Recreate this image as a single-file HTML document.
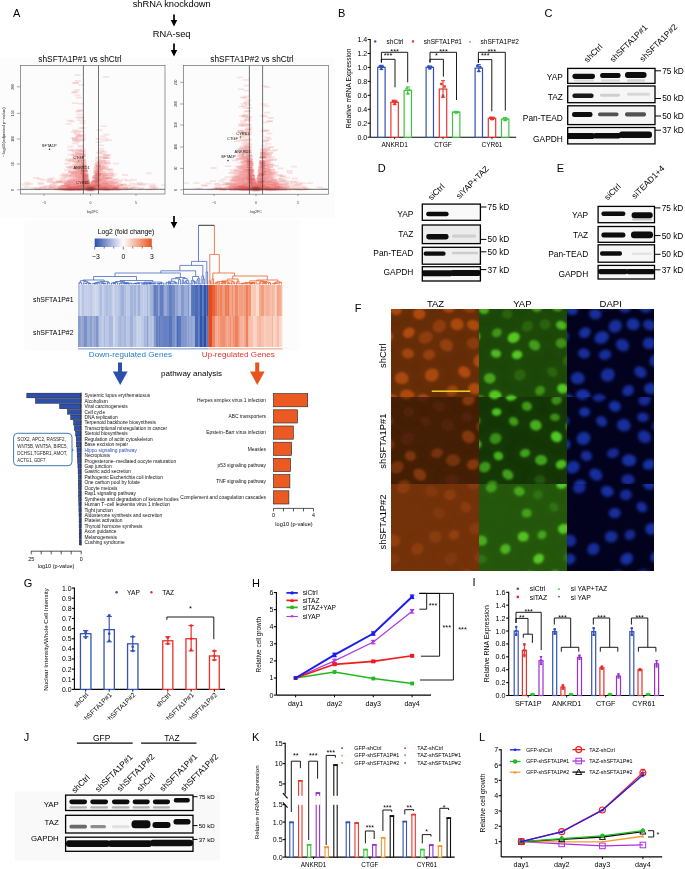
<!DOCTYPE html>
<html><head><meta charset="utf-8"><title>Figure</title>
<style>
html,body{margin:0;padding:0;background:#fff;}
svg{display:block;}
text{font-family:"Liberation Sans", Arial, sans-serif;}
</style></head><body>
<svg width="685" height="869" viewBox="0 0 685 869">
<defs><filter id="vb" x="-20%" y="-50%" width="140%" height="200%"><feGaussianBlur stdDeviation="0.35"/></filter><filter id="vb2" x="-50%" y="-50%" width="200%" height="200%"><feGaussianBlur stdDeviation="1.0"/></filter></defs>
<rect x="0.00" y="58.00" width="335.00" height="160.00" fill="#fcfcfc"/>
<rect x="24.50" y="219.60" width="275.00" height="130.70" fill="#fcfcfc"/>
<text x="13.00" y="17.20" font-size="11">A</text>
<text x="171.70" y="6.90" font-size="9.3" text-anchor="middle">shRNA knockdown</text>
<rect x="173.15" y="14.50" width="1.70" height="6.00" fill="#000"/><polygon points="170.75,20.00 177.25,20.00 174.00,26.50" fill="#000"/>
<text x="171.70" y="36.80" font-size="9.3" text-anchor="middle">RNA-seq</text>
<rect x="173.15" y="43.50" width="1.70" height="7.00" fill="#000"/><polygon points="170.75,50.00 177.25,50.00 174.00,56.50" fill="#000"/>
<text x="80.00" y="62.30" font-size="8.3" text-anchor="middle">shSFTA1P#1 vs shCtrl</text>
<text x="252.00" y="62.30" font-size="8.3" text-anchor="middle">shSFTA1P#2 vs shCtrl</text>
<clipPath id="vclip11"><rect x="20.3" y="65.5" width="144.7" height="128.5"/></clipPath>
<g clip-path="url(#vclip11)">
<path d="M72.8 172.8h6.2v1.8h-6.2zM79.7 178.4h6.2v1.8h-6.2zM69.5 188.4h6.2v1.8h-6.2zM72.7 161.0h6.2v1.8h-6.2zM70.6 137.3h6.2v1.8h-6.2zM77.5 172.4h6.2v1.8h-6.2zM79.9 148.5h6.2v1.8h-6.2zM96.5 168.7h6.2v1.8h-6.2zM77.6 175.1h6.2v1.8h-6.2zM39.5 179.1h6.2v1.8h-6.2zM148.7 186.2h6.2v1.8h-6.2zM69.0 165.5h6.2v1.8h-6.2zM161.2 184.2h6.2v1.8h-6.2zM75.8 184.3h6.2v1.8h-6.2zM119.8 187.0h6.2v1.8h-6.2zM106.8 177.0h6.2v1.8h-6.2zM71.3 164.6h6.2v1.8h-6.2zM58.1 186.0h6.2v1.8h-6.2zM78.6 177.4h6.2v1.8h-6.2zM101.1 177.1h6.2v1.8h-6.2zM95.9 173.0h6.2v1.8h-6.2zM78.8 182.8h6.2v1.8h-6.2zM77.5 187.1h6.2v1.8h-6.2zM102.9 182.3h6.2v1.8h-6.2zM104.2 188.3h6.2v1.8h-6.2zM75.1 177.4h6.2v1.8h-6.2zM72.3 182.7h6.2v1.8h-6.2zM79.6 120.0h6.2v1.8h-6.2zM69.6 170.2h6.2v1.8h-6.2zM109.3 178.9h6.2v1.8h-6.2zM70.2 183.3h6.2v1.8h-6.2zM101.7 188.7h6.2v1.8h-6.2zM60.2 186.5h6.2v1.8h-6.2zM112.8 186.8h6.2v1.8h-6.2zM99.8 153.8h6.2v1.8h-6.2zM102.9 157.2h6.2v1.8h-6.2zM51.8 181.3h6.2v1.8h-6.2zM99.5 183.4h6.2v1.8h-6.2zM98.0 167.7h6.2v1.8h-6.2zM67.2 187.8h6.2v1.8h-6.2zM79.4 122.3h6.2v1.8h-6.2zM95.4 179.5h6.2v1.8h-6.2zM67.7 153.7h6.2v1.8h-6.2zM79.5 155.1h6.2v1.8h-6.2zM68.5 174.0h6.2v1.8h-6.2zM46.2 185.8h6.2v1.8h-6.2zM24.3 181.8h6.2v1.8h-6.2zM103.4 174.3h6.2v1.8h-6.2zM59.0 174.7h6.2v1.8h-6.2zM100.1 173.1h6.2v1.8h-6.2zM76.3 136.6h6.2v1.8h-6.2zM77.6 117.0h6.2v1.8h-6.2zM78.7 173.5h6.2v1.8h-6.2zM109.5 187.9h6.2v1.8h-6.2zM120.9 178.7h6.2v1.8h-6.2zM104.3 185.6h6.2v1.8h-6.2zM101.4 182.8h6.2v1.8h-6.2zM74.9 188.1h6.2v1.8h-6.2zM76.6 153.7h6.2v1.8h-6.2zM79.5 186.3h6.2v1.8h-6.2zM73.2 175.1h6.2v1.8h-6.2zM58.3 181.0h6.2v1.8h-6.2zM76.8 154.0h6.2v1.8h-6.2zM68.2 183.9h6.2v1.8h-6.2zM37.0 177.9h6.2v1.8h-6.2zM53.7 181.4h6.2v1.8h-6.2zM102.3 166.8h6.2v1.8h-6.2zM100.7 175.8h6.2v1.8h-6.2zM121.4 188.6h6.2v1.8h-6.2zM150.8 185.3h6.2v1.8h-6.2zM126.6 187.7h6.2v1.8h-6.2zM100.7 165.4h6.2v1.8h-6.2zM71.8 185.7h6.2v1.8h-6.2zM75.1 166.2h6.2v1.8h-6.2zM73.4 179.3h6.2v1.8h-6.2zM97.5 185.5h6.2v1.8h-6.2zM77.4 168.1h6.2v1.8h-6.2zM101.2 181.2h6.2v1.8h-6.2zM98.9 181.1h6.2v1.8h-6.2zM109.2 186.3h6.2v1.8h-6.2zM69.0 186.0h6.2v1.8h-6.2zM72.5 156.6h6.2v1.8h-6.2zM61.3 182.7h6.2v1.8h-6.2zM73.9 165.4h6.2v1.8h-6.2zM105.1 154.1h6.2v1.8h-6.2zM78.3 150.4h6.2v1.8h-6.2zM74.3 185.2h6.2v1.8h-6.2zM101.6 139.7h6.2v1.8h-6.2zM62.9 180.3h6.2v1.8h-6.2zM96.0 165.4h6.2v1.8h-6.2zM94.9 178.4h6.2v1.8h-6.2zM95.1 181.5h6.2v1.8h-6.2zM96.6 170.3h6.2v1.8h-6.2zM105.2 184.8h6.2v1.8h-6.2zM78.8 172.9h6.2v1.8h-6.2zM66.5 188.7h6.2v1.8h-6.2zM43.1 185.7h6.2v1.8h-6.2zM71.1 172.2h6.2v1.8h-6.2zM73.2 171.6h6.2v1.8h-6.2zM76.7 119.3h6.2v1.8h-6.2zM73.7 162.6h6.2v1.8h-6.2zM102.6 185.6h6.2v1.8h-6.2zM73.3 188.9h6.2v1.8h-6.2zM102.3 183.9h6.2v1.8h-6.2zM129.0 182.7h6.2v1.8h-6.2zM110.1 186.5h6.2v1.8h-6.2zM80.1 177.7h6.2v1.8h-6.2zM104.9 178.8h6.2v1.8h-6.2zM77.5 177.0h6.2v1.8h-6.2zM70.7 174.3h6.2v1.8h-6.2zM107.6 172.3h6.2v1.8h-6.2zM77.5 167.7h6.2v1.8h-6.2zM63.0 184.7h6.2v1.8h-6.2zM46.9 178.6h6.2v1.8h-6.2zM64.6 188.8h6.2v1.8h-6.2zM77.9 178.7h6.2v1.8h-6.2zM77.5 169.9h6.2v1.8h-6.2zM99.3 188.5h6.2v1.8h-6.2zM104.3 183.8h6.2v1.8h-6.2zM108.2 185.3h6.2v1.8h-6.2zM105.9 186.3h6.2v1.8h-6.2zM79.3 136.1h6.2v1.8h-6.2zM65.3 158.6h6.2v1.8h-6.2zM98.0 184.8h6.2v1.8h-6.2zM72.3 171.0h6.2v1.8h-6.2zM96.8 178.4h6.2v1.8h-6.2zM67.5 187.9h6.2v1.8h-6.2zM114.2 188.6h6.2v1.8h-6.2z" fill="#f08888" opacity="0.22" filter="url(#vb)"/>
<path d="M96.6 172.4h6.2v1.8h-6.2zM77.4 175.5h6.2v1.8h-6.2zM61.2 184.9h6.2v1.8h-6.2zM98.8 184.5h6.2v1.8h-6.2zM78.9 158.6h6.2v1.8h-6.2zM101.8 185.4h6.2v1.8h-6.2zM102.2 173.5h6.2v1.8h-6.2zM71.1 184.6h6.2v1.8h-6.2zM98.5 173.2h6.2v1.8h-6.2zM72.2 163.8h6.2v1.8h-6.2zM76.8 185.8h6.2v1.8h-6.2zM76.3 172.5h6.2v1.8h-6.2zM108.4 180.8h6.2v1.8h-6.2zM75.5 178.2h6.2v1.8h-6.2zM97.6 184.2h6.2v1.8h-6.2zM115.7 186.8h6.2v1.8h-6.2zM77.7 176.5h6.2v1.8h-6.2zM72.5 180.7h6.2v1.8h-6.2zM73.7 164.0h6.2v1.8h-6.2zM95.7 183.5h6.2v1.8h-6.2zM78.6 162.4h6.2v1.8h-6.2zM74.8 180.6h6.2v1.8h-6.2zM99.2 187.8h6.2v1.8h-6.2zM66.9 185.5h6.2v1.8h-6.2zM77.2 182.8h6.2v1.8h-6.2zM51.9 182.8h6.2v1.8h-6.2zM64.4 182.1h6.2v1.8h-6.2zM99.3 166.7h6.2v1.8h-6.2zM77.3 161.6h6.2v1.8h-6.2zM76.4 113.6h6.2v1.8h-6.2zM78.0 160.4h6.2v1.8h-6.2zM106.8 183.1h6.2v1.8h-6.2zM116.1 180.6h6.2v1.8h-6.2zM64.5 182.4h6.2v1.8h-6.2zM70.9 178.8h6.2v1.8h-6.2zM68.3 179.4h6.2v1.8h-6.2zM69.7 158.3h6.2v1.8h-6.2zM95.5 183.9h6.2v1.8h-6.2zM65.0 183.4h6.2v1.8h-6.2zM171.4 166.2h6.2v1.8h-6.2zM145.4 188.8h6.2v1.8h-6.2zM98.0 144.5h6.2v1.8h-6.2zM80.0 182.1h6.2v1.8h-6.2zM66.4 187.4h6.2v1.8h-6.2zM75.9 182.9h6.2v1.8h-6.2zM76.3 183.3h6.2v1.8h-6.2zM171.1 175.0h6.2v1.8h-6.2zM94.9 181.9h6.2v1.8h-6.2zM101.9 178.5h6.2v1.8h-6.2zM152.8 187.0h6.2v1.8h-6.2zM75.6 188.6h6.2v1.8h-6.2zM64.3 162.7h6.2v1.8h-6.2zM97.5 186.1h6.2v1.8h-6.2zM56.9 186.4h6.2v1.8h-6.2zM98.4 180.3h6.2v1.8h-6.2zM79.8 159.7h6.2v1.8h-6.2zM101.8 177.3h6.2v1.8h-6.2zM74.6 162.2h6.2v1.8h-6.2zM78.5 183.3h6.2v1.8h-6.2zM67.1 179.3h6.2v1.8h-6.2zM103.3 163.5h6.2v1.8h-6.2zM73.4 187.8h6.2v1.8h-6.2zM102.9 154.0h6.2v1.8h-6.2zM106.6 187.6h6.2v1.8h-6.2zM114.2 181.8h6.2v1.8h-6.2zM95.5 179.3h6.2v1.8h-6.2zM65.2 159.4h6.2v1.8h-6.2zM73.2 186.1h6.2v1.8h-6.2zM96.5 183.6h6.2v1.8h-6.2zM97.8 183.0h6.2v1.8h-6.2zM79.6 179.4h6.2v1.8h-6.2zM114.5 188.8h6.2v1.8h-6.2zM105.9 182.8h6.2v1.8h-6.2zM78.3 186.8h6.2v1.8h-6.2zM110.6 187.3h6.2v1.8h-6.2zM100.1 180.6h6.2v1.8h-6.2zM101.8 174.2h6.2v1.8h-6.2zM69.8 184.0h6.2v1.8h-6.2zM101.6 156.6h6.2v1.8h-6.2zM78.6 186.9h6.2v1.8h-6.2zM77.4 185.9h6.2v1.8h-6.2zM74.9 186.0h6.2v1.8h-6.2zM73.0 171.7h6.2v1.8h-6.2zM76.4 148.8h6.2v1.8h-6.2zM76.6 187.5h6.2v1.8h-6.2zM104.8 161.9h6.2v1.8h-6.2zM76.0 187.2h6.2v1.8h-6.2zM96.5 181.2h6.2v1.8h-6.2zM76.0 187.0h6.2v1.8h-6.2zM56.6 186.0h6.2v1.8h-6.2zM66.5 179.5h6.2v1.8h-6.2zM102.3 183.8h6.2v1.8h-6.2zM99.5 186.8h6.2v1.8h-6.2zM99.4 185.7h6.2v1.8h-6.2zM107.6 173.3h6.2v1.8h-6.2zM108.3 184.5h6.2v1.8h-6.2zM74.2 179.1h6.2v1.8h-6.2zM65.5 122.9h6.2v1.8h-6.2zM97.8 184.8h6.2v1.8h-6.2zM98.2 150.0h6.2v1.8h-6.2zM57.4 186.0h6.2v1.8h-6.2zM73.3 179.0h6.2v1.8h-6.2zM138.4 187.1h6.2v1.8h-6.2zM77.1 134.4h6.2v1.8h-6.2zM108.2 183.3h6.2v1.8h-6.2zM76.7 158.2h6.2v1.8h-6.2zM99.5 181.4h6.2v1.8h-6.2zM104.1 185.8h6.2v1.8h-6.2zM66.0 188.5h6.2v1.8h-6.2zM68.0 172.0h6.2v1.8h-6.2zM76.3 172.7h6.2v1.8h-6.2zM71.8 180.9h6.2v1.8h-6.2zM77.1 167.6h6.2v1.8h-6.2zM74.1 188.0h6.2v1.8h-6.2zM72.2 137.0h6.2v1.8h-6.2zM107.3 184.8h6.2v1.8h-6.2zM64.1 184.5h6.2v1.8h-6.2zM99.1 156.1h6.2v1.8h-6.2zM107.1 187.9h6.2v1.8h-6.2zM53.2 186.3h6.2v1.8h-6.2zM15.3 182.9h6.2v1.8h-6.2zM72.5 140.1h6.2v1.8h-6.2zM72.8 184.5h6.2v1.8h-6.2zM66.3 183.6h6.2v1.8h-6.2zM96.9 150.7h6.2v1.8h-6.2zM78.5 153.3h6.2v1.8h-6.2zM75.8 161.9h6.2v1.8h-6.2zM62.2 186.1h6.2v1.8h-6.2zM75.0 151.8h6.2v1.8h-6.2zM63.9 176.3h6.2v1.8h-6.2zM65.3 187.7h6.2v1.8h-6.2zM68.2 176.6h6.2v1.8h-6.2zM63.4 188.8h6.2v1.8h-6.2zM96.3 180.4h6.2v1.8h-6.2zM69.5 166.5h6.2v1.8h-6.2zM76.2 168.7h6.2v1.8h-6.2z" fill="#f08888" opacity="0.22" filter="url(#vb)"/>
<path d="M72.9 186.1h6.2v1.8h-6.2zM112.6 178.2h6.2v1.8h-6.2zM108.9 187.0h6.2v1.8h-6.2zM62.8 187.4h6.2v1.8h-6.2zM103.2 186.0h6.2v1.8h-6.2zM98.2 185.5h6.2v1.8h-6.2zM76.8 176.8h6.2v1.8h-6.2zM74.7 171.8h6.2v1.8h-6.2zM75.2 162.9h6.2v1.8h-6.2zM72.8 188.6h6.2v1.8h-6.2zM105.2 183.8h6.2v1.8h-6.2zM74.6 169.1h6.2v1.8h-6.2zM77.4 170.1h6.2v1.8h-6.2zM72.6 165.6h6.2v1.8h-6.2zM72.8 82.1h6.2v1.8h-6.2zM77.2 174.1h6.2v1.8h-6.2zM111.9 187.5h6.2v1.8h-6.2zM121.5 185.9h6.2v1.8h-6.2zM23.8 185.9h6.2v1.8h-6.2zM74.0 89.2h6.2v1.8h-6.2zM77.5 185.0h6.2v1.8h-6.2zM55.5 179.7h6.2v1.8h-6.2zM71.2 180.2h6.2v1.8h-6.2zM96.8 186.9h6.2v1.8h-6.2zM73.1 179.9h6.2v1.8h-6.2zM62.4 173.7h6.2v1.8h-6.2zM107.2 168.5h6.2v1.8h-6.2zM78.7 165.1h6.2v1.8h-6.2zM74.5 171.6h6.2v1.8h-6.2zM73.3 176.1h6.2v1.8h-6.2zM73.9 157.1h6.2v1.8h-6.2zM98.4 188.5h6.2v1.8h-6.2zM75.1 187.4h6.2v1.8h-6.2zM77.3 156.1h6.2v1.8h-6.2zM95.9 174.5h6.2v1.8h-6.2zM100.1 152.3h6.2v1.8h-6.2zM80.0 176.8h6.2v1.8h-6.2zM72.4 185.1h6.2v1.8h-6.2zM74.7 173.3h6.2v1.8h-6.2zM76.6 173.1h6.2v1.8h-6.2zM106.5 185.8h6.2v1.8h-6.2zM100.9 150.7h6.2v1.8h-6.2zM106.9 188.6h6.2v1.8h-6.2zM101.8 174.1h6.2v1.8h-6.2zM71.6 102.3h6.2v1.8h-6.2zM98.1 182.5h6.2v1.8h-6.2zM137.4 188.5h6.2v1.8h-6.2zM72.9 166.3h6.2v1.8h-6.2zM106.7 185.1h6.2v1.8h-6.2zM63.6 187.0h6.2v1.8h-6.2zM74.4 161.0h6.2v1.8h-6.2zM64.6 187.6h6.2v1.8h-6.2zM69.4 180.3h6.2v1.8h-6.2zM77.7 182.2h6.2v1.8h-6.2zM44.9 184.9h6.2v1.8h-6.2zM64.7 186.2h6.2v1.8h-6.2zM47.5 186.7h6.2v1.8h-6.2zM72.5 182.2h6.2v1.8h-6.2zM99.0 158.9h6.2v1.8h-6.2zM95.8 184.6h6.2v1.8h-6.2zM74.8 80.1h6.2v1.8h-6.2zM33.3 176.9h6.2v1.8h-6.2zM102.3 182.9h6.2v1.8h-6.2zM80.0 180.8h6.2v1.8h-6.2zM63.3 188.6h6.2v1.8h-6.2zM105.2 188.4h6.2v1.8h-6.2zM102.4 167.3h6.2v1.8h-6.2zM77.6 158.4h6.2v1.8h-6.2zM95.0 177.9h6.2v1.8h-6.2zM74.4 170.7h6.2v1.8h-6.2zM74.2 168.2h6.2v1.8h-6.2zM126.2 187.1h6.2v1.8h-6.2zM136.7 182.0h6.2v1.8h-6.2zM74.9 172.3h6.2v1.8h-6.2zM75.8 160.6h6.2v1.8h-6.2zM103.6 162.1h6.2v1.8h-6.2zM66.4 188.1h6.2v1.8h-6.2zM78.7 187.7h6.2v1.8h-6.2zM304.8 185.3h6.2v1.8h-6.2zM98.4 174.7h6.2v1.8h-6.2zM122.6 185.8h6.2v1.8h-6.2zM115.2 187.7h6.2v1.8h-6.2zM109.2 187.7h6.2v1.8h-6.2zM78.3 181.2h6.2v1.8h-6.2zM72.4 171.3h6.2v1.8h-6.2zM76.6 162.4h6.2v1.8h-6.2zM72.6 157.8h6.2v1.8h-6.2zM71.9 138.4h6.2v1.8h-6.2zM77.2 178.5h6.2v1.8h-6.2zM72.7 188.5h6.2v1.8h-6.2zM78.7 188.4h6.2v1.8h-6.2zM63.5 187.6h6.2v1.8h-6.2zM105.9 187.8h6.2v1.8h-6.2zM68.9 120.5h6.2v1.8h-6.2zM146.1 172.5h6.2v1.8h-6.2zM62.1 186.4h6.2v1.8h-6.2zM75.9 164.5h6.2v1.8h-6.2zM104.5 186.5h6.2v1.8h-6.2zM77.6 156.5h6.2v1.8h-6.2zM46.0 181.0h6.2v1.8h-6.2zM97.2 165.4h6.2v1.8h-6.2zM99.0 164.4h6.2v1.8h-6.2zM71.4 186.1h6.2v1.8h-6.2zM74.9 174.7h6.2v1.8h-6.2zM58.7 185.4h6.2v1.8h-6.2zM64.2 169.5h6.2v1.8h-6.2zM22.1 183.6h6.2v1.8h-6.2zM94.9 174.0h6.2v1.8h-6.2zM135.0 183.6h6.2v1.8h-6.2zM62.0 185.7h6.2v1.8h-6.2zM71.2 172.7h6.2v1.8h-6.2zM59.3 185.7h6.2v1.8h-6.2zM100.7 187.3h6.2v1.8h-6.2zM77.0 110.1h6.2v1.8h-6.2zM70.5 186.0h6.2v1.8h-6.2zM75.0 183.3h6.2v1.8h-6.2zM78.7 139.2h6.2v1.8h-6.2zM105.8 184.9h6.2v1.8h-6.2zM68.9 181.8h6.2v1.8h-6.2zM67.1 180.6h6.2v1.8h-6.2zM38.1 186.8h6.2v1.8h-6.2zM110.6 187.3h6.2v1.8h-6.2zM77.7 102.8h6.2v1.8h-6.2zM78.0 187.2h6.2v1.8h-6.2zM74.8 181.9h6.2v1.8h-6.2zM79.1 185.7h6.2v1.8h-6.2zM69.3 187.7h6.2v1.8h-6.2zM120.3 183.4h6.2v1.8h-6.2zM96.3 173.9h6.2v1.8h-6.2zM105.8 139.3h6.2v1.8h-6.2z" fill="#f08888" opacity="0.22" filter="url(#vb)"/>
<path d="M99.1 188.3h6.2v1.8h-6.2zM77.4 177.8h6.2v1.8h-6.2zM68.0 181.6h6.2v1.8h-6.2zM79.1 181.7h6.2v1.8h-6.2zM172.1 185.3h6.2v1.8h-6.2zM111.4 185.9h6.2v1.8h-6.2zM108.0 185.6h6.2v1.8h-6.2zM98.7 170.9h6.2v1.8h-6.2zM70.8 91.6h6.2v1.8h-6.2zM68.0 170.2h6.2v1.8h-6.2zM78.6 171.8h6.2v1.8h-6.2zM70.3 180.8h6.2v1.8h-6.2zM78.7 180.9h6.2v1.8h-6.2zM39.7 187.0h6.2v1.8h-6.2zM96.1 165.4h6.2v1.8h-6.2zM100.9 188.6h6.2v1.8h-6.2zM97.2 181.3h6.2v1.8h-6.2zM125.1 179.6h6.2v1.8h-6.2zM75.4 153.5h6.2v1.8h-6.2zM65.7 174.3h6.2v1.8h-6.2zM100.5 168.2h6.2v1.8h-6.2zM71.6 187.4h6.2v1.8h-6.2zM111.2 173.2h6.2v1.8h-6.2zM72.0 170.5h6.2v1.8h-6.2zM72.5 170.4h6.2v1.8h-6.2zM76.3 187.7h6.2v1.8h-6.2zM78.9 181.7h6.2v1.8h-6.2zM74.5 175.5h6.2v1.8h-6.2zM76.9 181.5h6.2v1.8h-6.2zM71.7 184.5h6.2v1.8h-6.2zM102.7 181.1h6.2v1.8h-6.2zM78.1 179.4h6.2v1.8h-6.2zM107.1 186.0h6.2v1.8h-6.2zM77.4 185.9h6.2v1.8h-6.2zM100.5 188.5h6.2v1.8h-6.2zM149.4 188.5h6.2v1.8h-6.2zM72.4 174.1h6.2v1.8h-6.2zM97.8 172.0h6.2v1.8h-6.2zM38.3 183.5h6.2v1.8h-6.2zM105.0 185.9h6.2v1.8h-6.2zM69.0 159.8h6.2v1.8h-6.2zM70.7 171.7h6.2v1.8h-6.2zM79.0 179.6h6.2v1.8h-6.2zM100.7 183.0h6.2v1.8h-6.2zM76.1 181.0h6.2v1.8h-6.2zM79.1 166.7h6.2v1.8h-6.2zM103.5 183.4h6.2v1.8h-6.2zM79.1 166.8h6.2v1.8h-6.2zM40.1 187.3h6.2v1.8h-6.2zM78.7 175.9h6.2v1.8h-6.2zM65.6 166.2h6.2v1.8h-6.2zM78.2 171.3h6.2v1.8h-6.2zM76.7 180.0h6.2v1.8h-6.2zM110.3 187.7h6.2v1.8h-6.2zM101.0 162.4h6.2v1.8h-6.2zM103.9 181.2h6.2v1.8h-6.2zM59.7 185.5h6.2v1.8h-6.2zM76.0 182.3h6.2v1.8h-6.2zM74.1 133.1h6.2v1.8h-6.2zM106.6 188.3h6.2v1.8h-6.2zM78.4 181.3h6.2v1.8h-6.2zM66.6 184.5h6.2v1.8h-6.2zM97.1 179.5h6.2v1.8h-6.2zM104.3 187.3h6.2v1.8h-6.2zM98.6 176.3h6.2v1.8h-6.2zM72.2 186.7h6.2v1.8h-6.2zM71.3 182.6h6.2v1.8h-6.2zM75.6 156.9h6.2v1.8h-6.2zM122.0 174.1h6.2v1.8h-6.2zM79.2 170.0h6.2v1.8h-6.2zM110.0 185.4h6.2v1.8h-6.2zM79.8 127.0h6.2v1.8h-6.2zM96.8 165.9h6.2v1.8h-6.2zM72.5 167.5h6.2v1.8h-6.2zM55.5 188.3h6.2v1.8h-6.2zM75.0 176.6h6.2v1.8h-6.2zM46.5 179.0h6.2v1.8h-6.2zM47.6 180.7h6.2v1.8h-6.2zM97.5 168.1h6.2v1.8h-6.2zM66.3 187.8h6.2v1.8h-6.2zM100.6 187.1h6.2v1.8h-6.2zM99.4 178.2h6.2v1.8h-6.2zM61.3 188.1h6.2v1.8h-6.2zM58.2 187.4h6.2v1.8h-6.2zM72.2 172.0h6.2v1.8h-6.2zM94.9 174.4h6.2v1.8h-6.2zM53.8 185.0h6.2v1.8h-6.2zM98.9 183.2h6.2v1.8h-6.2zM96.0 180.2h6.2v1.8h-6.2zM77.9 176.2h6.2v1.8h-6.2zM78.0 153.0h6.2v1.8h-6.2zM80.0 186.1h6.2v1.8h-6.2zM96.3 182.9h6.2v1.8h-6.2zM63.4 182.0h6.2v1.8h-6.2zM75.1 170.5h6.2v1.8h-6.2zM100.4 172.2h6.2v1.8h-6.2zM70.9 170.4h6.2v1.8h-6.2zM104.9 168.8h6.2v1.8h-6.2zM95.2 179.3h6.2v1.8h-6.2zM97.4 177.5h6.2v1.8h-6.2zM111.6 185.3h6.2v1.8h-6.2zM76.5 180.2h6.2v1.8h-6.2zM72.9 170.5h6.2v1.8h-6.2zM102.1 187.3h6.2v1.8h-6.2zM96.1 181.1h6.2v1.8h-6.2zM68.8 187.1h6.2v1.8h-6.2zM69.5 187.0h6.2v1.8h-6.2zM79.9 164.6h6.2v1.8h-6.2zM68.1 183.9h6.2v1.8h-6.2zM101.9 184.1h6.2v1.8h-6.2zM109.0 184.2h6.2v1.8h-6.2zM73.3 174.6h6.2v1.8h-6.2zM97.3 170.8h6.2v1.8h-6.2zM69.6 148.9h6.2v1.8h-6.2zM79.7 184.4h6.2v1.8h-6.2zM105.8 177.2h6.2v1.8h-6.2zM75.1 187.3h6.2v1.8h-6.2zM99.1 160.0h6.2v1.8h-6.2zM59.7 188.3h6.2v1.8h-6.2zM99.7 167.4h6.2v1.8h-6.2zM99.0 174.9h6.2v1.8h-6.2zM108.2 181.9h6.2v1.8h-6.2zM68.1 179.6h6.2v1.8h-6.2zM68.4 181.7h6.2v1.8h-6.2zM71.5 149.9h6.2v1.8h-6.2zM103.3 184.9h6.2v1.8h-6.2zM76.1 160.1h6.2v1.8h-6.2zM73.6 185.9h6.2v1.8h-6.2zM109.8 181.9h6.2v1.8h-6.2zM98.5 172.1h6.2v1.8h-6.2z" fill="#f08888" opacity="0.22" filter="url(#vb)"/>
<path d="M124.4 184.5h6.2v1.8h-6.2zM100.5 156.6h6.2v1.8h-6.2zM109.7 175.0h6.2v1.8h-6.2zM104.6 180.1h6.2v1.8h-6.2zM96.7 161.3h6.2v1.8h-6.2zM75.6 172.2h6.2v1.8h-6.2zM100.7 183.9h6.2v1.8h-6.2zM73.8 174.2h6.2v1.8h-6.2zM74.8 167.5h6.2v1.8h-6.2zM95.5 173.4h6.2v1.8h-6.2zM97.1 187.8h6.2v1.8h-6.2zM34.5 188.5h6.2v1.8h-6.2zM129.1 187.6h6.2v1.8h-6.2zM75.7 171.3h6.2v1.8h-6.2zM74.9 110.7h6.2v1.8h-6.2zM68.4 187.2h6.2v1.8h-6.2zM61.2 187.7h6.2v1.8h-6.2zM114.7 182.9h6.2v1.8h-6.2zM61.5 177.2h6.2v1.8h-6.2zM66.0 187.3h6.2v1.8h-6.2zM69.5 188.6h6.2v1.8h-6.2zM60.2 185.4h6.2v1.8h-6.2zM78.0 169.9h6.2v1.8h-6.2zM72.8 183.0h6.2v1.8h-6.2zM60.8 188.0h6.2v1.8h-6.2zM78.3 188.5h6.2v1.8h-6.2zM76.8 109.0h6.2v1.8h-6.2zM103.0 176.0h6.2v1.8h-6.2zM76.3 161.1h6.2v1.8h-6.2zM95.4 183.6h6.2v1.8h-6.2zM68.6 174.9h6.2v1.8h-6.2zM75.7 152.4h6.2v1.8h-6.2zM64.7 188.5h6.2v1.8h-6.2zM75.1 116.4h6.2v1.8h-6.2zM112.7 188.0h6.2v1.8h-6.2zM76.3 174.6h6.2v1.8h-6.2zM104.2 188.7h6.2v1.8h-6.2zM64.0 183.3h6.2v1.8h-6.2zM103.6 187.7h6.2v1.8h-6.2zM75.7 183.6h6.2v1.8h-6.2zM79.1 177.3h6.2v1.8h-6.2zM100.2 184.4h6.2v1.8h-6.2zM94.9 181.0h6.2v1.8h-6.2zM111.8 181.7h6.2v1.8h-6.2zM61.5 173.0h6.2v1.8h-6.2zM53.9 187.3h6.2v1.8h-6.2zM63.7 181.7h6.2v1.8h-6.2zM96.2 187.8h6.2v1.8h-6.2zM107.5 185.5h6.2v1.8h-6.2zM96.5 186.3h6.2v1.8h-6.2zM114.5 188.2h6.2v1.8h-6.2zM116.5 186.7h6.2v1.8h-6.2zM116.7 184.6h6.2v1.8h-6.2zM79.0 166.3h6.2v1.8h-6.2zM149.4 183.5h6.2v1.8h-6.2zM58.8 188.6h6.2v1.8h-6.2zM108.7 186.2h6.2v1.8h-6.2zM107.2 170.8h6.2v1.8h-6.2zM69.2 180.9h6.2v1.8h-6.2zM78.1 178.6h6.2v1.8h-6.2zM111.5 185.0h6.2v1.8h-6.2zM71.9 173.5h6.2v1.8h-6.2zM74.5 172.4h6.2v1.8h-6.2zM67.6 178.2h6.2v1.8h-6.2zM79.0 154.1h6.2v1.8h-6.2zM77.3 144.8h6.2v1.8h-6.2zM96.7 168.5h6.2v1.8h-6.2zM103.7 160.0h6.2v1.8h-6.2zM78.0 187.7h6.2v1.8h-6.2zM45.2 187.6h6.2v1.8h-6.2zM115.0 184.1h6.2v1.8h-6.2zM78.3 176.4h6.2v1.8h-6.2zM75.1 185.0h6.2v1.8h-6.2zM110.0 188.3h6.2v1.8h-6.2zM102.0 182.7h6.2v1.8h-6.2zM66.7 166.1h6.2v1.8h-6.2zM99.6 188.3h6.2v1.8h-6.2zM70.7 188.5h6.2v1.8h-6.2zM103.4 133.8h6.2v1.8h-6.2zM75.5 135.5h6.2v1.8h-6.2zM101.7 177.3h6.2v1.8h-6.2zM64.6 180.8h6.2v1.8h-6.2zM78.3 171.6h6.2v1.8h-6.2zM66.9 182.9h6.2v1.8h-6.2zM79.2 185.3h6.2v1.8h-6.2zM34.0 187.3h6.2v1.8h-6.2zM70.0 177.8h6.2v1.8h-6.2zM52.9 188.5h6.2v1.8h-6.2zM78.1 168.8h6.2v1.8h-6.2zM96.2 178.6h6.2v1.8h-6.2zM72.1 185.5h6.2v1.8h-6.2zM79.2 187.3h6.2v1.8h-6.2zM76.7 170.8h6.2v1.8h-6.2zM79.5 173.9h6.2v1.8h-6.2zM69.7 188.2h6.2v1.8h-6.2zM100.2 187.7h6.2v1.8h-6.2zM101.3 183.7h6.2v1.8h-6.2zM68.1 185.9h6.2v1.8h-6.2zM66.1 184.7h6.2v1.8h-6.2zM67.2 149.2h6.2v1.8h-6.2zM73.3 168.2h6.2v1.8h-6.2zM95.6 179.4h6.2v1.8h-6.2zM72.8 158.4h6.2v1.8h-6.2zM70.6 183.6h6.2v1.8h-6.2zM95.8 151.9h6.2v1.8h-6.2zM100.6 125.3h6.2v1.8h-6.2zM78.9 159.8h6.2v1.8h-6.2zM77.3 152.6h6.2v1.8h-6.2zM75.1 188.2h6.2v1.8h-6.2zM103.1 188.6h6.2v1.8h-6.2zM95.8 179.1h6.2v1.8h-6.2zM99.1 179.1h6.2v1.8h-6.2zM97.2 162.7h6.2v1.8h-6.2zM99.7 135.5h6.2v1.8h-6.2zM73.3 165.3h6.2v1.8h-6.2zM77.9 116.2h6.2v1.8h-6.2zM66.3 183.6h6.2v1.8h-6.2zM98.9 185.7h6.2v1.8h-6.2zM95.2 187.9h6.2v1.8h-6.2zM96.0 177.9h6.2v1.8h-6.2zM111.0 182.1h6.2v1.8h-6.2zM96.1 187.2h6.2v1.8h-6.2zM112.2 188.7h6.2v1.8h-6.2zM53.0 181.4h6.2v1.8h-6.2zM59.4 187.7h6.2v1.8h-6.2zM96.4 129.3h6.2v1.8h-6.2zM136.8 183.1h6.2v1.8h-6.2zM63.8 186.3h6.2v1.8h-6.2zM79.4 187.3h6.2v1.8h-6.2zM79.8 186.1h6.2v1.8h-6.2zM69.9 178.9h6.2v1.8h-6.2zM123.6 184.7h6.2v1.8h-6.2zM56.7 180.9h6.2v1.8h-6.2zM62.3 185.0h6.2v1.8h-6.2zM79.2 158.0h6.2v1.8h-6.2z" fill="#f08888" opacity="0.22" filter="url(#vb)"/>
<path d="M63.0 188.5h6.2v1.8h-6.2zM73.7 186.5h6.2v1.8h-6.2zM98.3 188.4h6.2v1.8h-6.2zM98.8 186.9h6.2v1.8h-6.2zM104.7 188.0h6.2v1.8h-6.2zM64.4 183.8h6.2v1.8h-6.2zM79.3 169.7h6.2v1.8h-6.2zM106.4 168.7h6.2v1.8h-6.2zM72.3 139.3h6.2v1.8h-6.2zM49.7 183.2h6.2v1.8h-6.2zM103.7 184.2h6.2v1.8h-6.2zM63.8 187.4h6.2v1.8h-6.2zM106.1 183.2h6.2v1.8h-6.2zM50.8 184.4h6.2v1.8h-6.2zM101.1 160.4h6.2v1.8h-6.2zM99.5 178.6h6.2v1.8h-6.2zM79.4 187.4h6.2v1.8h-6.2zM49.8 186.6h6.2v1.8h-6.2zM67.2 167.4h6.2v1.8h-6.2zM110.5 184.4h6.2v1.8h-6.2zM75.6 169.8h6.2v1.8h-6.2zM64.5 188.6h6.2v1.8h-6.2zM55.9 187.4h6.2v1.8h-6.2zM73.3 154.3h6.2v1.8h-6.2zM76.3 175.7h6.2v1.8h-6.2zM76.3 156.4h6.2v1.8h-6.2zM78.7 130.6h6.2v1.8h-6.2zM79.1 164.0h6.2v1.8h-6.2zM74.6 185.8h6.2v1.8h-6.2zM100.5 174.1h6.2v1.8h-6.2zM79.8 151.3h6.2v1.8h-6.2zM76.4 171.0h6.2v1.8h-6.2zM67.2 184.2h6.2v1.8h-6.2zM96.8 183.9h6.2v1.8h-6.2zM76.9 181.3h6.2v1.8h-6.2zM71.8 183.1h6.2v1.8h-6.2zM103.1 187.9h6.2v1.8h-6.2zM75.2 183.8h6.2v1.8h-6.2zM72.8 182.9h6.2v1.8h-6.2zM97.5 184.8h6.2v1.8h-6.2zM72.0 129.2h6.2v1.8h-6.2zM102.6 182.7h6.2v1.8h-6.2zM102.1 137.8h6.2v1.8h-6.2zM73.7 179.7h6.2v1.8h-6.2zM110.2 179.6h6.2v1.8h-6.2zM98.6 177.6h6.2v1.8h-6.2zM77.2 173.7h6.2v1.8h-6.2zM66.7 119.8h6.2v1.8h-6.2zM100.9 176.1h6.2v1.8h-6.2zM72.4 180.7h6.2v1.8h-6.2zM79.6 167.4h6.2v1.8h-6.2zM75.0 138.2h6.2v1.8h-6.2zM75.3 149.1h6.2v1.8h-6.2zM79.9 138.3h6.2v1.8h-6.2zM109.5 186.6h6.2v1.8h-6.2zM73.1 179.1h6.2v1.8h-6.2zM74.3 188.2h6.2v1.8h-6.2zM111.4 181.9h6.2v1.8h-6.2zM79.8 180.9h6.2v1.8h-6.2zM78.0 167.2h6.2v1.8h-6.2zM36.5 188.3h6.2v1.8h-6.2zM101.3 171.3h6.2v1.8h-6.2zM63.1 188.8h6.2v1.8h-6.2zM79.6 155.6h6.2v1.8h-6.2zM150.4 187.5h6.2v1.8h-6.2zM69.0 184.0h6.2v1.8h-6.2zM77.4 151.5h6.2v1.8h-6.2zM101.7 181.3h6.2v1.8h-6.2zM106.6 181.2h6.2v1.8h-6.2zM78.4 175.2h6.2v1.8h-6.2zM96.2 168.6h6.2v1.8h-6.2zM79.6 172.8h6.2v1.8h-6.2zM95.3 172.9h6.2v1.8h-6.2zM55.5 188.7h6.2v1.8h-6.2zM102.2 185.3h6.2v1.8h-6.2zM71.9 81.9h6.2v1.8h-6.2zM101.7 179.5h6.2v1.8h-6.2zM79.8 153.9h6.2v1.8h-6.2zM79.0 171.8h6.2v1.8h-6.2zM77.8 161.9h6.2v1.8h-6.2zM77.8 187.2h6.2v1.8h-6.2zM57.4 188.9h6.2v1.8h-6.2zM99.7 173.2h6.2v1.8h-6.2zM108.8 181.7h6.2v1.8h-6.2zM95.6 186.4h6.2v1.8h-6.2zM96.3 185.9h6.2v1.8h-6.2zM78.4 186.9h6.2v1.8h-6.2zM78.8 171.3h6.2v1.8h-6.2zM65.8 180.6h6.2v1.8h-6.2zM98.2 148.0h6.2v1.8h-6.2zM112.1 185.7h6.2v1.8h-6.2zM73.9 168.2h6.2v1.8h-6.2zM78.0 127.3h6.2v1.8h-6.2zM97.2 188.5h6.2v1.8h-6.2zM112.7 184.8h6.2v1.8h-6.2zM96.4 184.7h6.2v1.8h-6.2zM74.2 171.0h6.2v1.8h-6.2zM102.1 157.1h6.2v1.8h-6.2zM103.8 182.6h6.2v1.8h-6.2zM75.3 174.6h6.2v1.8h-6.2zM97.0 182.3h6.2v1.8h-6.2zM78.2 182.0h6.2v1.8h-6.2zM68.9 187.0h6.2v1.8h-6.2zM75.3 135.7h6.2v1.8h-6.2zM95.6 141.2h6.2v1.8h-6.2zM95.4 178.2h6.2v1.8h-6.2zM79.7 181.5h6.2v1.8h-6.2zM71.7 185.3h6.2v1.8h-6.2zM76.9 187.5h6.2v1.8h-6.2zM61.5 174.9h6.2v1.8h-6.2zM66.6 180.8h6.2v1.8h-6.2zM96.7 184.6h6.2v1.8h-6.2zM76.6 166.3h6.2v1.8h-6.2zM77.9 170.1h6.2v1.8h-6.2zM79.4 185.6h6.2v1.8h-6.2zM72.5 185.7h6.2v1.8h-6.2zM67.5 160.4h6.2v1.8h-6.2zM107.1 188.9h6.2v1.8h-6.2zM62.8 181.7h6.2v1.8h-6.2zM73.4 131.4h6.2v1.8h-6.2zM59.4 177.4h6.2v1.8h-6.2zM104.5 176.6h6.2v1.8h-6.2zM74.8 152.6h6.2v1.8h-6.2zM58.7 181.5h6.2v1.8h-6.2zM37.6 182.1h6.2v1.8h-6.2zM60.1 179.2h6.2v1.8h-6.2zM100.6 178.9h6.2v1.8h-6.2z" fill="#f08888" opacity="0.22" filter="url(#vb)"/>
<path d="M94.9 184.7h6.2v1.8h-6.2zM142.9 182.9h6.2v1.8h-6.2zM74.5 140.8h6.2v1.8h-6.2zM76.2 175.2h6.2v1.8h-6.2zM53.8 188.3h6.2v1.8h-6.2zM99.3 188.5h6.2v1.8h-6.2zM71.3 172.4h6.2v1.8h-6.2zM65.7 188.7h6.2v1.8h-6.2zM76.4 184.3h6.2v1.8h-6.2zM103.1 182.6h6.2v1.8h-6.2zM102.9 76.0h6.2v1.8h-6.2zM98.5 185.7h6.2v1.8h-6.2zM102.2 165.5h6.2v1.8h-6.2zM75.6 134.5h6.2v1.8h-6.2zM76.7 164.6h6.2v1.8h-6.2zM58.5 179.9h6.2v1.8h-6.2zM75.6 175.0h6.2v1.8h-6.2zM74.4 182.0h6.2v1.8h-6.2zM128.9 184.7h6.2v1.8h-6.2zM69.1 187.6h6.2v1.8h-6.2zM74.7 187.7h6.2v1.8h-6.2zM71.8 150.8h6.2v1.8h-6.2zM65.7 180.0h6.2v1.8h-6.2zM101.8 182.2h6.2v1.8h-6.2zM80.1 165.1h6.2v1.8h-6.2zM103.0 174.4h6.2v1.8h-6.2zM72.6 152.5h6.2v1.8h-6.2zM106.9 174.7h6.2v1.8h-6.2zM75.7 183.5h6.2v1.8h-6.2zM114.9 179.5h6.2v1.8h-6.2zM112.0 181.5h6.2v1.8h-6.2zM111.3 185.9h6.2v1.8h-6.2zM100.5 183.3h6.2v1.8h-6.2zM71.5 180.5h6.2v1.8h-6.2zM69.1 168.4h6.2v1.8h-6.2zM63.7 184.6h6.2v1.8h-6.2zM111.6 186.2h6.2v1.8h-6.2zM111.3 185.5h6.2v1.8h-6.2zM72.0 160.4h6.2v1.8h-6.2zM78.4 174.4h6.2v1.8h-6.2zM99.6 180.8h6.2v1.8h-6.2zM74.5 74.2h6.2v1.8h-6.2zM98.5 172.5h6.2v1.8h-6.2zM77.9 170.2h6.2v1.8h-6.2zM95.0 188.4h6.2v1.8h-6.2zM112.4 182.9h6.2v1.8h-6.2zM76.3 184.3h6.2v1.8h-6.2zM109.2 181.8h6.2v1.8h-6.2zM79.3 187.0h6.2v1.8h-6.2zM70.1 178.2h6.2v1.8h-6.2zM99.3 172.9h6.2v1.8h-6.2zM72.2 154.6h6.2v1.8h-6.2zM97.3 187.2h6.2v1.8h-6.2zM107.3 177.4h6.2v1.8h-6.2zM69.2 175.2h6.2v1.8h-6.2zM100.2 185.2h6.2v1.8h-6.2zM99.9 162.0h6.2v1.8h-6.2zM68.5 185.9h6.2v1.8h-6.2zM26.6 183.1h6.2v1.8h-6.2zM13.1 186.2h6.2v1.8h-6.2zM104.0 188.3h6.2v1.8h-6.2zM64.0 182.1h6.2v1.8h-6.2zM79.9 153.3h6.2v1.8h-6.2zM73.6 186.1h6.2v1.8h-6.2zM130.6 179.0h6.2v1.8h-6.2zM129.9 187.4h6.2v1.8h-6.2zM114.9 185.9h6.2v1.8h-6.2zM75.6 181.5h6.2v1.8h-6.2zM57.5 186.6h6.2v1.8h-6.2zM68.0 179.8h6.2v1.8h-6.2zM77.1 181.8h6.2v1.8h-6.2zM78.5 168.9h6.2v1.8h-6.2zM77.0 176.4h6.2v1.8h-6.2zM100.9 178.9h6.2v1.8h-6.2zM55.7 180.9h6.2v1.8h-6.2zM98.7 175.7h6.2v1.8h-6.2zM76.6 184.9h6.2v1.8h-6.2zM104.7 156.9h6.2v1.8h-6.2zM76.3 172.2h6.2v1.8h-6.2zM97.7 182.3h6.2v1.8h-6.2zM75.7 184.8h6.2v1.8h-6.2zM107.0 184.2h6.2v1.8h-6.2zM133.4 186.8h6.2v1.8h-6.2zM76.9 150.2h6.2v1.8h-6.2zM66.6 188.0h6.2v1.8h-6.2zM107.6 180.8h6.2v1.8h-6.2zM107.2 187.8h6.2v1.8h-6.2zM76.8 180.1h6.2v1.8h-6.2zM78.1 186.7h6.2v1.8h-6.2zM68.3 171.4h6.2v1.8h-6.2zM68.0 182.2h6.2v1.8h-6.2zM72.3 142.5h6.2v1.8h-6.2zM109.7 186.5h6.2v1.8h-6.2zM68.4 187.7h6.2v1.8h-6.2zM97.2 161.1h6.2v1.8h-6.2zM99.1 186.1h6.2v1.8h-6.2zM99.1 160.6h6.2v1.8h-6.2zM59.9 184.6h6.2v1.8h-6.2zM78.8 169.6h6.2v1.8h-6.2zM97.1 179.7h6.2v1.8h-6.2zM59.3 188.9h6.2v1.8h-6.2zM76.6 182.1h6.2v1.8h-6.2zM74.0 178.8h6.2v1.8h-6.2zM99.1 186.7h6.2v1.8h-6.2zM72.7 176.2h6.2v1.8h-6.2zM65.6 186.3h6.2v1.8h-6.2zM65.5 184.5h6.2v1.8h-6.2zM79.0 184.4h6.2v1.8h-6.2zM64.5 185.5h6.2v1.8h-6.2zM70.7 131.0h6.2v1.8h-6.2zM71.4 179.6h6.2v1.8h-6.2zM74.0 185.7h6.2v1.8h-6.2zM13.4 184.1h6.2v1.8h-6.2zM123.2 188.5h6.2v1.8h-6.2zM103.0 188.7h6.2v1.8h-6.2zM72.2 183.9h6.2v1.8h-6.2zM72.4 91.1h6.2v1.8h-6.2zM108.1 184.4h6.2v1.8h-6.2zM78.7 159.3h6.2v1.8h-6.2zM96.3 182.9h6.2v1.8h-6.2zM74.8 188.4h6.2v1.8h-6.2zM66.8 188.4h6.2v1.8h-6.2zM76.2 172.5h6.2v1.8h-6.2zM117.6 188.2h6.2v1.8h-6.2zM120.8 183.8h6.2v1.8h-6.2zM78.4 173.8h6.2v1.8h-6.2zM80.0 158.7h6.2v1.8h-6.2z" fill="#f08888" opacity="0.22" filter="url(#vb)"/>
<path d="M96.6 175.2h6.2v1.8h-6.2zM75.1 184.5h6.2v1.8h-6.2zM75.1 169.2h6.2v1.8h-6.2zM64.8 185.3h6.2v1.8h-6.2zM79.7 182.8h6.2v1.8h-6.2zM72.1 138.5h6.2v1.8h-6.2zM78.4 173.0h6.2v1.8h-6.2zM43.0 188.2h6.2v1.8h-6.2zM78.4 83.9h6.2v1.8h-6.2zM66.9 185.3h6.2v1.8h-6.2zM96.6 169.7h6.2v1.8h-6.2zM62.6 185.4h6.2v1.8h-6.2zM48.8 184.6h6.2v1.8h-6.2zM104.7 186.7h6.2v1.8h-6.2zM56.5 181.3h6.2v1.8h-6.2zM99.2 166.9h6.2v1.8h-6.2zM76.9 176.7h6.2v1.8h-6.2zM49.9 187.8h6.2v1.8h-6.2zM73.6 187.2h6.2v1.8h-6.2zM66.0 184.8h6.2v1.8h-6.2zM73.6 187.8h6.2v1.8h-6.2zM99.7 168.6h6.2v1.8h-6.2zM73.1 182.7h6.2v1.8h-6.2zM100.9 168.5h6.2v1.8h-6.2zM76.9 159.8h6.2v1.8h-6.2zM76.6 181.1h6.2v1.8h-6.2zM74.7 182.7h6.2v1.8h-6.2zM67.3 145.8h6.2v1.8h-6.2zM79.0 184.9h6.2v1.8h-6.2zM108.4 183.5h6.2v1.8h-6.2zM79.3 185.3h6.2v1.8h-6.2zM107.8 175.0h6.2v1.8h-6.2zM71.5 178.8h6.2v1.8h-6.2zM139.8 184.3h6.2v1.8h-6.2zM61.0 187.7h6.2v1.8h-6.2zM95.3 180.9h6.2v1.8h-6.2zM106.3 184.3h6.2v1.8h-6.2zM78.1 145.9h6.2v1.8h-6.2zM78.0 139.6h6.2v1.8h-6.2zM69.0 184.7h6.2v1.8h-6.2zM108.0 188.6h6.2v1.8h-6.2zM71.7 171.7h6.2v1.8h-6.2zM71.7 180.8h6.2v1.8h-6.2zM67.7 175.8h6.2v1.8h-6.2zM101.7 177.3h6.2v1.8h-6.2zM71.5 179.4h6.2v1.8h-6.2zM74.5 94.4h6.2v1.8h-6.2zM70.6 184.1h6.2v1.8h-6.2zM68.8 185.6h6.2v1.8h-6.2zM78.5 159.5h6.2v1.8h-6.2zM68.2 180.6h6.2v1.8h-6.2zM68.4 184.8h6.2v1.8h-6.2zM79.5 150.2h6.2v1.8h-6.2zM44.5 187.7h6.2v1.8h-6.2zM96.1 161.7h6.2v1.8h-6.2zM97.9 169.7h6.2v1.8h-6.2zM107.1 181.1h6.2v1.8h-6.2zM94.9 170.6h6.2v1.8h-6.2zM75.8 188.0h6.2v1.8h-6.2zM104.8 188.3h6.2v1.8h-6.2zM95.5 176.5h6.2v1.8h-6.2zM102.3 187.2h6.2v1.8h-6.2zM103.8 185.6h6.2v1.8h-6.2zM75.9 168.0h6.2v1.8h-6.2zM100.4 180.6h6.2v1.8h-6.2zM100.4 168.9h6.2v1.8h-6.2zM77.8 178.8h6.2v1.8h-6.2zM66.9 185.1h6.2v1.8h-6.2zM64.8 175.0h6.2v1.8h-6.2zM97.6 175.2h6.2v1.8h-6.2zM77.7 134.1h6.2v1.8h-6.2zM71.1 154.2h6.2v1.8h-6.2zM67.5 183.0h6.2v1.8h-6.2zM95.7 186.6h6.2v1.8h-6.2zM72.8 171.5h6.2v1.8h-6.2zM98.4 164.4h6.2v1.8h-6.2zM75.1 165.6h6.2v1.8h-6.2zM40.5 186.1h6.2v1.8h-6.2zM99.1 185.3h6.2v1.8h-6.2zM113.0 162.8h6.2v1.8h-6.2zM102.5 185.1h6.2v1.8h-6.2zM71.8 159.1h6.2v1.8h-6.2zM108.4 186.9h6.2v1.8h-6.2zM102.8 188.5h6.2v1.8h-6.2zM77.5 188.1h6.2v1.8h-6.2zM61.0 188.7h6.2v1.8h-6.2zM111.6 187.4h6.2v1.8h-6.2zM79.8 175.3h6.2v1.8h-6.2zM67.0 187.2h6.2v1.8h-6.2zM149.2 185.4h6.2v1.8h-6.2zM69.9 172.9h6.2v1.8h-6.2zM76.9 167.9h6.2v1.8h-6.2zM74.3 184.1h6.2v1.8h-6.2zM74.8 130.5h6.2v1.8h-6.2zM75.7 185.8h6.2v1.8h-6.2zM95.5 138.1h6.2v1.8h-6.2zM30.9 186.9h6.2v1.8h-6.2zM79.6 134.3h6.2v1.8h-6.2zM108.5 187.9h6.2v1.8h-6.2zM97.3 174.5h6.2v1.8h-6.2zM104.2 181.3h6.2v1.8h-6.2zM65.5 183.0h6.2v1.8h-6.2zM76.0 176.5h6.2v1.8h-6.2zM99.4 187.2h6.2v1.8h-6.2zM106.0 182.4h6.2v1.8h-6.2zM103.3 155.1h6.2v1.8h-6.2zM78.9 183.6h6.2v1.8h-6.2zM98.8 183.1h6.2v1.8h-6.2zM78.9 169.6h6.2v1.8h-6.2zM100.1 181.9h6.2v1.8h-6.2zM67.6 188.8h6.2v1.8h-6.2zM72.2 184.6h6.2v1.8h-6.2zM99.6 179.0h6.2v1.8h-6.2zM79.1 163.7h6.2v1.8h-6.2zM78.1 184.5h6.2v1.8h-6.2zM97.1 184.1h6.2v1.8h-6.2zM73.6 177.7h6.2v1.8h-6.2zM95.9 186.0h6.2v1.8h-6.2zM67.7 171.1h6.2v1.8h-6.2zM74.1 171.3h6.2v1.8h-6.2zM75.9 96.7h6.2v1.8h-6.2zM100.0 185.1h6.2v1.8h-6.2zM106.0 173.0h6.2v1.8h-6.2zM109.1 185.2h6.2v1.8h-6.2zM98.0 178.2h6.2v1.8h-6.2zM49.0 177.4h6.2v1.8h-6.2zM124.1 188.1h6.2v1.8h-6.2z" fill="#f08888" opacity="0.22" filter="url(#vb)"/>
<path d="M86.9 188.2h5.6v1.6h-5.6zM89.9 186.1h5.6v1.6h-5.6zM106.0 177.6h5.6v1.6h-5.6zM82.7 177.6h5.6v1.6h-5.6zM95.4 164.8h5.6v1.6h-5.6zM93.6 181.5h5.6v1.6h-5.6zM88.7 188.1h5.6v1.6h-5.6zM92.8 174.8h5.6v1.6h-5.6zM78.3 188.5h5.6v1.6h-5.6zM100.9 187.8h5.6v1.6h-5.6zM94.3 177.1h5.6v1.6h-5.6zM100.8 188.5h5.6v1.6h-5.6zM112.5 187.7h5.6v1.6h-5.6zM87.6 188.9h5.6v1.6h-5.6zM75.5 187.5h5.6v1.6h-5.6zM80.3 188.7h5.6v1.6h-5.6zM90.6 185.1h5.6v1.6h-5.6zM87.0 188.9h5.6v1.6h-5.6zM68.9 188.2h5.6v1.6h-5.6zM77.5 185.6h5.6v1.6h-5.6zM80.5 173.1h5.6v1.6h-5.6zM89.3 184.7h5.6v1.6h-5.6zM69.4 188.8h5.6v1.6h-5.6zM96.5 188.7h5.6v1.6h-5.6zM75.3 187.3h5.6v1.6h-5.6zM104.8 187.6h5.6v1.6h-5.6zM102.4 182.9h5.6v1.6h-5.6zM75.3 187.9h5.6v1.6h-5.6zM94.9 179.4h5.6v1.6h-5.6zM83.6 187.0h5.6v1.6h-5.6zM85.7 185.7h5.6v1.6h-5.6zM82.0 178.7h5.6v1.6h-5.6zM87.0 188.5h5.6v1.6h-5.6zM93.4 172.0h5.6v1.6h-5.6zM75.7 187.0h5.6v1.6h-5.6zM75.6 187.6h5.6v1.6h-5.6zM90.7 188.4h5.6v1.6h-5.6zM87.8 181.7h5.6v1.6h-5.6zM84.0 179.4h5.6v1.6h-5.6zM83.5 185.2h5.6v1.6h-5.6zM81.3 170.6h5.6v1.6h-5.6zM81.5 165.2h5.6v1.6h-5.6zM89.7 187.3h5.6v1.6h-5.6zM66.4 188.4h5.6v1.6h-5.6zM82.9 178.7h5.6v1.6h-5.6zM81.5 183.0h5.6v1.6h-5.6zM79.4 188.0h5.6v1.6h-5.6zM65.4 186.0h5.6v1.6h-5.6zM82.9 176.5h5.6v1.6h-5.6zM82.5 177.8h5.6v1.6h-5.6zM82.2 170.5h5.6v1.6h-5.6zM83.3 187.1h5.6v1.6h-5.6zM85.3 185.5h5.6v1.6h-5.6zM92.3 177.1h5.6v1.6h-5.6zM89.4 187.2h5.6v1.6h-5.6zM90.6 185.6h5.6v1.6h-5.6zM94.9 174.9h5.6v1.6h-5.6zM88.4 188.7h5.6v1.6h-5.6zM63.6 184.8h5.6v1.6h-5.6zM82.9 174.1h5.6v1.6h-5.6zM92.3 179.8h5.6v1.6h-5.6zM84.2 183.2h5.6v1.6h-5.6zM84.2 180.3h5.6v1.6h-5.6zM64.0 184.3h5.6v1.6h-5.6zM85.0 185.7h5.6v1.6h-5.6zM102.1 186.4h5.6v1.6h-5.6zM84.5 187.4h5.6v1.6h-5.6zM78.0 186.7h5.6v1.6h-5.6zM81.0 168.7h5.6v1.6h-5.6zM85.8 186.5h5.6v1.6h-5.6zM93.5 188.6h5.6v1.6h-5.6zM75.3 187.2h5.6v1.6h-5.6zM82.7 179.3h5.6v1.6h-5.6zM76.8 188.8h5.6v1.6h-5.6zM94.4 166.7h5.6v1.6h-5.6zM89.6 187.6h5.6v1.6h-5.6zM85.6 186.7h5.6v1.6h-5.6zM77.9 187.9h5.6v1.6h-5.6zM86.7 188.1h5.6v1.6h-5.6zM100.1 186.7h5.6v1.6h-5.6zM79.6 187.1h5.6v1.6h-5.6zM69.7 188.5h5.6v1.6h-5.6zM89.5 186.6h5.6v1.6h-5.6z" fill="#e04848" opacity="0.17" filter="url(#vb)"/>
<path d="M83.6 179.1h5.6v1.6h-5.6zM112.2 188.7h5.6v1.6h-5.6zM75.8 188.7h5.6v1.6h-5.6zM83.5 184.4h5.6v1.6h-5.6zM85.3 185.8h5.6v1.6h-5.6zM93.9 184.8h5.6v1.6h-5.6zM81.9 168.3h5.6v1.6h-5.6zM81.8 176.3h5.6v1.6h-5.6zM85.0 185.8h5.6v1.6h-5.6zM95.2 163.4h5.6v1.6h-5.6zM92.3 185.2h5.6v1.6h-5.6zM80.7 172.4h5.6v1.6h-5.6zM84.4 187.6h5.6v1.6h-5.6zM83.9 183.0h5.6v1.6h-5.6zM73.1 186.3h5.6v1.6h-5.6zM85.0 188.1h5.6v1.6h-5.6zM92.5 181.9h5.6v1.6h-5.6zM72.6 188.4h5.6v1.6h-5.6zM95.1 161.4h5.6v1.6h-5.6zM94.6 163.3h5.6v1.6h-5.6zM80.1 169.7h5.6v1.6h-5.6zM69.8 188.9h5.6v1.6h-5.6zM80.4 171.7h5.6v1.6h-5.6zM93.2 182.8h5.6v1.6h-5.6zM84.2 182.6h5.6v1.6h-5.6zM81.1 170.4h5.6v1.6h-5.6zM91.5 181.5h5.6v1.6h-5.6zM83.4 187.4h5.6v1.6h-5.6zM87.1 188.5h5.6v1.6h-5.6zM93.5 178.9h5.6v1.6h-5.6zM88.3 188.6h5.6v1.6h-5.6zM94.0 183.3h5.6v1.6h-5.6zM80.3 183.5h5.6v1.6h-5.6zM89.3 188.5h5.6v1.6h-5.6zM83.4 178.9h5.6v1.6h-5.6zM57.7 187.0h5.6v1.6h-5.6zM89.9 185.7h5.6v1.6h-5.6zM96.7 188.6h5.6v1.6h-5.6zM95.4 173.5h5.6v1.6h-5.6zM84.0 180.5h5.6v1.6h-5.6zM94.0 183.2h5.6v1.6h-5.6zM95.4 165.0h5.6v1.6h-5.6zM82.8 176.1h5.6v1.6h-5.6zM76.9 185.3h5.6v1.6h-5.6zM77.2 189.0h5.6v1.6h-5.6zM83.9 186.0h5.6v1.6h-5.6zM84.2 180.2h5.6v1.6h-5.6zM61.7 187.8h5.6v1.6h-5.6zM92.2 179.8h5.6v1.6h-5.6zM87.1 188.6h5.6v1.6h-5.6zM90.7 183.5h5.6v1.6h-5.6zM85.0 182.9h5.6v1.6h-5.6zM83.2 178.7h5.6v1.6h-5.6zM86.3 187.5h5.6v1.6h-5.6zM89.5 186.8h5.6v1.6h-5.6zM89.8 186.3h5.6v1.6h-5.6zM94.7 163.9h5.6v1.6h-5.6zM89.6 187.3h5.6v1.6h-5.6zM85.3 187.4h5.6v1.6h-5.6zM84.6 188.9h5.6v1.6h-5.6zM86.0 188.3h5.6v1.6h-5.6zM77.0 188.9h5.6v1.6h-5.6zM81.0 168.7h5.6v1.6h-5.6zM95.5 178.4h5.6v1.6h-5.6zM94.5 165.8h5.6v1.6h-5.6zM94.3 183.3h5.6v1.6h-5.6zM66.4 187.5h5.6v1.6h-5.6zM83.5 178.7h5.6v1.6h-5.6zM62.6 188.5h5.6v1.6h-5.6zM93.4 180.9h5.6v1.6h-5.6zM93.8 179.8h5.6v1.6h-5.6zM85.6 184.9h5.6v1.6h-5.6zM80.8 172.1h5.6v1.6h-5.6zM89.7 186.6h5.6v1.6h-5.6zM89.9 187.3h5.6v1.6h-5.6zM83.7 186.6h5.6v1.6h-5.6zM82.4 175.6h5.6v1.6h-5.6z" fill="#e04848" opacity="0.17" filter="url(#vb)"/>
<path d="M90.5 187.3h5.6v1.6h-5.6zM86.4 186.8h5.6v1.6h-5.6zM89.4 186.7h5.6v1.6h-5.6zM88.4 188.8h5.6v1.6h-5.6zM84.4 187.5h5.6v1.6h-5.6zM84.8 185.4h5.6v1.6h-5.6zM64.9 188.9h5.6v1.6h-5.6zM92.2 185.4h5.6v1.6h-5.6zM101.3 188.3h5.6v1.6h-5.6zM85.1 185.0h5.6v1.6h-5.6zM82.0 176.6h5.6v1.6h-5.6zM84.4 181.8h5.6v1.6h-5.6zM85.5 185.7h5.6v1.6h-5.6zM80.1 155.4h5.6v1.6h-5.6zM86.0 188.9h5.6v1.6h-5.6zM85.4 188.7h5.6v1.6h-5.6zM62.4 187.7h5.6v1.6h-5.6zM77.4 188.0h5.6v1.6h-5.6zM84.4 184.9h5.6v1.6h-5.6zM103.6 188.6h5.6v1.6h-5.6zM92.8 177.3h5.6v1.6h-5.6zM85.2 184.4h5.6v1.6h-5.6zM82.7 180.2h5.6v1.6h-5.6zM88.5 188.8h5.6v1.6h-5.6zM73.0 188.3h5.6v1.6h-5.6zM72.3 187.9h5.6v1.6h-5.6zM98.4 186.5h5.6v1.6h-5.6zM82.7 177.8h5.6v1.6h-5.6zM94.5 185.5h5.6v1.6h-5.6zM86.2 186.9h5.6v1.6h-5.6zM81.9 174.9h5.6v1.6h-5.6zM93.2 184.1h5.6v1.6h-5.6zM62.7 188.5h5.6v1.6h-5.6zM93.5 168.8h5.6v1.6h-5.6zM85.4 185.3h5.6v1.6h-5.6zM84.1 188.0h5.6v1.6h-5.6zM82.4 187.9h5.6v1.6h-5.6zM62.7 187.7h5.6v1.6h-5.6zM87.0 188.6h5.6v1.6h-5.6zM69.1 187.5h5.6v1.6h-5.6zM87.0 188.3h5.6v1.6h-5.6zM82.6 186.2h5.6v1.6h-5.6zM82.9 175.7h5.6v1.6h-5.6zM86.3 187.1h5.6v1.6h-5.6zM102.7 187.0h5.6v1.6h-5.6zM93.4 173.3h5.6v1.6h-5.6zM87.0 188.6h5.6v1.6h-5.6zM83.4 188.2h5.6v1.6h-5.6zM87.3 188.8h5.6v1.6h-5.6zM82.2 185.0h5.6v1.6h-5.6zM88.9 188.8h5.6v1.6h-5.6zM58.5 188.3h5.6v1.6h-5.6zM91.0 187.5h5.6v1.6h-5.6zM93.7 172.4h5.6v1.6h-5.6zM82.4 173.0h5.6v1.6h-5.6zM96.4 185.8h5.6v1.6h-5.6zM103.4 188.3h5.6v1.6h-5.6zM85.4 184.8h5.6v1.6h-5.6zM87.2 188.5h5.6v1.6h-5.6zM81.9 170.1h5.6v1.6h-5.6zM85.4 188.7h5.6v1.6h-5.6zM80.9 173.5h5.6v1.6h-5.6zM83.0 180.5h5.6v1.6h-5.6zM88.6 188.7h5.6v1.6h-5.6zM89.5 188.0h5.6v1.6h-5.6zM90.3 182.6h5.6v1.6h-5.6zM88.5 188.8h5.6v1.6h-5.6zM90.6 184.4h5.6v1.6h-5.6zM67.4 188.2h5.6v1.6h-5.6zM92.0 182.5h5.6v1.6h-5.6zM73.3 187.8h5.6v1.6h-5.6zM89.9 186.0h5.6v1.6h-5.6zM82.5 183.3h5.6v1.6h-5.6zM91.9 188.6h5.6v1.6h-5.6zM81.1 185.2h5.6v1.6h-5.6zM93.7 175.9h5.6v1.6h-5.6zM95.7 186.7h5.6v1.6h-5.6zM85.0 185.4h5.6v1.6h-5.6zM85.1 186.3h5.6v1.6h-5.6zM96.4 188.7h5.6v1.6h-5.6zM88.5 188.4h5.6v1.6h-5.6zM92.4 175.3h5.6v1.6h-5.6zM95.9 187.6h5.6v1.6h-5.6z" fill="#e04848" opacity="0.17" filter="url(#vb)"/>
<path d="M85.4 184.2h5.6v1.6h-5.6zM107.7 188.7h5.6v1.6h-5.6zM86.0 187.3h5.6v1.6h-5.6zM66.0 187.2h5.6v1.6h-5.6zM73.0 186.2h5.6v1.6h-5.6zM85.8 187.0h5.6v1.6h-5.6zM82.7 175.3h5.6v1.6h-5.6zM90.8 184.3h5.6v1.6h-5.6zM76.2 188.7h5.6v1.6h-5.6zM68.7 186.8h5.6v1.6h-5.6zM85.8 186.8h5.6v1.6h-5.6zM81.7 188.1h5.6v1.6h-5.6zM111.0 187.2h5.6v1.6h-5.6zM89.3 184.9h5.6v1.6h-5.6zM99.2 188.3h5.6v1.6h-5.6zM79.5 185.0h5.6v1.6h-5.6zM82.9 175.7h5.6v1.6h-5.6zM91.3 188.4h5.6v1.6h-5.6zM83.0 186.2h5.6v1.6h-5.6zM85.6 188.3h5.6v1.6h-5.6zM66.7 188.5h5.6v1.6h-5.6zM90.7 187.9h5.6v1.6h-5.6zM84.7 182.6h5.6v1.6h-5.6zM110.2 188.5h5.6v1.6h-5.6zM81.2 182.4h5.6v1.6h-5.6zM85.5 186.7h5.6v1.6h-5.6zM82.3 171.0h5.6v1.6h-5.6zM85.8 185.7h5.6v1.6h-5.6zM91.4 181.0h5.6v1.6h-5.6zM84.6 188.3h5.6v1.6h-5.6zM82.1 188.9h5.6v1.6h-5.6zM92.9 180.0h5.6v1.6h-5.6zM86.2 188.4h5.6v1.6h-5.6zM93.2 180.2h5.6v1.6h-5.6zM91.7 185.8h5.6v1.6h-5.6zM86.8 188.2h5.6v1.6h-5.6zM86.7 188.4h5.6v1.6h-5.6zM74.6 188.6h5.6v1.6h-5.6zM90.3 188.0h5.6v1.6h-5.6zM103.7 188.6h5.6v1.6h-5.6zM79.8 188.6h5.6v1.6h-5.6zM81.6 180.1h5.6v1.6h-5.6zM80.5 167.3h5.6v1.6h-5.6zM82.3 169.8h5.6v1.6h-5.6zM68.1 189.0h5.6v1.6h-5.6zM111.7 187.3h5.6v1.6h-5.6zM85.3 185.5h5.6v1.6h-5.6zM86.5 186.8h5.6v1.6h-5.6zM82.0 188.7h5.6v1.6h-5.6zM81.1 161.9h5.6v1.6h-5.6zM68.9 188.5h5.6v1.6h-5.6zM93.8 181.1h5.6v1.6h-5.6zM94.5 171.0h5.6v1.6h-5.6zM74.1 188.9h5.6v1.6h-5.6zM82.1 178.5h5.6v1.6h-5.6zM92.8 176.1h5.6v1.6h-5.6zM66.2 183.2h5.6v1.6h-5.6zM88.9 188.0h5.6v1.6h-5.6zM91.5 186.1h5.6v1.6h-5.6zM84.2 180.5h5.6v1.6h-5.6zM62.6 188.1h5.6v1.6h-5.6zM89.8 185.6h5.6v1.6h-5.6zM67.1 185.2h5.6v1.6h-5.6zM71.2 188.1h5.6v1.6h-5.6zM90.5 186.2h5.6v1.6h-5.6zM73.7 188.9h5.6v1.6h-5.6zM91.7 188.5h5.6v1.6h-5.6zM95.2 172.6h5.6v1.6h-5.6zM95.5 187.2h5.6v1.6h-5.6zM89.7 186.0h5.6v1.6h-5.6zM75.0 188.8h5.6v1.6h-5.6zM85.4 185.8h5.6v1.6h-5.6zM85.8 185.9h5.6v1.6h-5.6zM81.2 165.8h5.6v1.6h-5.6zM85.8 185.6h5.6v1.6h-5.6zM71.6 187.1h5.6v1.6h-5.6zM75.2 187.9h5.6v1.6h-5.6zM86.7 188.0h5.6v1.6h-5.6zM71.9 187.7h5.6v1.6h-5.6zM82.2 179.7h5.6v1.6h-5.6zM81.2 169.7h5.6v1.6h-5.6zM99.6 188.6h5.6v1.6h-5.6zM81.9 178.6h5.6v1.6h-5.6z" fill="#e04848" opacity="0.17" filter="url(#vb)"/>
<path d="M103.3 185.7h5.6v1.6h-5.6zM84.7 182.0h5.6v1.6h-5.6zM80.7 164.4h5.6v1.6h-5.6zM106.0 185.3h5.6v1.6h-5.6zM86.1 187.2h5.6v1.6h-5.6zM74.5 188.6h5.6v1.6h-5.6zM84.8 183.0h5.6v1.6h-5.6zM89.8 186.1h5.6v1.6h-5.6zM86.6 187.9h5.6v1.6h-5.6zM70.8 187.4h5.6v1.6h-5.6zM94.4 173.1h5.6v1.6h-5.6zM88.2 188.7h5.6v1.6h-5.6zM92.1 188.1h5.6v1.6h-5.6zM82.0 188.5h5.6v1.6h-5.6zM89.7 187.5h5.6v1.6h-5.6zM98.8 186.9h5.6v1.6h-5.6zM92.3 176.5h5.6v1.6h-5.6zM86.7 188.1h5.6v1.6h-5.6zM72.7 183.8h5.6v1.6h-5.6zM73.3 188.2h5.6v1.6h-5.6zM112.8 187.1h5.6v1.6h-5.6zM90.5 183.4h5.6v1.6h-5.6zM95.4 169.5h5.6v1.6h-5.6zM87.2 188.6h5.6v1.6h-5.6zM96.3 184.1h5.6v1.6h-5.6zM91.9 177.4h5.6v1.6h-5.6zM86.5 188.3h5.6v1.6h-5.6zM82.9 174.5h5.6v1.6h-5.6zM102.8 189.0h5.6v1.6h-5.6zM95.6 173.4h5.6v1.6h-5.6zM82.4 178.0h5.6v1.6h-5.6zM83.8 182.4h5.6v1.6h-5.6zM82.0 169.3h5.6v1.6h-5.6zM82.5 188.3h5.6v1.6h-5.6zM90.8 187.4h5.6v1.6h-5.6zM81.4 165.5h5.6v1.6h-5.6zM90.5 188.3h5.6v1.6h-5.6zM98.7 187.0h5.6v1.6h-5.6zM73.9 188.7h5.6v1.6h-5.6zM94.9 159.3h5.6v1.6h-5.6zM90.4 184.9h5.6v1.6h-5.6zM118.5 184.3h5.6v1.6h-5.6zM87.1 188.6h5.6v1.6h-5.6zM85.6 185.4h5.6v1.6h-5.6zM82.8 174.0h5.6v1.6h-5.6zM94.1 169.5h5.6v1.6h-5.6zM99.1 186.9h5.6v1.6h-5.6zM83.2 185.2h5.6v1.6h-5.6zM89.6 186.9h5.6v1.6h-5.6zM76.0 187.1h5.6v1.6h-5.6zM67.0 188.6h5.6v1.6h-5.6zM87.0 188.4h5.6v1.6h-5.6zM82.8 180.9h5.6v1.6h-5.6zM94.8 185.0h5.6v1.6h-5.6zM91.1 182.9h5.6v1.6h-5.6zM86.6 187.8h5.6v1.6h-5.6zM85.6 186.6h5.6v1.6h-5.6zM85.7 185.1h5.6v1.6h-5.6zM89.2 187.0h5.6v1.6h-5.6zM86.2 186.9h5.6v1.6h-5.6zM103.1 187.8h5.6v1.6h-5.6zM87.1 188.8h5.6v1.6h-5.6zM81.9 180.9h5.6v1.6h-5.6zM89.6 187.9h5.6v1.6h-5.6zM93.3 171.3h5.6v1.6h-5.6zM89.5 187.1h5.6v1.6h-5.6zM84.8 182.3h5.6v1.6h-5.6zM79.3 188.7h5.6v1.6h-5.6zM81.4 164.4h5.6v1.6h-5.6zM88.3 188.7h5.6v1.6h-5.6zM71.0 187.3h5.6v1.6h-5.6zM81.0 161.8h5.6v1.6h-5.6zM74.1 186.5h5.6v1.6h-5.6zM101.5 184.9h5.6v1.6h-5.6zM82.2 188.6h5.6v1.6h-5.6zM83.2 180.5h5.6v1.6h-5.6zM81.5 166.0h5.6v1.6h-5.6z" fill="#e04848" opacity="0.17" filter="url(#vb)"/>
<path d="M83.5 185.8h5.6v1.6h-5.6zM101.6 187.8h5.6v1.6h-5.6zM82.8 173.0h5.6v1.6h-5.6zM89.4 185.4h5.6v1.6h-5.6zM86.6 188.7h5.6v1.6h-5.6zM89.1 187.4h5.6v1.6h-5.6zM84.3 188.5h5.6v1.6h-5.6zM86.4 188.0h5.6v1.6h-5.6zM91.0 182.3h5.6v1.6h-5.6zM91.2 181.1h5.6v1.6h-5.6zM94.1 180.4h5.6v1.6h-5.6zM80.9 160.2h5.6v1.6h-5.6zM84.1 187.2h5.6v1.6h-5.6zM84.5 184.4h5.6v1.6h-5.6zM73.0 188.5h5.6v1.6h-5.6zM106.2 188.2h5.6v1.6h-5.6zM96.8 188.2h5.6v1.6h-5.6zM80.5 186.5h5.6v1.6h-5.6zM79.6 187.6h5.6v1.6h-5.6zM90.9 184.4h5.6v1.6h-5.6zM84.4 181.7h5.6v1.6h-5.6zM84.6 184.7h5.6v1.6h-5.6zM95.5 157.5h5.6v1.6h-5.6zM85.0 183.7h5.6v1.6h-5.6zM83.5 181.3h5.6v1.6h-5.6zM89.1 187.5h5.6v1.6h-5.6zM57.5 188.0h5.6v1.6h-5.6zM86.3 184.7h5.6v1.6h-5.6zM83.7 180.7h5.6v1.6h-5.6zM88.6 188.7h5.6v1.6h-5.6zM76.5 188.4h5.6v1.6h-5.6zM95.6 184.9h5.6v1.6h-5.6zM82.7 180.1h5.6v1.6h-5.6zM68.6 188.9h5.6v1.6h-5.6zM82.0 183.1h5.6v1.6h-5.6zM89.5 187.1h5.6v1.6h-5.6zM102.8 188.3h5.6v1.6h-5.6zM92.8 182.3h5.6v1.6h-5.6zM82.4 172.9h5.6v1.6h-5.6zM103.6 188.8h5.6v1.6h-5.6zM83.4 188.7h5.6v1.6h-5.6zM80.8 181.3h5.6v1.6h-5.6zM86.5 185.4h5.6v1.6h-5.6zM83.0 174.8h5.6v1.6h-5.6zM90.5 185.2h5.6v1.6h-5.6zM80.6 188.5h5.6v1.6h-5.6zM88.7 188.2h5.6v1.6h-5.6zM87.1 188.6h5.6v1.6h-5.6zM88.3 188.9h5.6v1.6h-5.6zM86.5 188.5h5.6v1.6h-5.6zM83.1 181.6h5.6v1.6h-5.6zM95.3 156.5h5.6v1.6h-5.6zM93.5 180.5h5.6v1.6h-5.6zM85.6 186.4h5.6v1.6h-5.6zM88.6 188.3h5.6v1.6h-5.6zM76.7 188.7h5.6v1.6h-5.6zM96.9 187.6h5.6v1.6h-5.6zM117.9 188.9h5.6v1.6h-5.6zM93.6 180.5h5.6v1.6h-5.6zM89.0 187.8h5.6v1.6h-5.6zM81.7 173.0h5.6v1.6h-5.6zM95.3 175.0h5.6v1.6h-5.6zM90.9 182.6h5.6v1.6h-5.6zM95.0 171.1h5.6v1.6h-5.6zM80.8 178.6h5.6v1.6h-5.6zM81.1 179.9h5.6v1.6h-5.6zM82.7 173.1h5.6v1.6h-5.6zM84.8 184.2h5.6v1.6h-5.6zM84.6 186.8h5.6v1.6h-5.6zM71.4 188.7h5.6v1.6h-5.6zM80.8 164.9h5.6v1.6h-5.6zM86.9 188.3h5.6v1.6h-5.6zM83.9 184.8h5.6v1.6h-5.6zM76.5 188.0h5.6v1.6h-5.6zM85.2 186.8h5.6v1.6h-5.6zM88.7 188.1h5.6v1.6h-5.6zM82.5 175.2h5.6v1.6h-5.6zM89.6 186.6h5.6v1.6h-5.6zM80.0 180.0h5.6v1.6h-5.6zM111.2 186.8h5.6v1.6h-5.6zM72.6 188.8h5.6v1.6h-5.6zM90.6 186.5h5.6v1.6h-5.6zM90.4 183.8h5.6v1.6h-5.6z" fill="#e04848" opacity="0.17" filter="url(#vb)"/>
<path d="M71.7 188.1h5.6v1.6h-5.6zM90.2 184.9h5.6v1.6h-5.6zM91.1 187.1h5.6v1.6h-5.6zM80.6 163.5h5.6v1.6h-5.6zM61.0 185.0h5.6v1.6h-5.6zM83.7 179.7h5.6v1.6h-5.6zM122.1 187.0h5.6v1.6h-5.6zM80.3 187.6h5.6v1.6h-5.6zM65.4 187.0h5.6v1.6h-5.6zM83.5 179.7h5.6v1.6h-5.6zM85.7 187.5h5.6v1.6h-5.6zM93.9 166.9h5.6v1.6h-5.6zM49.2 186.4h5.6v1.6h-5.6zM95.5 166.1h5.6v1.6h-5.6zM91.6 180.0h5.6v1.6h-5.6zM93.3 184.7h5.6v1.6h-5.6zM85.3 184.6h5.6v1.6h-5.6zM83.1 188.7h5.6v1.6h-5.6zM91.7 180.4h5.6v1.6h-5.6zM86.6 187.8h5.6v1.6h-5.6zM87.2 188.7h5.6v1.6h-5.6zM89.0 188.4h5.6v1.6h-5.6zM89.2 187.4h5.6v1.6h-5.6zM82.6 174.9h5.6v1.6h-5.6zM85.7 186.5h5.6v1.6h-5.6zM80.6 171.3h5.6v1.6h-5.6zM87.7 189.0h5.6v1.6h-5.6zM76.3 186.4h5.6v1.6h-5.6zM81.2 167.4h5.6v1.6h-5.6zM84.8 183.6h5.6v1.6h-5.6zM90.5 183.6h5.6v1.6h-5.6zM83.4 182.3h5.6v1.6h-5.6zM82.2 175.8h5.6v1.6h-5.6zM88.5 188.5h5.6v1.6h-5.6zM89.4 188.5h5.6v1.6h-5.6zM84.8 187.4h5.6v1.6h-5.6zM114.3 185.7h5.6v1.6h-5.6zM94.3 174.9h5.6v1.6h-5.6zM81.7 183.5h5.6v1.6h-5.6zM105.7 186.5h5.6v1.6h-5.6zM81.5 167.9h5.6v1.6h-5.6zM68.1 187.7h5.6v1.6h-5.6zM85.1 188.0h5.6v1.6h-5.6zM76.9 188.5h5.6v1.6h-5.6zM89.7 186.9h5.6v1.6h-5.6zM83.2 178.6h5.6v1.6h-5.6zM94.5 176.8h5.6v1.6h-5.6zM86.6 188.8h5.6v1.6h-5.6zM87.1 188.6h5.6v1.6h-5.6zM82.6 187.3h5.6v1.6h-5.6zM90.8 187.3h5.6v1.6h-5.6zM67.6 181.5h5.6v1.6h-5.6zM92.5 184.8h5.6v1.6h-5.6zM93.4 179.2h5.6v1.6h-5.6zM81.3 168.6h5.6v1.6h-5.6zM86.0 187.0h5.6v1.6h-5.6zM83.6 183.7h5.6v1.6h-5.6zM100.3 188.4h5.6v1.6h-5.6zM83.7 182.6h5.6v1.6h-5.6zM84.3 180.7h5.6v1.6h-5.6zM59.8 188.0h5.6v1.6h-5.6zM88.8 188.7h5.6v1.6h-5.6zM72.3 188.4h5.6v1.6h-5.6zM84.4 188.7h5.6v1.6h-5.6zM66.2 188.6h5.6v1.6h-5.6zM90.9 181.7h5.6v1.6h-5.6zM86.4 187.2h5.6v1.6h-5.6zM104.1 187.1h5.6v1.6h-5.6zM81.2 170.2h5.6v1.6h-5.6zM91.7 182.9h5.6v1.6h-5.6zM94.9 164.3h5.6v1.6h-5.6zM93.8 167.3h5.6v1.6h-5.6zM90.1 185.4h5.6v1.6h-5.6zM69.9 186.7h5.6v1.6h-5.6zM90.6 183.0h5.6v1.6h-5.6zM84.6 184.6h5.6v1.6h-5.6zM113.4 188.7h5.6v1.6h-5.6zM88.4 184.9h5.6v1.6h-5.6zM86.9 188.4h5.6v1.6h-5.6zM82.2 177.1h5.6v1.6h-5.6zM86.9 188.3h5.6v1.6h-5.6zM72.0 186.1h5.6v1.6h-5.6zM93.7 185.5h5.6v1.6h-5.6zM94.7 163.0h5.6v1.6h-5.6zM83.4 178.1h5.6v1.6h-5.6z" fill="#e04848" opacity="0.17" filter="url(#vb)"/>
<path d="M63.6 188.8h5.6v1.6h-5.6zM71.1 188.9h5.6v1.6h-5.6zM92.9 176.9h5.6v1.6h-5.6zM94.1 178.7h5.6v1.6h-5.6zM82.8 188.3h5.6v1.6h-5.6zM82.6 187.4h5.6v1.6h-5.6zM82.1 173.5h5.6v1.6h-5.6zM86.0 187.6h5.6v1.6h-5.6zM83.9 182.3h5.6v1.6h-5.6zM86.3 187.9h5.6v1.6h-5.6zM94.3 175.0h5.6v1.6h-5.6zM85.2 187.3h5.6v1.6h-5.6zM92.5 188.8h5.6v1.6h-5.6zM63.8 188.9h5.6v1.6h-5.6zM81.5 188.2h5.6v1.6h-5.6zM99.8 187.7h5.6v1.6h-5.6zM83.3 177.7h5.6v1.6h-5.6zM78.1 188.8h5.6v1.6h-5.6zM86.5 187.3h5.6v1.6h-5.6zM131.5 186.4h5.6v1.6h-5.6zM86.5 188.0h5.6v1.6h-5.6zM76.3 188.5h5.6v1.6h-5.6zM83.8 180.4h5.6v1.6h-5.6zM66.4 185.8h5.6v1.6h-5.6zM86.4 187.7h5.6v1.6h-5.6zM86.1 186.7h5.6v1.6h-5.6zM79.2 186.5h5.6v1.6h-5.6zM83.1 181.6h5.6v1.6h-5.6zM84.5 183.3h5.6v1.6h-5.6zM82.9 178.1h5.6v1.6h-5.6zM87.7 188.5h5.6v1.6h-5.6zM89.7 188.4h5.6v1.6h-5.6zM114.5 187.6h5.6v1.6h-5.6zM87.1 189.0h5.6v1.6h-5.6zM102.3 186.7h5.6v1.6h-5.6zM89.4 187.5h5.6v1.6h-5.6zM92.2 180.6h5.6v1.6h-5.6zM90.2 187.0h5.6v1.6h-5.6zM85.2 186.1h5.6v1.6h-5.6zM73.7 188.1h5.6v1.6h-5.6zM85.4 188.4h5.6v1.6h-5.6zM87.3 188.7h5.6v1.6h-5.6zM89.2 187.5h5.6v1.6h-5.6zM88.8 187.5h5.6v1.6h-5.6zM92.3 186.8h5.6v1.6h-5.6zM86.8 188.2h5.6v1.6h-5.6zM83.0 175.9h5.6v1.6h-5.6zM89.5 188.7h5.6v1.6h-5.6zM77.0 184.6h5.6v1.6h-5.6zM86.0 186.8h5.6v1.6h-5.6zM92.0 185.3h5.6v1.6h-5.6zM81.5 174.4h5.6v1.6h-5.6zM74.2 188.3h5.6v1.6h-5.6zM86.1 188.5h5.6v1.6h-5.6zM107.7 188.9h5.6v1.6h-5.6zM71.8 188.0h5.6v1.6h-5.6zM82.3 171.4h5.6v1.6h-5.6zM76.4 188.7h5.6v1.6h-5.6zM85.6 186.9h5.6v1.6h-5.6zM90.8 185.0h5.6v1.6h-5.6zM95.5 188.5h5.6v1.6h-5.6zM116.9 184.6h5.6v1.6h-5.6zM68.1 187.2h5.6v1.6h-5.6zM95.2 168.0h5.6v1.6h-5.6zM89.5 187.8h5.6v1.6h-5.6zM82.3 175.2h5.6v1.6h-5.6zM95.0 174.4h5.6v1.6h-5.6zM65.6 188.1h5.6v1.6h-5.6zM92.6 177.0h5.6v1.6h-5.6zM93.4 169.9h5.6v1.6h-5.6zM67.2 186.1h5.6v1.6h-5.6zM91.3 186.3h5.6v1.6h-5.6zM92.3 188.9h5.6v1.6h-5.6zM83.8 178.0h5.6v1.6h-5.6zM94.8 185.6h5.6v1.6h-5.6zM99.7 186.7h5.6v1.6h-5.6zM86.7 187.2h5.6v1.6h-5.6zM82.4 170.8h5.6v1.6h-5.6zM84.7 184.6h5.6v1.6h-5.6zM93.0 179.9h5.6v1.6h-5.6zM83.1 187.8h5.6v1.6h-5.6zM122.5 187.5h5.6v1.6h-5.6zM67.7 188.8h5.6v1.6h-5.6zM82.4 171.5h5.6v1.6h-5.6zM83.7 187.0h5.6v1.6h-5.6z" fill="#e04848" opacity="0.17" filter="url(#vb)"/>
<ellipse cx="90.6" cy="189.0" rx="5" ry="1.4" fill="#600808" opacity="0.7" filter="url(#vb2)"/>
</g>
<line x1="83.40" y1="65.50" x2="83.40" y2="194.00" stroke="#333" stroke-width="0.7"/>
<line x1="98.50" y1="65.50" x2="98.50" y2="194.00" stroke="#333" stroke-width="0.7"/>
<line x1="20.30" y1="189.30" x2="165.00" y2="189.30" stroke="#333" stroke-width="0.7"/>
<rect x="20.30" y="65.50" width="144.70" height="128.50" fill="none" stroke="#555" stroke-width="0.6"/>
<line x1="16.80" y1="189.80" x2="20.30" y2="189.80" stroke="#555" stroke-width="0.5"/>
<text x="14.00" y="189.80" font-size="3.4" text-anchor="middle" fill="#333" transform="rotate(-90 14.00 189.80)">0</text>
<line x1="16.80" y1="164.00" x2="20.30" y2="164.00" stroke="#555" stroke-width="0.5"/>
<text x="14.00" y="164.00" font-size="3.4" text-anchor="middle" fill="#333" transform="rotate(-90 14.00 164.00)">50</text>
<line x1="16.80" y1="139.00" x2="20.30" y2="139.00" stroke="#555" stroke-width="0.5"/>
<text x="14.00" y="139.00" font-size="3.4" text-anchor="middle" fill="#333" transform="rotate(-90 14.00 139.00)">100</text>
<line x1="16.80" y1="113.30" x2="20.30" y2="113.30" stroke="#555" stroke-width="0.5"/>
<text x="14.00" y="113.30" font-size="3.4" text-anchor="middle" fill="#333" transform="rotate(-90 14.00 113.30)">150</text>
<line x1="16.80" y1="86.80" x2="20.30" y2="86.80" stroke="#555" stroke-width="0.5"/>
<text x="14.00" y="86.80" font-size="3.4" text-anchor="middle" fill="#333" transform="rotate(-90 14.00 86.80)">200</text>
<line x1="44.00" y1="194.00" x2="44.00" y2="196.00" stroke="#555" stroke-width="0.5"/>
<text x="44.00" y="203.50" font-size="3.5" text-anchor="middle" fill="#333">−5</text>
<line x1="90.60" y1="194.00" x2="90.60" y2="196.00" stroke="#555" stroke-width="0.5"/>
<text x="90.60" y="203.50" font-size="3.5" text-anchor="middle" fill="#333">0</text>
<line x1="136.00" y1="194.00" x2="136.00" y2="196.00" stroke="#555" stroke-width="0.5"/>
<text x="136.00" y="203.50" font-size="3.5" text-anchor="middle" fill="#333">5</text>
<text x="41.80" y="146.80" font-size="4" fill="#111">SFTA1P</text>
<circle cx="49.50" cy="149.20" r="0.70" fill="#111"/>
<text x="73.20" y="158.50" font-size="4" fill="#111">CTGF</text>
<circle cx="78.60" cy="161.00" r="0.70" fill="#33bb33"/>
<text x="73.40" y="169.00" font-size="4" fill="#111">ANKRD1</text>
<circle cx="82.00" cy="171.00" r="0.70" fill="#33bb33"/>
<text x="76.20" y="184.00" font-size="4" fill="#111">CYR61</text>
<circle cx="82.50" cy="186.50" r="0.70" fill="#33bb33"/>
<clipPath id="vclip23"><rect x="183.6" y="65.5" width="144.70000000000002" height="128.7"/></clipPath>
<g clip-path="url(#vclip23)">
<path d="M301.5 188.5h6.2v1.8h-6.2zM240.8 162.4h6.2v1.8h-6.2zM235.5 186.4h6.2v1.8h-6.2zM264.1 148.2h6.2v1.8h-6.2zM238.8 181.9h6.2v1.8h-6.2zM275.0 178.6h6.2v1.8h-6.2zM244.7 124.1h6.2v1.8h-6.2zM268.9 186.0h6.2v1.8h-6.2zM245.0 62.8h6.2v1.8h-6.2zM221.4 188.4h6.2v1.8h-6.2zM261.2 165.1h6.2v1.8h-6.2zM263.6 170.4h6.2v1.8h-6.2zM234.7 186.0h6.2v1.8h-6.2zM259.9 182.1h6.2v1.8h-6.2zM245.3 187.3h6.2v1.8h-6.2zM262.3 177.8h6.2v1.8h-6.2zM242.1 184.8h6.2v1.8h-6.2zM245.1 187.9h6.2v1.8h-6.2zM239.9 159.1h6.2v1.8h-6.2zM245.9 179.3h6.2v1.8h-6.2zM239.9 184.2h6.2v1.8h-6.2zM242.4 184.8h6.2v1.8h-6.2zM261.6 187.5h6.2v1.8h-6.2zM275.5 183.2h6.2v1.8h-6.2zM293.0 188.5h6.2v1.8h-6.2zM225.0 165.3h6.2v1.8h-6.2zM263.9 139.4h6.2v1.8h-6.2zM266.1 175.4h6.2v1.8h-6.2zM246.0 178.3h6.2v1.8h-6.2zM262.5 174.1h6.2v1.8h-6.2zM238.9 177.7h6.2v1.8h-6.2zM265.3 181.6h6.2v1.8h-6.2zM281.5 183.8h6.2v1.8h-6.2zM270.0 185.5h6.2v1.8h-6.2zM242.8 151.3h6.2v1.8h-6.2zM259.7 182.2h6.2v1.8h-6.2zM242.7 161.5h6.2v1.8h-6.2zM239.3 182.0h6.2v1.8h-6.2zM233.4 188.6h6.2v1.8h-6.2zM241.5 186.3h6.2v1.8h-6.2zM214.4 183.6h6.2v1.8h-6.2zM245.4 182.6h6.2v1.8h-6.2zM262.1 180.4h6.2v1.8h-6.2zM262.1 150.4h6.2v1.8h-6.2zM244.2 175.2h6.2v1.8h-6.2zM237.2 129.7h6.2v1.8h-6.2zM229.2 185.3h6.2v1.8h-6.2zM240.8 168.9h6.2v1.8h-6.2zM245.6 183.6h6.2v1.8h-6.2zM262.3 184.1h6.2v1.8h-6.2zM235.6 184.0h6.2v1.8h-6.2zM261.1 172.7h6.2v1.8h-6.2zM235.7 158.6h6.2v1.8h-6.2zM241.0 156.8h6.2v1.8h-6.2zM262.2 183.6h6.2v1.8h-6.2zM246.0 107.0h6.2v1.8h-6.2zM279.7 187.3h6.2v1.8h-6.2zM263.9 183.8h6.2v1.8h-6.2zM284.4 186.6h6.2v1.8h-6.2zM275.5 187.7h6.2v1.8h-6.2zM241.1 160.4h6.2v1.8h-6.2zM242.7 185.2h6.2v1.8h-6.2zM243.2 176.2h6.2v1.8h-6.2zM260.6 186.0h6.2v1.8h-6.2zM272.6 188.2h6.2v1.8h-6.2zM261.1 103.3h6.2v1.8h-6.2zM286.0 180.7h6.2v1.8h-6.2zM262.0 175.8h6.2v1.8h-6.2zM230.3 186.6h6.2v1.8h-6.2zM242.4 176.7h6.2v1.8h-6.2zM263.6 180.8h6.2v1.8h-6.2zM275.6 183.5h6.2v1.8h-6.2zM265.6 179.9h6.2v1.8h-6.2zM240.1 174.1h6.2v1.8h-6.2zM262.7 179.8h6.2v1.8h-6.2zM274.1 184.8h6.2v1.8h-6.2zM264.8 157.0h6.2v1.8h-6.2zM238.3 171.3h6.2v1.8h-6.2zM237.6 183.6h6.2v1.8h-6.2zM275.3 185.5h6.2v1.8h-6.2zM227.2 183.1h6.2v1.8h-6.2zM245.5 182.9h6.2v1.8h-6.2zM240.9 184.5h6.2v1.8h-6.2zM271.4 181.9h6.2v1.8h-6.2zM264.0 185.8h6.2v1.8h-6.2zM237.1 154.3h6.2v1.8h-6.2zM283.9 176.7h6.2v1.8h-6.2zM273.2 182.3h6.2v1.8h-6.2zM260.2 180.2h6.2v1.8h-6.2zM243.9 174.4h6.2v1.8h-6.2zM241.4 97.0h6.2v1.8h-6.2zM235.4 187.3h6.2v1.8h-6.2zM242.5 129.7h6.2v1.8h-6.2zM243.6 172.0h6.2v1.8h-6.2zM216.9 184.1h6.2v1.8h-6.2zM234.0 183.2h6.2v1.8h-6.2zM232.1 183.8h6.2v1.8h-6.2zM274.9 186.1h6.2v1.8h-6.2zM265.8 153.4h6.2v1.8h-6.2zM225.3 184.0h6.2v1.8h-6.2zM233.4 173.1h6.2v1.8h-6.2zM210.6 167.1h6.2v1.8h-6.2zM245.2 187.1h6.2v1.8h-6.2zM261.9 150.2h6.2v1.8h-6.2zM243.0 170.6h6.2v1.8h-6.2zM272.0 184.1h6.2v1.8h-6.2zM241.9 164.5h6.2v1.8h-6.2zM266.5 186.1h6.2v1.8h-6.2zM272.3 188.1h6.2v1.8h-6.2zM236.8 174.4h6.2v1.8h-6.2zM205.6 182.6h6.2v1.8h-6.2zM245.8 148.7h6.2v1.8h-6.2zM215.2 187.3h6.2v1.8h-6.2zM241.4 164.3h6.2v1.8h-6.2zM263.7 167.2h6.2v1.8h-6.2zM261.7 163.6h6.2v1.8h-6.2zM262.0 186.6h6.2v1.8h-6.2zM262.8 167.9h6.2v1.8h-6.2zM244.4 183.8h6.2v1.8h-6.2zM234.1 187.6h6.2v1.8h-6.2zM241.5 133.5h6.2v1.8h-6.2zM274.4 183.3h6.2v1.8h-6.2zM243.1 163.7h6.2v1.8h-6.2zM238.3 174.9h6.2v1.8h-6.2zM244.7 176.9h6.2v1.8h-6.2zM263.9 173.7h6.2v1.8h-6.2zM239.4 184.1h6.2v1.8h-6.2zM241.0 171.7h6.2v1.8h-6.2zM243.4 160.8h6.2v1.8h-6.2zM245.6 186.0h6.2v1.8h-6.2zM271.6 185.2h6.2v1.8h-6.2zM261.9 182.7h6.2v1.8h-6.2zM262.9 148.3h6.2v1.8h-6.2zM242.4 172.4h6.2v1.8h-6.2zM235.6 176.2h6.2v1.8h-6.2zM240.5 186.5h6.2v1.8h-6.2zM297.3 188.7h6.2v1.8h-6.2zM246.0 183.8h6.2v1.8h-6.2zM316.7 186.5h6.2v1.8h-6.2zM279.9 175.6h6.2v1.8h-6.2zM243.8 158.2h6.2v1.8h-6.2zM260.6 182.3h6.2v1.8h-6.2zM229.5 188.1h6.2v1.8h-6.2zM242.2 180.8h6.2v1.8h-6.2zM242.0 178.9h6.2v1.8h-6.2z" fill="#f08888" opacity="0.22" filter="url(#vb)"/>
<path d="M263.3 185.0h6.2v1.8h-6.2zM240.1 146.7h6.2v1.8h-6.2zM264.3 170.5h6.2v1.8h-6.2zM211.6 187.9h6.2v1.8h-6.2zM271.7 186.6h6.2v1.8h-6.2zM261.9 155.8h6.2v1.8h-6.2zM232.9 187.3h6.2v1.8h-6.2zM263.4 165.1h6.2v1.8h-6.2zM239.1 149.8h6.2v1.8h-6.2zM207.0 188.8h6.2v1.8h-6.2zM244.1 179.1h6.2v1.8h-6.2zM239.6 155.4h6.2v1.8h-6.2zM243.1 169.5h6.2v1.8h-6.2zM264.4 184.3h6.2v1.8h-6.2zM274.0 188.0h6.2v1.8h-6.2zM302.0 186.9h6.2v1.8h-6.2zM267.4 162.4h6.2v1.8h-6.2zM245.0 182.0h6.2v1.8h-6.2zM230.0 179.2h6.2v1.8h-6.2zM236.3 177.9h6.2v1.8h-6.2zM270.0 172.6h6.2v1.8h-6.2zM263.6 185.7h6.2v1.8h-6.2zM262.9 180.1h6.2v1.8h-6.2zM245.0 188.8h6.2v1.8h-6.2zM229.1 182.0h6.2v1.8h-6.2zM231.9 183.9h6.2v1.8h-6.2zM290.4 180.8h6.2v1.8h-6.2zM228.0 184.8h6.2v1.8h-6.2zM244.5 187.0h6.2v1.8h-6.2zM244.3 138.8h6.2v1.8h-6.2zM234.6 187.9h6.2v1.8h-6.2zM245.1 144.8h6.2v1.8h-6.2zM244.2 178.7h6.2v1.8h-6.2zM222.7 187.7h6.2v1.8h-6.2zM240.6 180.8h6.2v1.8h-6.2zM280.0 188.8h6.2v1.8h-6.2zM245.6 175.9h6.2v1.8h-6.2zM265.7 162.4h6.2v1.8h-6.2zM238.8 179.8h6.2v1.8h-6.2zM230.9 185.8h6.2v1.8h-6.2zM302.6 188.0h6.2v1.8h-6.2zM270.0 181.2h6.2v1.8h-6.2zM235.6 185.8h6.2v1.8h-6.2zM279.0 186.3h6.2v1.8h-6.2zM229.2 183.1h6.2v1.8h-6.2zM261.9 185.6h6.2v1.8h-6.2zM237.9 152.0h6.2v1.8h-6.2zM268.0 181.0h6.2v1.8h-6.2zM237.0 186.4h6.2v1.8h-6.2zM273.6 183.9h6.2v1.8h-6.2zM263.3 160.9h6.2v1.8h-6.2zM244.9 164.5h6.2v1.8h-6.2zM240.7 157.9h6.2v1.8h-6.2zM278.1 186.6h6.2v1.8h-6.2zM245.0 182.9h6.2v1.8h-6.2zM233.9 140.3h6.2v1.8h-6.2zM226.8 186.3h6.2v1.8h-6.2zM238.1 188.3h6.2v1.8h-6.2zM264.9 143.0h6.2v1.8h-6.2zM263.0 184.8h6.2v1.8h-6.2zM236.7 176.5h6.2v1.8h-6.2zM240.0 138.6h6.2v1.8h-6.2zM265.1 176.7h6.2v1.8h-6.2zM243.0 113.7h6.2v1.8h-6.2zM233.4 176.0h6.2v1.8h-6.2zM269.3 188.7h6.2v1.8h-6.2zM261.0 145.0h6.2v1.8h-6.2zM263.6 147.5h6.2v1.8h-6.2zM260.2 186.9h6.2v1.8h-6.2zM245.1 168.4h6.2v1.8h-6.2zM225.1 186.6h6.2v1.8h-6.2zM264.4 180.6h6.2v1.8h-6.2zM281.4 179.5h6.2v1.8h-6.2zM261.1 187.4h6.2v1.8h-6.2zM261.1 177.8h6.2v1.8h-6.2zM245.5 172.0h6.2v1.8h-6.2zM242.2 183.6h6.2v1.8h-6.2zM268.5 182.8h6.2v1.8h-6.2zM281.1 184.5h6.2v1.8h-6.2zM245.4 168.8h6.2v1.8h-6.2zM269.2 173.6h6.2v1.8h-6.2zM234.7 182.7h6.2v1.8h-6.2zM261.1 188.1h6.2v1.8h-6.2zM246.0 126.6h6.2v1.8h-6.2zM236.8 76.5h6.2v1.8h-6.2zM241.0 181.9h6.2v1.8h-6.2zM241.3 184.4h6.2v1.8h-6.2zM261.0 186.8h6.2v1.8h-6.2zM242.3 170.2h6.2v1.8h-6.2zM244.8 128.7h6.2v1.8h-6.2zM239.5 152.6h6.2v1.8h-6.2zM242.7 172.5h6.2v1.8h-6.2zM244.5 185.2h6.2v1.8h-6.2zM279.3 180.7h6.2v1.8h-6.2zM261.5 85.2h6.2v1.8h-6.2zM264.0 175.9h6.2v1.8h-6.2zM264.4 186.6h6.2v1.8h-6.2zM243.9 145.8h6.2v1.8h-6.2zM240.5 160.8h6.2v1.8h-6.2zM242.8 78.9h6.2v1.8h-6.2zM266.5 176.7h6.2v1.8h-6.2zM260.9 178.2h6.2v1.8h-6.2zM264.3 181.2h6.2v1.8h-6.2zM242.6 166.2h6.2v1.8h-6.2zM241.1 185.0h6.2v1.8h-6.2zM263.1 185.5h6.2v1.8h-6.2zM285.6 182.5h6.2v1.8h-6.2zM243.0 155.5h6.2v1.8h-6.2zM268.4 183.8h6.2v1.8h-6.2zM262.9 152.7h6.2v1.8h-6.2zM243.5 119.3h6.2v1.8h-6.2zM267.7 174.4h6.2v1.8h-6.2zM284.0 185.3h6.2v1.8h-6.2zM228.8 187.1h6.2v1.8h-6.2zM243.9 185.2h6.2v1.8h-6.2zM261.5 188.8h6.2v1.8h-6.2zM261.0 188.1h6.2v1.8h-6.2zM240.4 171.8h6.2v1.8h-6.2zM224.3 186.5h6.2v1.8h-6.2zM244.5 187.3h6.2v1.8h-6.2zM244.0 164.2h6.2v1.8h-6.2zM240.0 170.5h6.2v1.8h-6.2zM261.7 181.0h6.2v1.8h-6.2zM245.4 179.6h6.2v1.8h-6.2zM220.9 178.3h6.2v1.8h-6.2zM260.7 173.3h6.2v1.8h-6.2zM260.2 178.2h6.2v1.8h-6.2zM240.3 165.9h6.2v1.8h-6.2zM272.3 186.7h6.2v1.8h-6.2zM218.3 180.0h6.2v1.8h-6.2zM286.0 183.2h6.2v1.8h-6.2zM264.1 169.4h6.2v1.8h-6.2zM287.7 185.6h6.2v1.8h-6.2zM236.5 155.2h6.2v1.8h-6.2zM242.1 179.2h6.2v1.8h-6.2zM238.4 105.7h6.2v1.8h-6.2zM238.5 175.2h6.2v1.8h-6.2zM261.2 151.3h6.2v1.8h-6.2zM262.9 139.8h6.2v1.8h-6.2zM245.8 182.0h6.2v1.8h-6.2zM268.7 188.7h6.2v1.8h-6.2zM240.1 184.6h6.2v1.8h-6.2zM240.7 177.3h6.2v1.8h-6.2zM264.9 182.0h6.2v1.8h-6.2zM283.5 186.6h6.2v1.8h-6.2zM246.1 139.2h6.2v1.8h-6.2zM240.1 173.6h6.2v1.8h-6.2zM227.4 183.1h6.2v1.8h-6.2zM271.1 158.4h6.2v1.8h-6.2zM260.7 188.1h6.2v1.8h-6.2zM232.9 184.2h6.2v1.8h-6.2zM232.5 187.8h6.2v1.8h-6.2zM224.7 187.0h6.2v1.8h-6.2zM244.4 187.0h6.2v1.8h-6.2zM266.9 185.6h6.2v1.8h-6.2z" fill="#f08888" opacity="0.22" filter="url(#vb)"/>
<path d="M277.4 167.4h6.2v1.8h-6.2zM245.7 172.0h6.2v1.8h-6.2zM260.9 186.8h6.2v1.8h-6.2zM240.1 172.6h6.2v1.8h-6.2zM266.6 166.2h6.2v1.8h-6.2zM245.3 187.4h6.2v1.8h-6.2zM244.9 104.0h6.2v1.8h-6.2zM237.1 185.1h6.2v1.8h-6.2zM260.8 165.1h6.2v1.8h-6.2zM266.7 183.3h6.2v1.8h-6.2zM264.4 149.8h6.2v1.8h-6.2zM245.5 187.7h6.2v1.8h-6.2zM235.5 179.3h6.2v1.8h-6.2zM245.5 129.0h6.2v1.8h-6.2zM260.4 130.2h6.2v1.8h-6.2zM244.6 156.2h6.2v1.8h-6.2zM242.0 157.8h6.2v1.8h-6.2zM259.7 172.8h6.2v1.8h-6.2zM236.8 180.9h6.2v1.8h-6.2zM246.1 178.0h6.2v1.8h-6.2zM235.9 176.5h6.2v1.8h-6.2zM243.3 171.9h6.2v1.8h-6.2zM235.7 186.3h6.2v1.8h-6.2zM269.4 182.4h6.2v1.8h-6.2zM229.0 187.1h6.2v1.8h-6.2zM271.6 187.9h6.2v1.8h-6.2zM264.3 163.5h6.2v1.8h-6.2zM280.3 187.0h6.2v1.8h-6.2zM231.3 170.4h6.2v1.8h-6.2zM242.6 185.9h6.2v1.8h-6.2zM238.7 177.8h6.2v1.8h-6.2zM239.6 164.7h6.2v1.8h-6.2zM264.6 185.8h6.2v1.8h-6.2zM243.9 145.8h6.2v1.8h-6.2zM273.9 186.0h6.2v1.8h-6.2zM242.1 184.4h6.2v1.8h-6.2zM270.2 185.0h6.2v1.8h-6.2zM265.6 169.9h6.2v1.8h-6.2zM265.2 187.2h6.2v1.8h-6.2zM242.2 185.0h6.2v1.8h-6.2zM263.1 186.6h6.2v1.8h-6.2zM241.2 125.2h6.2v1.8h-6.2zM264.3 86.2h6.2v1.8h-6.2zM243.8 149.9h6.2v1.8h-6.2zM243.5 141.3h6.2v1.8h-6.2zM263.4 185.8h6.2v1.8h-6.2zM242.8 169.1h6.2v1.8h-6.2zM239.2 186.1h6.2v1.8h-6.2zM234.6 188.4h6.2v1.8h-6.2zM237.4 183.3h6.2v1.8h-6.2zM243.7 101.7h6.2v1.8h-6.2zM267.7 169.5h6.2v1.8h-6.2zM245.7 154.2h6.2v1.8h-6.2zM295.4 188.6h6.2v1.8h-6.2zM259.9 153.1h6.2v1.8h-6.2zM233.3 187.7h6.2v1.8h-6.2zM244.8 178.6h6.2v1.8h-6.2zM264.6 154.8h6.2v1.8h-6.2zM269.2 172.7h6.2v1.8h-6.2zM245.7 181.4h6.2v1.8h-6.2zM223.7 183.0h6.2v1.8h-6.2zM261.9 180.6h6.2v1.8h-6.2zM272.0 185.4h6.2v1.8h-6.2zM230.8 174.9h6.2v1.8h-6.2zM272.7 186.2h6.2v1.8h-6.2zM261.4 188.5h6.2v1.8h-6.2zM236.3 165.5h6.2v1.8h-6.2zM239.1 178.1h6.2v1.8h-6.2zM243.7 177.2h6.2v1.8h-6.2zM282.8 184.5h6.2v1.8h-6.2zM233.2 175.9h6.2v1.8h-6.2zM267.9 180.2h6.2v1.8h-6.2zM286.8 171.9h6.2v1.8h-6.2zM237.6 130.0h6.2v1.8h-6.2zM241.7 164.3h6.2v1.8h-6.2zM280.0 180.3h6.2v1.8h-6.2zM265.7 188.6h6.2v1.8h-6.2zM244.2 147.4h6.2v1.8h-6.2zM243.1 175.7h6.2v1.8h-6.2zM261.1 187.7h6.2v1.8h-6.2zM270.6 184.1h6.2v1.8h-6.2zM246.1 175.5h6.2v1.8h-6.2zM280.2 183.4h6.2v1.8h-6.2zM271.0 178.9h6.2v1.8h-6.2zM233.8 186.2h6.2v1.8h-6.2zM263.1 180.8h6.2v1.8h-6.2zM271.7 180.3h6.2v1.8h-6.2zM244.6 188.0h6.2v1.8h-6.2zM234.6 188.3h6.2v1.8h-6.2zM282.2 186.4h6.2v1.8h-6.2zM245.8 180.8h6.2v1.8h-6.2zM265.3 168.6h6.2v1.8h-6.2zM215.2 187.1h6.2v1.8h-6.2zM238.6 123.5h6.2v1.8h-6.2zM264.1 170.6h6.2v1.8h-6.2zM231.6 178.8h6.2v1.8h-6.2zM243.7 188.3h6.2v1.8h-6.2zM243.2 179.3h6.2v1.8h-6.2zM240.1 179.9h6.2v1.8h-6.2zM268.2 184.9h6.2v1.8h-6.2zM231.9 180.2h6.2v1.8h-6.2zM243.1 159.4h6.2v1.8h-6.2zM260.5 172.7h6.2v1.8h-6.2zM246.0 187.4h6.2v1.8h-6.2zM231.7 176.2h6.2v1.8h-6.2zM239.2 132.2h6.2v1.8h-6.2zM243.2 183.6h6.2v1.8h-6.2zM279.4 175.3h6.2v1.8h-6.2zM235.6 158.0h6.2v1.8h-6.2zM237.5 162.3h6.2v1.8h-6.2zM279.0 178.5h6.2v1.8h-6.2zM231.3 170.1h6.2v1.8h-6.2zM238.0 179.3h6.2v1.8h-6.2zM229.8 180.1h6.2v1.8h-6.2zM264.7 182.4h6.2v1.8h-6.2zM231.8 186.6h6.2v1.8h-6.2zM245.4 179.3h6.2v1.8h-6.2zM238.8 168.2h6.2v1.8h-6.2zM235.3 183.1h6.2v1.8h-6.2zM278.3 180.2h6.2v1.8h-6.2zM245.0 187.3h6.2v1.8h-6.2zM232.9 175.6h6.2v1.8h-6.2zM268.6 180.7h6.2v1.8h-6.2zM260.2 173.1h6.2v1.8h-6.2zM265.6 188.1h6.2v1.8h-6.2zM238.5 171.4h6.2v1.8h-6.2zM272.4 171.3h6.2v1.8h-6.2zM275.1 187.5h6.2v1.8h-6.2zM243.8 166.3h6.2v1.8h-6.2zM242.3 156.0h6.2v1.8h-6.2zM244.6 183.9h6.2v1.8h-6.2zM266.6 146.5h6.2v1.8h-6.2zM238.4 188.5h6.2v1.8h-6.2zM271.0 188.8h6.2v1.8h-6.2zM229.2 169.3h6.2v1.8h-6.2zM259.8 114.7h6.2v1.8h-6.2zM239.4 167.8h6.2v1.8h-6.2zM269.1 180.1h6.2v1.8h-6.2zM263.0 186.1h6.2v1.8h-6.2zM245.6 166.5h6.2v1.8h-6.2zM244.2 140.5h6.2v1.8h-6.2zM245.2 185.1h6.2v1.8h-6.2zM245.8 188.2h6.2v1.8h-6.2zM244.6 168.4h6.2v1.8h-6.2zM267.2 180.9h6.2v1.8h-6.2zM238.9 186.2h6.2v1.8h-6.2z" fill="#f08888" opacity="0.22" filter="url(#vb)"/>
<path d="M242.7 144.6h6.2v1.8h-6.2zM272.3 187.9h6.2v1.8h-6.2zM267.8 183.5h6.2v1.8h-6.2zM268.5 168.4h6.2v1.8h-6.2zM261.4 184.6h6.2v1.8h-6.2zM236.6 166.1h6.2v1.8h-6.2zM241.4 167.1h6.2v1.8h-6.2zM272.6 182.6h6.2v1.8h-6.2zM291.1 182.6h6.2v1.8h-6.2zM262.8 129.0h6.2v1.8h-6.2zM236.4 184.3h6.2v1.8h-6.2zM242.5 186.1h6.2v1.8h-6.2zM235.7 185.2h6.2v1.8h-6.2zM236.6 167.3h6.2v1.8h-6.2zM321.1 188.1h6.2v1.8h-6.2zM242.8 170.9h6.2v1.8h-6.2zM264.0 182.0h6.2v1.8h-6.2zM240.3 177.3h6.2v1.8h-6.2zM237.6 174.3h6.2v1.8h-6.2zM245.7 130.9h6.2v1.8h-6.2zM245.2 168.8h6.2v1.8h-6.2zM264.5 185.5h6.2v1.8h-6.2zM298.3 186.7h6.2v1.8h-6.2zM263.9 111.7h6.2v1.8h-6.2zM268.3 183.4h6.2v1.8h-6.2zM234.1 188.0h6.2v1.8h-6.2zM262.9 183.6h6.2v1.8h-6.2zM239.4 165.8h6.2v1.8h-6.2zM270.3 188.9h6.2v1.8h-6.2zM241.7 156.1h6.2v1.8h-6.2zM261.7 177.7h6.2v1.8h-6.2zM223.0 188.5h6.2v1.8h-6.2zM238.8 166.5h6.2v1.8h-6.2zM243.0 143.6h6.2v1.8h-6.2zM240.5 181.8h6.2v1.8h-6.2zM245.3 174.6h6.2v1.8h-6.2zM235.2 171.6h6.2v1.8h-6.2zM260.8 174.4h6.2v1.8h-6.2zM263.1 172.1h6.2v1.8h-6.2zM277.5 183.7h6.2v1.8h-6.2zM266.3 178.5h6.2v1.8h-6.2zM243.4 101.6h6.2v1.8h-6.2zM236.7 172.2h6.2v1.8h-6.2zM263.0 180.0h6.2v1.8h-6.2zM220.6 187.9h6.2v1.8h-6.2zM238.8 185.7h6.2v1.8h-6.2zM261.5 187.2h6.2v1.8h-6.2zM193.4 182.2h6.2v1.8h-6.2zM266.8 171.7h6.2v1.8h-6.2zM239.1 183.8h6.2v1.8h-6.2zM262.7 173.2h6.2v1.8h-6.2zM223.8 186.7h6.2v1.8h-6.2zM238.5 178.2h6.2v1.8h-6.2zM243.6 152.4h6.2v1.8h-6.2zM266.8 159.4h6.2v1.8h-6.2zM245.2 171.2h6.2v1.8h-6.2zM263.0 183.5h6.2v1.8h-6.2zM238.3 177.0h6.2v1.8h-6.2zM237.3 179.9h6.2v1.8h-6.2zM246.0 171.7h6.2v1.8h-6.2zM260.8 187.5h6.2v1.8h-6.2zM222.5 183.0h6.2v1.8h-6.2zM268.8 187.3h6.2v1.8h-6.2zM264.0 177.0h6.2v1.8h-6.2zM236.0 188.1h6.2v1.8h-6.2zM235.6 171.5h6.2v1.8h-6.2zM259.8 168.5h6.2v1.8h-6.2zM242.8 159.8h6.2v1.8h-6.2zM239.0 115.0h6.2v1.8h-6.2zM242.4 161.8h6.2v1.8h-6.2zM260.6 186.8h6.2v1.8h-6.2zM265.2 180.0h6.2v1.8h-6.2zM263.7 184.5h6.2v1.8h-6.2zM243.0 170.6h6.2v1.8h-6.2zM261.3 161.0h6.2v1.8h-6.2zM244.1 181.9h6.2v1.8h-6.2zM272.0 184.2h6.2v1.8h-6.2zM273.7 187.5h6.2v1.8h-6.2zM243.9 183.8h6.2v1.8h-6.2zM269.3 179.4h6.2v1.8h-6.2zM243.5 170.0h6.2v1.8h-6.2zM238.8 183.6h6.2v1.8h-6.2zM239.3 175.3h6.2v1.8h-6.2zM242.5 174.4h6.2v1.8h-6.2zM241.2 165.1h6.2v1.8h-6.2zM242.5 188.9h6.2v1.8h-6.2zM214.3 187.4h6.2v1.8h-6.2zM262.6 186.8h6.2v1.8h-6.2zM243.9 188.0h6.2v1.8h-6.2zM229.9 176.5h6.2v1.8h-6.2zM271.0 180.9h6.2v1.8h-6.2zM240.5 186.8h6.2v1.8h-6.2zM237.9 88.3h6.2v1.8h-6.2zM237.1 188.3h6.2v1.8h-6.2zM272.8 188.0h6.2v1.8h-6.2zM221.6 182.0h6.2v1.8h-6.2zM235.8 184.2h6.2v1.8h-6.2zM219.5 187.1h6.2v1.8h-6.2zM265.3 179.5h6.2v1.8h-6.2zM243.6 183.8h6.2v1.8h-6.2zM288.9 187.9h6.2v1.8h-6.2zM242.3 181.5h6.2v1.8h-6.2zM234.8 170.5h6.2v1.8h-6.2zM234.4 177.6h6.2v1.8h-6.2zM259.8 178.8h6.2v1.8h-6.2zM279.2 179.7h6.2v1.8h-6.2zM265.2 158.8h6.2v1.8h-6.2zM262.1 129.6h6.2v1.8h-6.2zM238.5 179.0h6.2v1.8h-6.2zM266.3 176.8h6.2v1.8h-6.2zM268.5 156.6h6.2v1.8h-6.2zM245.2 133.4h6.2v1.8h-6.2zM269.8 179.6h6.2v1.8h-6.2zM260.5 168.1h6.2v1.8h-6.2zM261.5 152.0h6.2v1.8h-6.2zM230.3 186.5h6.2v1.8h-6.2zM262.7 162.1h6.2v1.8h-6.2zM236.0 187.5h6.2v1.8h-6.2zM268.6 176.7h6.2v1.8h-6.2zM264.0 183.6h6.2v1.8h-6.2zM260.2 161.1h6.2v1.8h-6.2zM233.0 183.5h6.2v1.8h-6.2zM245.2 171.4h6.2v1.8h-6.2zM274.3 185.8h6.2v1.8h-6.2zM213.8 182.7h6.2v1.8h-6.2zM260.2 180.8h6.2v1.8h-6.2zM227.1 183.3h6.2v1.8h-6.2zM273.8 180.6h6.2v1.8h-6.2zM228.8 185.8h6.2v1.8h-6.2zM245.4 176.6h6.2v1.8h-6.2zM262.1 170.5h6.2v1.8h-6.2zM271.4 188.7h6.2v1.8h-6.2zM235.5 181.3h6.2v1.8h-6.2zM236.4 148.4h6.2v1.8h-6.2zM300.3 186.9h6.2v1.8h-6.2zM238.3 185.0h6.2v1.8h-6.2zM231.5 188.5h6.2v1.8h-6.2zM240.7 175.4h6.2v1.8h-6.2zM270.9 186.9h6.2v1.8h-6.2zM265.4 173.0h6.2v1.8h-6.2zM243.6 169.9h6.2v1.8h-6.2zM263.5 185.8h6.2v1.8h-6.2zM244.1 185.0h6.2v1.8h-6.2zM229.8 177.5h6.2v1.8h-6.2z" fill="#f08888" opacity="0.22" filter="url(#vb)"/>
<path d="M244.9 149.5h6.2v1.8h-6.2zM245.3 183.3h6.2v1.8h-6.2zM265.0 186.3h6.2v1.8h-6.2zM245.7 119.5h6.2v1.8h-6.2zM239.7 173.6h6.2v1.8h-6.2zM263.2 182.5h6.2v1.8h-6.2zM263.7 187.1h6.2v1.8h-6.2zM243.8 188.8h6.2v1.8h-6.2zM226.3 187.8h6.2v1.8h-6.2zM242.7 170.2h6.2v1.8h-6.2zM265.6 154.1h6.2v1.8h-6.2zM245.5 175.9h6.2v1.8h-6.2zM263.4 177.2h6.2v1.8h-6.2zM244.5 119.7h6.2v1.8h-6.2zM270.0 179.8h6.2v1.8h-6.2zM239.8 170.5h6.2v1.8h-6.2zM240.3 132.6h6.2v1.8h-6.2zM276.9 186.4h6.2v1.8h-6.2zM246.1 181.8h6.2v1.8h-6.2zM244.9 169.3h6.2v1.8h-6.2zM226.6 187.6h6.2v1.8h-6.2zM231.6 178.2h6.2v1.8h-6.2zM242.0 180.9h6.2v1.8h-6.2zM264.9 161.7h6.2v1.8h-6.2zM237.5 177.5h6.2v1.8h-6.2zM237.2 187.6h6.2v1.8h-6.2zM234.9 179.1h6.2v1.8h-6.2zM274.0 186.2h6.2v1.8h-6.2zM241.6 175.0h6.2v1.8h-6.2zM262.8 185.2h6.2v1.8h-6.2zM245.8 188.5h6.2v1.8h-6.2zM266.8 120.4h6.2v1.8h-6.2zM242.7 186.5h6.2v1.8h-6.2zM201.7 184.9h6.2v1.8h-6.2zM239.3 146.8h6.2v1.8h-6.2zM267.2 152.0h6.2v1.8h-6.2zM294.3 184.4h6.2v1.8h-6.2zM245.8 167.0h6.2v1.8h-6.2zM275.6 186.8h6.2v1.8h-6.2zM243.9 186.3h6.2v1.8h-6.2zM262.1 178.7h6.2v1.8h-6.2zM265.2 187.2h6.2v1.8h-6.2zM270.1 150.0h6.2v1.8h-6.2zM271.0 171.8h6.2v1.8h-6.2zM239.8 146.4h6.2v1.8h-6.2zM261.1 163.7h6.2v1.8h-6.2zM245.2 132.7h6.2v1.8h-6.2zM283.2 187.4h6.2v1.8h-6.2zM242.8 174.8h6.2v1.8h-6.2zM306.7 182.2h6.2v1.8h-6.2zM272.7 182.4h6.2v1.8h-6.2zM262.2 186.6h6.2v1.8h-6.2zM235.3 165.7h6.2v1.8h-6.2zM260.0 166.9h6.2v1.8h-6.2zM263.0 186.0h6.2v1.8h-6.2zM231.7 188.6h6.2v1.8h-6.2zM232.0 183.2h6.2v1.8h-6.2zM264.0 184.1h6.2v1.8h-6.2zM239.3 145.9h6.2v1.8h-6.2zM274.4 185.2h6.2v1.8h-6.2zM234.3 187.0h6.2v1.8h-6.2zM231.7 159.6h6.2v1.8h-6.2zM209.8 180.3h6.2v1.8h-6.2zM241.7 179.6h6.2v1.8h-6.2zM276.2 174.8h6.2v1.8h-6.2zM261.5 178.3h6.2v1.8h-6.2zM232.7 182.6h6.2v1.8h-6.2zM264.2 173.7h6.2v1.8h-6.2zM241.7 169.6h6.2v1.8h-6.2zM259.9 163.2h6.2v1.8h-6.2zM244.1 162.1h6.2v1.8h-6.2zM238.6 185.7h6.2v1.8h-6.2zM266.6 179.8h6.2v1.8h-6.2zM243.0 146.4h6.2v1.8h-6.2zM261.9 155.4h6.2v1.8h-6.2zM244.8 180.4h6.2v1.8h-6.2zM265.8 177.8h6.2v1.8h-6.2zM275.7 188.0h6.2v1.8h-6.2zM245.8 175.5h6.2v1.8h-6.2zM275.8 188.3h6.2v1.8h-6.2zM240.3 150.4h6.2v1.8h-6.2zM245.2 170.9h6.2v1.8h-6.2zM229.3 188.9h6.2v1.8h-6.2zM264.4 170.9h6.2v1.8h-6.2zM241.5 178.1h6.2v1.8h-6.2zM240.5 145.4h6.2v1.8h-6.2zM262.2 162.4h6.2v1.8h-6.2zM266.4 184.5h6.2v1.8h-6.2zM266.8 172.4h6.2v1.8h-6.2zM241.2 161.6h6.2v1.8h-6.2zM270.5 183.4h6.2v1.8h-6.2zM272.0 182.4h6.2v1.8h-6.2zM237.5 188.2h6.2v1.8h-6.2zM292.9 180.8h6.2v1.8h-6.2zM262.4 121.4h6.2v1.8h-6.2zM264.3 168.4h6.2v1.8h-6.2zM243.7 110.6h6.2v1.8h-6.2zM263.3 188.3h6.2v1.8h-6.2zM273.3 188.5h6.2v1.8h-6.2zM266.0 174.0h6.2v1.8h-6.2zM266.0 187.0h6.2v1.8h-6.2zM244.6 116.6h6.2v1.8h-6.2zM233.9 185.8h6.2v1.8h-6.2zM261.3 187.4h6.2v1.8h-6.2zM266.0 170.9h6.2v1.8h-6.2zM242.1 178.7h6.2v1.8h-6.2zM238.1 148.2h6.2v1.8h-6.2zM265.1 187.2h6.2v1.8h-6.2zM267.6 177.5h6.2v1.8h-6.2zM238.1 182.4h6.2v1.8h-6.2zM265.0 170.1h6.2v1.8h-6.2zM238.6 166.8h6.2v1.8h-6.2zM246.0 175.7h6.2v1.8h-6.2zM263.5 174.0h6.2v1.8h-6.2zM242.4 187.1h6.2v1.8h-6.2zM243.0 134.1h6.2v1.8h-6.2zM271.6 173.6h6.2v1.8h-6.2zM233.8 180.5h6.2v1.8h-6.2zM242.1 151.8h6.2v1.8h-6.2zM246.1 143.3h6.2v1.8h-6.2zM236.4 169.4h6.2v1.8h-6.2zM238.4 136.2h6.2v1.8h-6.2zM296.2 182.6h6.2v1.8h-6.2zM241.5 186.6h6.2v1.8h-6.2zM245.1 160.2h6.2v1.8h-6.2zM241.6 115.4h6.2v1.8h-6.2zM274.2 183.1h6.2v1.8h-6.2zM260.6 185.6h6.2v1.8h-6.2zM277.7 187.7h6.2v1.8h-6.2zM243.7 160.3h6.2v1.8h-6.2zM235.8 186.3h6.2v1.8h-6.2zM234.4 187.0h6.2v1.8h-6.2zM273.1 188.6h6.2v1.8h-6.2zM235.5 165.7h6.2v1.8h-6.2zM263.0 165.1h6.2v1.8h-6.2zM263.7 173.2h6.2v1.8h-6.2zM194.2 187.7h6.2v1.8h-6.2zM228.2 172.3h6.2v1.8h-6.2zM242.2 169.1h6.2v1.8h-6.2zM241.5 177.2h6.2v1.8h-6.2zM228.6 187.8h6.2v1.8h-6.2zM263.1 185.9h6.2v1.8h-6.2zM241.7 139.4h6.2v1.8h-6.2z" fill="#f08888" opacity="0.22" filter="url(#vb)"/>
<path d="M261.5 171.4h6.2v1.8h-6.2zM273.2 188.4h6.2v1.8h-6.2zM243.7 160.0h6.2v1.8h-6.2zM243.3 182.9h6.2v1.8h-6.2zM264.2 182.1h6.2v1.8h-6.2zM262.6 186.2h6.2v1.8h-6.2zM260.6 157.6h6.2v1.8h-6.2zM233.0 182.6h6.2v1.8h-6.2zM244.7 110.1h6.2v1.8h-6.2zM263.1 183.6h6.2v1.8h-6.2zM260.7 154.4h6.2v1.8h-6.2zM261.5 183.6h6.2v1.8h-6.2zM240.2 178.7h6.2v1.8h-6.2zM244.2 167.3h6.2v1.8h-6.2zM277.2 187.9h6.2v1.8h-6.2zM240.4 160.9h6.2v1.8h-6.2zM242.0 166.2h6.2v1.8h-6.2zM225.5 182.1h6.2v1.8h-6.2zM243.3 187.1h6.2v1.8h-6.2zM271.9 182.4h6.2v1.8h-6.2zM299.6 188.6h6.2v1.8h-6.2zM245.3 188.3h6.2v1.8h-6.2zM236.5 186.0h6.2v1.8h-6.2zM234.8 188.5h6.2v1.8h-6.2zM245.0 172.6h6.2v1.8h-6.2zM270.6 181.5h6.2v1.8h-6.2zM266.8 177.8h6.2v1.8h-6.2zM244.4 180.9h6.2v1.8h-6.2zM237.3 183.1h6.2v1.8h-6.2zM244.1 185.6h6.2v1.8h-6.2zM260.6 150.6h6.2v1.8h-6.2zM263.4 176.0h6.2v1.8h-6.2zM273.4 185.1h6.2v1.8h-6.2zM245.7 167.6h6.2v1.8h-6.2zM266.6 166.0h6.2v1.8h-6.2zM219.7 186.9h6.2v1.8h-6.2zM273.4 188.6h6.2v1.8h-6.2zM241.9 157.2h6.2v1.8h-6.2zM242.9 170.7h6.2v1.8h-6.2zM228.8 188.8h6.2v1.8h-6.2zM265.9 137.8h6.2v1.8h-6.2zM245.1 185.0h6.2v1.8h-6.2zM265.8 176.4h6.2v1.8h-6.2zM268.2 184.1h6.2v1.8h-6.2zM261.4 185.4h6.2v1.8h-6.2zM243.2 178.8h6.2v1.8h-6.2zM243.0 172.4h6.2v1.8h-6.2zM264.0 174.5h6.2v1.8h-6.2zM245.0 179.6h6.2v1.8h-6.2zM237.3 182.0h6.2v1.8h-6.2zM232.6 177.4h6.2v1.8h-6.2zM244.0 172.0h6.2v1.8h-6.2zM246.0 116.1h6.2v1.8h-6.2zM230.6 184.2h6.2v1.8h-6.2zM245.8 170.2h6.2v1.8h-6.2zM240.3 180.8h6.2v1.8h-6.2zM244.4 161.8h6.2v1.8h-6.2zM265.5 171.1h6.2v1.8h-6.2zM244.1 163.8h6.2v1.8h-6.2zM241.7 188.4h6.2v1.8h-6.2zM242.3 176.7h6.2v1.8h-6.2zM265.3 186.1h6.2v1.8h-6.2zM264.3 188.0h6.2v1.8h-6.2zM226.0 186.4h6.2v1.8h-6.2zM237.6 167.0h6.2v1.8h-6.2zM237.8 130.4h6.2v1.8h-6.2zM245.0 180.7h6.2v1.8h-6.2zM263.7 179.2h6.2v1.8h-6.2zM244.3 118.1h6.2v1.8h-6.2zM243.1 165.3h6.2v1.8h-6.2zM292.2 187.4h6.2v1.8h-6.2zM238.8 173.1h6.2v1.8h-6.2zM267.1 175.7h6.2v1.8h-6.2zM243.3 168.1h6.2v1.8h-6.2zM261.4 178.9h6.2v1.8h-6.2zM230.0 187.4h6.2v1.8h-6.2zM219.9 188.2h6.2v1.8h-6.2zM245.3 124.0h6.2v1.8h-6.2zM269.0 181.6h6.2v1.8h-6.2zM262.5 170.1h6.2v1.8h-6.2zM267.9 177.9h6.2v1.8h-6.2zM264.0 180.9h6.2v1.8h-6.2zM271.2 184.7h6.2v1.8h-6.2zM240.7 168.3h6.2v1.8h-6.2zM230.3 187.1h6.2v1.8h-6.2zM269.1 176.0h6.2v1.8h-6.2zM245.1 157.0h6.2v1.8h-6.2zM240.0 96.5h6.2v1.8h-6.2zM242.2 183.5h6.2v1.8h-6.2zM264.6 185.8h6.2v1.8h-6.2zM225.9 182.6h6.2v1.8h-6.2zM243.5 164.1h6.2v1.8h-6.2zM270.4 175.7h6.2v1.8h-6.2zM275.5 183.2h6.2v1.8h-6.2zM271.7 187.5h6.2v1.8h-6.2zM266.5 173.2h6.2v1.8h-6.2zM265.0 176.5h6.2v1.8h-6.2zM262.8 171.0h6.2v1.8h-6.2zM265.0 187.8h6.2v1.8h-6.2zM226.0 183.0h6.2v1.8h-6.2zM269.8 186.3h6.2v1.8h-6.2zM241.2 188.8h6.2v1.8h-6.2zM263.1 167.5h6.2v1.8h-6.2zM267.8 117.1h6.2v1.8h-6.2zM264.9 174.3h6.2v1.8h-6.2zM299.7 182.3h6.2v1.8h-6.2zM241.2 177.5h6.2v1.8h-6.2zM227.6 187.5h6.2v1.8h-6.2zM231.2 187.9h6.2v1.8h-6.2zM273.0 182.2h6.2v1.8h-6.2zM239.1 124.4h6.2v1.8h-6.2zM242.0 135.8h6.2v1.8h-6.2zM240.1 188.9h6.2v1.8h-6.2zM234.9 170.7h6.2v1.8h-6.2zM263.2 164.2h6.2v1.8h-6.2zM261.9 115.5h6.2v1.8h-6.2zM259.6 188.1h6.2v1.8h-6.2zM293.5 183.9h6.2v1.8h-6.2zM240.2 181.7h6.2v1.8h-6.2zM235.2 188.0h6.2v1.8h-6.2zM232.0 186.2h6.2v1.8h-6.2zM262.7 164.5h6.2v1.8h-6.2zM259.9 160.3h6.2v1.8h-6.2zM239.7 181.6h6.2v1.8h-6.2zM243.3 173.9h6.2v1.8h-6.2zM237.7 172.7h6.2v1.8h-6.2zM262.3 174.3h6.2v1.8h-6.2zM233.0 179.3h6.2v1.8h-6.2zM261.7 140.6h6.2v1.8h-6.2zM275.1 188.1h6.2v1.8h-6.2zM243.7 160.9h6.2v1.8h-6.2zM244.8 165.9h6.2v1.8h-6.2zM237.5 157.8h6.2v1.8h-6.2zM241.3 105.2h6.2v1.8h-6.2zM265.1 159.4h6.2v1.8h-6.2zM242.7 178.8h6.2v1.8h-6.2zM296.2 183.6h6.2v1.8h-6.2zM278.7 187.2h6.2v1.8h-6.2zM291.2 184.9h6.2v1.8h-6.2zM241.5 160.9h6.2v1.8h-6.2zM241.1 132.1h6.2v1.8h-6.2zM242.4 187.2h6.2v1.8h-6.2zM240.4 135.0h6.2v1.8h-6.2zM242.8 155.7h6.2v1.8h-6.2zM260.7 172.9h6.2v1.8h-6.2zM246.0 188.1h6.2v1.8h-6.2zM265.3 155.9h6.2v1.8h-6.2zM275.2 188.4h6.2v1.8h-6.2zM246.0 146.0h6.2v1.8h-6.2zM243.5 148.2h6.2v1.8h-6.2zM268.5 163.9h6.2v1.8h-6.2zM228.7 179.4h6.2v1.8h-6.2zM260.2 179.2h6.2v1.8h-6.2zM239.6 153.4h6.2v1.8h-6.2zM264.2 169.4h6.2v1.8h-6.2zM245.0 128.0h6.2v1.8h-6.2zM235.0 188.3h6.2v1.8h-6.2z" fill="#f08888" opacity="0.22" filter="url(#vb)"/>
<path d="M262.1 174.7h6.2v1.8h-6.2zM262.4 185.5h6.2v1.8h-6.2zM244.1 148.0h6.2v1.8h-6.2zM304.9 188.3h6.2v1.8h-6.2zM238.7 179.2h6.2v1.8h-6.2zM272.1 184.2h6.2v1.8h-6.2zM286.3 170.1h6.2v1.8h-6.2zM289.3 187.3h6.2v1.8h-6.2zM245.2 186.8h6.2v1.8h-6.2zM244.5 142.4h6.2v1.8h-6.2zM263.7 174.2h6.2v1.8h-6.2zM182.7 182.3h6.2v1.8h-6.2zM260.7 169.6h6.2v1.8h-6.2zM239.8 174.5h6.2v1.8h-6.2zM235.4 175.8h6.2v1.8h-6.2zM245.7 173.3h6.2v1.8h-6.2zM231.7 186.7h6.2v1.8h-6.2zM233.5 187.6h6.2v1.8h-6.2zM244.1 170.5h6.2v1.8h-6.2zM229.2 186.5h6.2v1.8h-6.2zM266.8 151.9h6.2v1.8h-6.2zM268.4 172.0h6.2v1.8h-6.2zM245.3 99.2h6.2v1.8h-6.2zM276.7 173.9h6.2v1.8h-6.2zM240.1 184.0h6.2v1.8h-6.2zM244.8 148.9h6.2v1.8h-6.2zM239.7 183.7h6.2v1.8h-6.2zM282.5 182.8h6.2v1.8h-6.2zM243.7 84.7h6.2v1.8h-6.2zM244.7 166.3h6.2v1.8h-6.2zM261.7 182.4h6.2v1.8h-6.2zM218.9 188.8h6.2v1.8h-6.2zM260.6 173.5h6.2v1.8h-6.2zM267.4 187.3h6.2v1.8h-6.2zM242.7 163.3h6.2v1.8h-6.2zM262.8 171.8h6.2v1.8h-6.2zM232.2 184.2h6.2v1.8h-6.2zM243.8 153.3h6.2v1.8h-6.2zM261.5 186.7h6.2v1.8h-6.2zM272.2 148.9h6.2v1.8h-6.2zM263.4 176.3h6.2v1.8h-6.2zM243.5 169.0h6.2v1.8h-6.2zM238.1 180.5h6.2v1.8h-6.2zM278.6 188.8h6.2v1.8h-6.2zM272.0 185.7h6.2v1.8h-6.2zM266.3 164.0h6.2v1.8h-6.2zM269.0 170.5h6.2v1.8h-6.2zM270.8 182.4h6.2v1.8h-6.2zM234.2 169.5h6.2v1.8h-6.2zM272.8 186.8h6.2v1.8h-6.2zM264.7 188.7h6.2v1.8h-6.2zM241.5 164.2h6.2v1.8h-6.2zM239.1 147.9h6.2v1.8h-6.2zM264.4 184.0h6.2v1.8h-6.2zM201.0 184.3h6.2v1.8h-6.2zM272.6 165.0h6.2v1.8h-6.2zM265.1 181.0h6.2v1.8h-6.2zM285.4 188.6h6.2v1.8h-6.2zM232.7 185.5h6.2v1.8h-6.2zM259.7 182.4h6.2v1.8h-6.2zM243.2 187.7h6.2v1.8h-6.2zM282.0 188.8h6.2v1.8h-6.2zM241.3 170.9h6.2v1.8h-6.2zM243.4 149.8h6.2v1.8h-6.2zM244.0 176.4h6.2v1.8h-6.2zM243.6 175.7h6.2v1.8h-6.2zM242.7 186.2h6.2v1.8h-6.2zM243.8 186.0h6.2v1.8h-6.2zM230.5 187.7h6.2v1.8h-6.2zM239.6 174.3h6.2v1.8h-6.2zM240.1 120.2h6.2v1.8h-6.2zM243.9 182.8h6.2v1.8h-6.2zM238.6 185.6h6.2v1.8h-6.2zM244.5 160.0h6.2v1.8h-6.2zM229.9 184.3h6.2v1.8h-6.2zM235.1 175.7h6.2v1.8h-6.2zM266.6 173.4h6.2v1.8h-6.2zM277.6 188.7h6.2v1.8h-6.2zM240.7 130.9h6.2v1.8h-6.2zM240.3 121.9h6.2v1.8h-6.2zM262.2 160.4h6.2v1.8h-6.2zM241.2 142.6h6.2v1.8h-6.2zM276.2 185.8h6.2v1.8h-6.2zM237.9 185.1h6.2v1.8h-6.2zM242.2 166.9h6.2v1.8h-6.2zM240.0 185.8h6.2v1.8h-6.2zM269.5 168.9h6.2v1.8h-6.2zM243.7 163.7h6.2v1.8h-6.2zM266.4 132.7h6.2v1.8h-6.2zM274.5 184.6h6.2v1.8h-6.2zM236.6 175.9h6.2v1.8h-6.2zM245.5 160.1h6.2v1.8h-6.2zM233.8 184.7h6.2v1.8h-6.2zM267.4 182.1h6.2v1.8h-6.2zM238.5 177.8h6.2v1.8h-6.2zM235.3 188.4h6.2v1.8h-6.2zM243.1 95.4h6.2v1.8h-6.2zM240.4 165.0h6.2v1.8h-6.2zM264.4 187.0h6.2v1.8h-6.2zM242.3 123.0h6.2v1.8h-6.2zM266.7 166.1h6.2v1.8h-6.2zM262.7 186.6h6.2v1.8h-6.2zM265.6 186.7h6.2v1.8h-6.2zM266.5 165.8h6.2v1.8h-6.2zM235.5 188.7h6.2v1.8h-6.2zM221.2 188.3h6.2v1.8h-6.2zM271.9 188.3h6.2v1.8h-6.2zM263.2 153.3h6.2v1.8h-6.2zM243.5 147.9h6.2v1.8h-6.2zM268.3 146.3h6.2v1.8h-6.2zM263.1 183.0h6.2v1.8h-6.2zM268.0 182.1h6.2v1.8h-6.2zM245.7 167.6h6.2v1.8h-6.2zM243.5 89.7h6.2v1.8h-6.2zM269.2 179.6h6.2v1.8h-6.2zM269.3 179.1h6.2v1.8h-6.2zM269.2 179.1h6.2v1.8h-6.2zM239.2 155.2h6.2v1.8h-6.2zM246.0 181.6h6.2v1.8h-6.2zM232.0 176.6h6.2v1.8h-6.2zM237.6 187.4h6.2v1.8h-6.2zM268.8 186.8h6.2v1.8h-6.2zM241.9 166.1h6.2v1.8h-6.2zM244.1 187.0h6.2v1.8h-6.2zM243.2 183.6h6.2v1.8h-6.2zM273.8 186.0h6.2v1.8h-6.2zM266.4 120.2h6.2v1.8h-6.2zM268.0 183.7h6.2v1.8h-6.2zM272.7 180.4h6.2v1.8h-6.2zM263.2 168.0h6.2v1.8h-6.2zM236.8 182.2h6.2v1.8h-6.2zM232.6 179.8h6.2v1.8h-6.2zM260.5 187.2h6.2v1.8h-6.2zM260.3 185.6h6.2v1.8h-6.2zM262.1 159.4h6.2v1.8h-6.2zM260.5 184.2h6.2v1.8h-6.2zM239.9 156.6h6.2v1.8h-6.2zM245.4 165.7h6.2v1.8h-6.2zM272.3 186.0h6.2v1.8h-6.2zM262.1 176.9h6.2v1.8h-6.2zM234.5 184.8h6.2v1.8h-6.2zM243.9 184.1h6.2v1.8h-6.2zM294.0 186.2h6.2v1.8h-6.2zM241.6 115.6h6.2v1.8h-6.2zM238.7 139.8h6.2v1.8h-6.2z" fill="#f08888" opacity="0.22" filter="url(#vb)"/>
<path d="M264.3 136.4h6.2v1.8h-6.2zM241.0 178.1h6.2v1.8h-6.2zM246.1 176.7h6.2v1.8h-6.2zM264.0 168.4h6.2v1.8h-6.2zM268.3 174.9h6.2v1.8h-6.2zM243.2 153.1h6.2v1.8h-6.2zM284.0 185.5h6.2v1.8h-6.2zM230.7 179.8h6.2v1.8h-6.2zM235.8 180.2h6.2v1.8h-6.2zM271.5 183.9h6.2v1.8h-6.2zM238.1 155.4h6.2v1.8h-6.2zM262.7 160.3h6.2v1.8h-6.2zM245.0 146.5h6.2v1.8h-6.2zM243.3 158.6h6.2v1.8h-6.2zM265.7 188.5h6.2v1.8h-6.2zM270.3 159.2h6.2v1.8h-6.2zM264.2 187.9h6.2v1.8h-6.2zM261.5 156.9h6.2v1.8h-6.2zM264.6 177.0h6.2v1.8h-6.2zM244.6 173.9h6.2v1.8h-6.2zM243.9 174.8h6.2v1.8h-6.2zM242.7 147.6h6.2v1.8h-6.2zM269.5 183.5h6.2v1.8h-6.2zM264.1 179.0h6.2v1.8h-6.2zM224.3 176.3h6.2v1.8h-6.2zM244.5 187.2h6.2v1.8h-6.2zM245.4 154.4h6.2v1.8h-6.2zM245.8 181.0h6.2v1.8h-6.2zM243.3 176.8h6.2v1.8h-6.2zM241.8 188.9h6.2v1.8h-6.2zM268.2 181.2h6.2v1.8h-6.2zM237.8 124.4h6.2v1.8h-6.2zM259.8 185.4h6.2v1.8h-6.2zM260.1 187.9h6.2v1.8h-6.2zM260.6 182.1h6.2v1.8h-6.2zM241.6 178.2h6.2v1.8h-6.2zM241.8 147.9h6.2v1.8h-6.2zM238.8 187.4h6.2v1.8h-6.2zM264.9 187.6h6.2v1.8h-6.2zM262.9 173.6h6.2v1.8h-6.2zM267.5 164.0h6.2v1.8h-6.2zM282.5 181.7h6.2v1.8h-6.2zM233.6 168.4h6.2v1.8h-6.2zM276.4 187.7h6.2v1.8h-6.2zM240.3 184.5h6.2v1.8h-6.2zM243.8 186.6h6.2v1.8h-6.2zM234.3 175.1h6.2v1.8h-6.2zM277.3 184.6h6.2v1.8h-6.2zM269.1 188.8h6.2v1.8h-6.2zM243.0 179.7h6.2v1.8h-6.2zM266.0 179.9h6.2v1.8h-6.2zM230.7 183.2h6.2v1.8h-6.2zM245.5 169.6h6.2v1.8h-6.2zM271.2 187.8h6.2v1.8h-6.2zM278.7 185.8h6.2v1.8h-6.2zM245.5 149.8h6.2v1.8h-6.2zM277.6 188.3h6.2v1.8h-6.2zM238.4 180.8h6.2v1.8h-6.2zM233.5 178.8h6.2v1.8h-6.2zM244.0 181.5h6.2v1.8h-6.2zM262.9 185.3h6.2v1.8h-6.2zM281.0 185.4h6.2v1.8h-6.2zM245.5 181.7h6.2v1.8h-6.2zM262.1 176.0h6.2v1.8h-6.2zM280.0 182.0h6.2v1.8h-6.2zM263.7 130.0h6.2v1.8h-6.2zM267.7 159.0h6.2v1.8h-6.2zM262.3 153.2h6.2v1.8h-6.2zM245.2 175.1h6.2v1.8h-6.2zM229.4 171.7h6.2v1.8h-6.2zM264.9 179.4h6.2v1.8h-6.2zM237.6 152.7h6.2v1.8h-6.2zM237.3 133.8h6.2v1.8h-6.2zM245.3 176.8h6.2v1.8h-6.2zM242.5 170.2h6.2v1.8h-6.2zM300.5 185.4h6.2v1.8h-6.2zM245.8 169.9h6.2v1.8h-6.2zM229.2 186.2h6.2v1.8h-6.2zM269.9 179.2h6.2v1.8h-6.2zM267.0 180.5h6.2v1.8h-6.2zM261.1 173.5h6.2v1.8h-6.2zM240.3 167.8h6.2v1.8h-6.2zM271.7 181.8h6.2v1.8h-6.2zM270.7 178.5h6.2v1.8h-6.2zM241.4 180.3h6.2v1.8h-6.2zM262.9 176.4h6.2v1.8h-6.2zM244.2 185.1h6.2v1.8h-6.2zM261.6 184.8h6.2v1.8h-6.2zM243.7 151.1h6.2v1.8h-6.2zM285.2 188.6h6.2v1.8h-6.2zM245.7 180.3h6.2v1.8h-6.2zM272.1 187.5h6.2v1.8h-6.2zM243.1 171.6h6.2v1.8h-6.2zM245.5 150.3h6.2v1.8h-6.2zM263.2 105.2h6.2v1.8h-6.2zM266.5 175.7h6.2v1.8h-6.2zM291.7 177.7h6.2v1.8h-6.2zM245.3 180.9h6.2v1.8h-6.2zM242.2 158.2h6.2v1.8h-6.2zM266.5 177.1h6.2v1.8h-6.2zM243.1 188.5h6.2v1.8h-6.2zM237.5 157.4h6.2v1.8h-6.2zM259.9 147.8h6.2v1.8h-6.2zM274.4 186.5h6.2v1.8h-6.2zM245.0 138.3h6.2v1.8h-6.2zM242.8 107.3h6.2v1.8h-6.2zM230.9 181.1h6.2v1.8h-6.2zM229.5 183.0h6.2v1.8h-6.2zM264.5 160.8h6.2v1.8h-6.2zM234.9 186.3h6.2v1.8h-6.2zM222.2 184.0h6.2v1.8h-6.2zM217.2 188.3h6.2v1.8h-6.2zM243.3 156.8h6.2v1.8h-6.2zM214.7 185.3h6.2v1.8h-6.2zM241.7 114.6h6.2v1.8h-6.2zM240.0 168.8h6.2v1.8h-6.2zM263.6 174.2h6.2v1.8h-6.2zM268.1 178.9h6.2v1.8h-6.2zM240.0 185.9h6.2v1.8h-6.2zM235.9 180.5h6.2v1.8h-6.2zM265.7 172.1h6.2v1.8h-6.2zM261.2 188.8h6.2v1.8h-6.2zM238.4 180.0h6.2v1.8h-6.2zM263.6 171.3h6.2v1.8h-6.2zM264.3 175.7h6.2v1.8h-6.2zM245.9 154.5h6.2v1.8h-6.2zM267.6 183.6h6.2v1.8h-6.2zM244.8 188.8h6.2v1.8h-6.2zM264.1 149.3h6.2v1.8h-6.2zM234.2 173.2h6.2v1.8h-6.2zM291.0 165.8h6.2v1.8h-6.2zM240.6 102.9h6.2v1.8h-6.2zM263.4 167.5h6.2v1.8h-6.2zM260.8 174.8h6.2v1.8h-6.2zM261.5 149.0h6.2v1.8h-6.2zM197.2 187.7h6.2v1.8h-6.2zM261.0 188.2h6.2v1.8h-6.2zM262.9 169.5h6.2v1.8h-6.2zM245.8 178.3h6.2v1.8h-6.2zM278.2 184.6h6.2v1.8h-6.2zM233.9 184.4h6.2v1.8h-6.2zM263.4 180.8h6.2v1.8h-6.2z" fill="#f08888" opacity="0.22" filter="url(#vb)"/>
<path d="M259.4 173.6h5.6v1.6h-5.6zM246.6 158.9h5.6v1.6h-5.6zM244.3 186.7h5.6v1.6h-5.6zM252.7 188.7h5.6v1.6h-5.6zM270.4 186.6h5.6v1.6h-5.6zM251.1 187.0h5.6v1.6h-5.6zM243.4 187.9h5.6v1.6h-5.6zM234.2 187.8h5.6v1.6h-5.6zM257.5 181.0h5.6v1.6h-5.6zM249.2 188.4h5.6v1.6h-5.6zM265.2 186.5h5.6v1.6h-5.6zM267.1 188.6h5.6v1.6h-5.6zM247.3 188.8h5.6v1.6h-5.6zM260.0 183.7h5.6v1.6h-5.6zM256.3 188.7h5.6v1.6h-5.6zM254.9 186.6h5.6v1.6h-5.6zM244.4 188.7h5.6v1.6h-5.6zM257.6 178.7h5.6v1.6h-5.6zM250.0 178.2h5.6v1.6h-5.6zM259.0 185.6h5.6v1.6h-5.6zM247.1 162.8h5.6v1.6h-5.6zM253.9 188.9h5.6v1.6h-5.6zM256.7 179.2h5.6v1.6h-5.6zM255.7 183.5h5.6v1.6h-5.6zM270.0 188.8h5.6v1.6h-5.6zM246.4 163.6h5.6v1.6h-5.6zM250.2 188.7h5.6v1.6h-5.6zM252.1 188.4h5.6v1.6h-5.6zM266.9 187.7h5.6v1.6h-5.6zM255.3 185.4h5.6v1.6h-5.6zM250.3 182.4h5.6v1.6h-5.6zM244.7 185.2h5.6v1.6h-5.6zM246.8 155.7h5.6v1.6h-5.6zM250.4 182.0h5.6v1.6h-5.6zM254.3 187.4h5.6v1.6h-5.6zM251.5 185.9h5.6v1.6h-5.6zM243.1 187.7h5.6v1.6h-5.6zM259.7 167.3h5.6v1.6h-5.6zM257.2 175.0h5.6v1.6h-5.6zM251.0 183.6h5.6v1.6h-5.6zM250.8 185.4h5.6v1.6h-5.6zM256.3 188.3h5.6v1.6h-5.6zM246.3 174.2h5.6v1.6h-5.6zM254.9 186.1h5.6v1.6h-5.6zM249.4 174.9h5.6v1.6h-5.6zM245.2 188.5h5.6v1.6h-5.6zM247.9 174.2h5.6v1.6h-5.6zM250.0 187.6h5.6v1.6h-5.6zM247.7 173.6h5.6v1.6h-5.6zM246.9 158.5h5.6v1.6h-5.6zM246.7 166.5h5.6v1.6h-5.6zM248.3 174.3h5.6v1.6h-5.6zM233.3 185.4h5.6v1.6h-5.6zM250.9 188.8h5.6v1.6h-5.6zM264.3 187.6h5.6v1.6h-5.6zM246.9 188.0h5.6v1.6h-5.6zM252.0 188.1h5.6v1.6h-5.6zM249.7 182.1h5.6v1.6h-5.6zM240.3 186.5h5.6v1.6h-5.6zM244.3 188.2h5.6v1.6h-5.6zM254.4 187.1h5.6v1.6h-5.6zM246.4 161.0h5.6v1.6h-5.6zM242.0 188.7h5.6v1.6h-5.6zM251.9 188.9h5.6v1.6h-5.6zM268.7 187.9h5.6v1.6h-5.6zM255.8 188.4h5.6v1.6h-5.6zM256.0 183.8h5.6v1.6h-5.6zM262.3 185.9h5.6v1.6h-5.6zM255.4 187.0h5.6v1.6h-5.6zM270.1 186.7h5.6v1.6h-5.6zM257.3 182.1h5.6v1.6h-5.6zM243.7 185.8h5.6v1.6h-5.6zM257.3 182.7h5.6v1.6h-5.6zM255.6 185.9h5.6v1.6h-5.6zM247.6 171.8h5.6v1.6h-5.6zM239.3 188.8h5.6v1.6h-5.6zM259.9 156.1h5.6v1.6h-5.6zM254.3 188.0h5.6v1.6h-5.6zM256.3 185.0h5.6v1.6h-5.6zM259.3 162.7h5.6v1.6h-5.6zM255.6 187.5h5.6v1.6h-5.6zM277.9 177.5h5.6v1.6h-5.6zM259.7 164.8h5.6v1.6h-5.6zM247.7 162.7h5.6v1.6h-5.6zM251.9 186.8h5.6v1.6h-5.6zM247.6 189.0h5.6v1.6h-5.6zM252.9 188.0h5.6v1.6h-5.6zM256.5 188.1h5.6v1.6h-5.6zM249.8 179.8h5.6v1.6h-5.6zM257.2 187.1h5.6v1.6h-5.6zM265.4 186.8h5.6v1.6h-5.6zM242.6 187.4h5.6v1.6h-5.6z" fill="#e04848" opacity="0.17" filter="url(#vb)"/>
<path d="M250.6 182.1h5.6v1.6h-5.6zM256.6 180.9h5.6v1.6h-5.6zM251.3 186.7h5.6v1.6h-5.6zM242.0 188.8h5.6v1.6h-5.6zM249.5 180.8h5.6v1.6h-5.6zM259.5 188.6h5.6v1.6h-5.6zM255.7 185.3h5.6v1.6h-5.6zM265.5 187.0h5.6v1.6h-5.6zM251.2 185.7h5.6v1.6h-5.6zM252.7 188.7h5.6v1.6h-5.6zM244.2 188.2h5.6v1.6h-5.6zM255.3 184.4h5.6v1.6h-5.6zM257.0 178.8h5.6v1.6h-5.6zM244.7 189.0h5.6v1.6h-5.6zM229.1 188.6h5.6v1.6h-5.6zM255.9 186.0h5.6v1.6h-5.6zM257.8 186.2h5.6v1.6h-5.6zM255.2 186.0h5.6v1.6h-5.6zM252.9 187.9h5.6v1.6h-5.6zM263.2 188.2h5.6v1.6h-5.6zM253.8 188.4h5.6v1.6h-5.6zM257.7 181.5h5.6v1.6h-5.6zM247.8 164.5h5.6v1.6h-5.6zM253.2 188.7h5.6v1.6h-5.6zM258.3 181.9h5.6v1.6h-5.6zM259.7 156.5h5.6v1.6h-5.6zM249.7 178.7h5.6v1.6h-5.6zM257.0 174.7h5.6v1.6h-5.6zM256.6 177.5h5.6v1.6h-5.6zM257.8 183.2h5.6v1.6h-5.6zM255.3 184.8h5.6v1.6h-5.6zM252.4 187.9h5.6v1.6h-5.6zM254.1 188.0h5.6v1.6h-5.6zM256.6 179.6h5.6v1.6h-5.6zM246.6 188.7h5.6v1.6h-5.6zM257.6 181.6h5.6v1.6h-5.6zM247.7 184.2h5.6v1.6h-5.6zM246.3 188.6h5.6v1.6h-5.6zM249.4 188.5h5.6v1.6h-5.6zM281.3 188.9h5.6v1.6h-5.6zM246.8 187.4h5.6v1.6h-5.6zM258.0 170.7h5.6v1.6h-5.6zM247.9 164.9h5.6v1.6h-5.6zM250.8 182.1h5.6v1.6h-5.6zM262.1 188.6h5.6v1.6h-5.6zM255.6 188.9h5.6v1.6h-5.6zM252.6 188.5h5.6v1.6h-5.6zM247.3 172.9h5.6v1.6h-5.6zM259.7 170.7h5.6v1.6h-5.6zM253.4 188.2h5.6v1.6h-5.6zM246.7 176.7h5.6v1.6h-5.6zM259.2 184.6h5.6v1.6h-5.6zM246.8 157.1h5.6v1.6h-5.6zM247.4 168.5h5.6v1.6h-5.6zM249.5 182.5h5.6v1.6h-5.6zM252.1 188.5h5.6v1.6h-5.6zM251.7 186.7h5.6v1.6h-5.6zM264.9 186.2h5.6v1.6h-5.6zM255.0 185.0h5.6v1.6h-5.6zM260.1 163.2h5.6v1.6h-5.6zM255.9 181.7h5.6v1.6h-5.6zM252.0 187.3h5.6v1.6h-5.6zM260.5 188.3h5.6v1.6h-5.6zM249.1 178.3h5.6v1.6h-5.6zM294.1 188.5h5.6v1.6h-5.6zM267.5 188.6h5.6v1.6h-5.6zM257.1 177.8h5.6v1.6h-5.6zM250.3 180.7h5.6v1.6h-5.6zM254.5 187.4h5.6v1.6h-5.6zM237.9 186.3h5.6v1.6h-5.6zM235.7 188.2h5.6v1.6h-5.6zM262.0 188.9h5.6v1.6h-5.6zM247.6 187.4h5.6v1.6h-5.6zM252.2 188.5h5.6v1.6h-5.6zM252.0 188.9h5.6v1.6h-5.6zM255.5 183.0h5.6v1.6h-5.6zM268.0 188.1h5.6v1.6h-5.6zM247.8 178.5h5.6v1.6h-5.6zM248.2 188.7h5.6v1.6h-5.6zM251.8 187.7h5.6v1.6h-5.6zM243.4 187.5h5.6v1.6h-5.6zM245.9 188.2h5.6v1.6h-5.6z" fill="#e04848" opacity="0.17" filter="url(#vb)"/>
<path d="M251.9 188.2h5.6v1.6h-5.6zM252.1 188.7h5.6v1.6h-5.6zM229.5 188.3h5.6v1.6h-5.6zM248.9 170.8h5.6v1.6h-5.6zM263.0 188.9h5.6v1.6h-5.6zM254.0 188.6h5.6v1.6h-5.6zM254.9 188.7h5.6v1.6h-5.6zM251.2 184.4h5.6v1.6h-5.6zM230.4 188.9h5.6v1.6h-5.6zM259.1 176.9h5.6v1.6h-5.6zM262.7 187.3h5.6v1.6h-5.6zM254.1 187.6h5.6v1.6h-5.6zM258.8 167.3h5.6v1.6h-5.6zM259.8 189.0h5.6v1.6h-5.6zM215.0 188.1h5.6v1.6h-5.6zM249.6 187.5h5.6v1.6h-5.6zM253.5 188.6h5.6v1.6h-5.6zM256.6 181.2h5.6v1.6h-5.6zM251.0 183.7h5.6v1.6h-5.6zM251.9 184.6h5.6v1.6h-5.6zM260.2 171.2h5.6v1.6h-5.6zM256.2 181.0h5.6v1.6h-5.6zM252.6 188.5h5.6v1.6h-5.6zM246.2 178.3h5.6v1.6h-5.6zM259.4 180.6h5.6v1.6h-5.6zM241.5 188.2h5.6v1.6h-5.6zM246.2 161.5h5.6v1.6h-5.6zM247.1 169.9h5.6v1.6h-5.6zM254.3 187.7h5.6v1.6h-5.6zM257.2 178.7h5.6v1.6h-5.6zM250.8 187.4h5.6v1.6h-5.6zM253.0 188.9h5.6v1.6h-5.6zM242.5 187.2h5.6v1.6h-5.6zM273.0 188.8h5.6v1.6h-5.6zM251.0 185.6h5.6v1.6h-5.6zM243.8 186.7h5.6v1.6h-5.6zM253.4 187.0h5.6v1.6h-5.6zM247.7 162.5h5.6v1.6h-5.6zM258.9 160.0h5.6v1.6h-5.6zM228.9 188.8h5.6v1.6h-5.6zM260.3 154.6h5.6v1.6h-5.6zM250.4 188.4h5.6v1.6h-5.6zM266.0 188.2h5.6v1.6h-5.6zM258.1 168.4h5.6v1.6h-5.6zM258.5 173.4h5.6v1.6h-5.6zM256.0 181.7h5.6v1.6h-5.6zM259.7 161.9h5.6v1.6h-5.6zM256.2 179.7h5.6v1.6h-5.6zM249.4 176.1h5.6v1.6h-5.6zM259.7 166.8h5.6v1.6h-5.6zM249.8 178.2h5.6v1.6h-5.6zM252.6 186.3h5.6v1.6h-5.6zM251.8 187.4h5.6v1.6h-5.6zM259.4 156.4h5.6v1.6h-5.6zM250.4 182.5h5.6v1.6h-5.6zM249.6 177.2h5.6v1.6h-5.6zM250.7 182.8h5.6v1.6h-5.6zM267.2 188.4h5.6v1.6h-5.6zM236.5 188.4h5.6v1.6h-5.6zM254.3 187.4h5.6v1.6h-5.6zM254.0 188.4h5.6v1.6h-5.6zM258.7 170.2h5.6v1.6h-5.6zM254.6 186.7h5.6v1.6h-5.6zM247.4 170.7h5.6v1.6h-5.6zM273.6 182.6h5.6v1.6h-5.6zM251.6 188.5h5.6v1.6h-5.6zM248.6 169.8h5.6v1.6h-5.6zM224.7 188.2h5.6v1.6h-5.6zM259.2 173.6h5.6v1.6h-5.6zM260.3 167.2h5.6v1.6h-5.6zM251.6 187.4h5.6v1.6h-5.6zM247.6 169.7h5.6v1.6h-5.6zM244.8 186.4h5.6v1.6h-5.6zM238.8 186.2h5.6v1.6h-5.6zM266.6 181.0h5.6v1.6h-5.6zM255.3 183.9h5.6v1.6h-5.6zM233.4 187.3h5.6v1.6h-5.6zM256.9 187.2h5.6v1.6h-5.6zM246.4 188.7h5.6v1.6h-5.6zM273.4 188.4h5.6v1.6h-5.6zM252.0 187.3h5.6v1.6h-5.6zM260.1 152.1h5.6v1.6h-5.6zM259.2 165.0h5.6v1.6h-5.6zM259.4 188.8h5.6v1.6h-5.6zM244.7 186.0h5.6v1.6h-5.6zM253.9 188.5h5.6v1.6h-5.6zM232.6 187.9h5.6v1.6h-5.6zM236.9 188.6h5.6v1.6h-5.6zM250.8 186.0h5.6v1.6h-5.6zM248.9 174.7h5.6v1.6h-5.6zM263.4 188.5h5.6v1.6h-5.6z" fill="#e04848" opacity="0.17" filter="url(#vb)"/>
<path d="M248.0 172.8h5.6v1.6h-5.6zM266.1 188.7h5.6v1.6h-5.6zM249.0 177.3h5.6v1.6h-5.6zM248.3 180.5h5.6v1.6h-5.6zM253.9 188.3h5.6v1.6h-5.6zM257.0 177.3h5.6v1.6h-5.6zM254.9 187.9h5.6v1.6h-5.6zM227.3 186.0h5.6v1.6h-5.6zM241.0 187.4h5.6v1.6h-5.6zM266.6 188.6h5.6v1.6h-5.6zM249.0 184.2h5.6v1.6h-5.6zM251.8 187.1h5.6v1.6h-5.6zM259.8 171.1h5.6v1.6h-5.6zM218.7 188.1h5.6v1.6h-5.6zM257.7 170.1h5.6v1.6h-5.6zM252.7 188.6h5.6v1.6h-5.6zM249.4 181.9h5.6v1.6h-5.6zM257.1 183.8h5.6v1.6h-5.6zM250.6 182.2h5.6v1.6h-5.6zM251.7 186.9h5.6v1.6h-5.6zM243.2 187.9h5.6v1.6h-5.6zM256.0 184.9h5.6v1.6h-5.6zM256.3 188.0h5.6v1.6h-5.6zM263.3 188.5h5.6v1.6h-5.6zM258.6 171.3h5.6v1.6h-5.6zM250.5 187.3h5.6v1.6h-5.6zM234.8 188.1h5.6v1.6h-5.6zM247.9 172.0h5.6v1.6h-5.6zM251.1 184.3h5.6v1.6h-5.6zM260.9 188.2h5.6v1.6h-5.6zM248.3 169.8h5.6v1.6h-5.6zM253.4 187.2h5.6v1.6h-5.6zM250.0 178.9h5.6v1.6h-5.6zM248.1 167.7h5.6v1.6h-5.6zM255.0 186.5h5.6v1.6h-5.6zM259.5 161.2h5.6v1.6h-5.6zM256.4 181.4h5.6v1.6h-5.6zM248.7 174.8h5.6v1.6h-5.6zM249.2 188.2h5.6v1.6h-5.6zM247.7 178.1h5.6v1.6h-5.6zM257.5 174.4h5.6v1.6h-5.6zM255.1 185.0h5.6v1.6h-5.6zM252.0 187.7h5.6v1.6h-5.6zM274.9 188.8h5.6v1.6h-5.6zM247.8 162.2h5.6v1.6h-5.6zM259.2 171.7h5.6v1.6h-5.6zM220.3 188.6h5.6v1.6h-5.6zM249.7 187.8h5.6v1.6h-5.6zM246.8 188.8h5.6v1.6h-5.6zM254.8 186.1h5.6v1.6h-5.6zM241.2 188.1h5.6v1.6h-5.6zM243.3 188.5h5.6v1.6h-5.6zM246.5 162.9h5.6v1.6h-5.6zM256.6 177.3h5.6v1.6h-5.6zM245.0 188.1h5.6v1.6h-5.6zM252.4 188.4h5.6v1.6h-5.6zM250.4 180.5h5.6v1.6h-5.6zM247.7 181.4h5.6v1.6h-5.6zM258.7 172.7h5.6v1.6h-5.6zM251.2 185.2h5.6v1.6h-5.6zM210.6 188.4h5.6v1.6h-5.6zM251.3 188.3h5.6v1.6h-5.6zM251.6 187.1h5.6v1.6h-5.6zM246.4 169.2h5.6v1.6h-5.6zM257.5 187.0h5.6v1.6h-5.6zM264.3 188.1h5.6v1.6h-5.6zM238.8 186.9h5.6v1.6h-5.6zM255.6 186.0h5.6v1.6h-5.6zM259.0 188.4h5.6v1.6h-5.6zM256.1 181.0h5.6v1.6h-5.6zM260.1 181.1h5.6v1.6h-5.6zM229.7 185.2h5.6v1.6h-5.6zM259.8 153.6h5.6v1.6h-5.6zM248.5 173.9h5.6v1.6h-5.6zM256.8 188.7h5.6v1.6h-5.6zM247.8 162.5h5.6v1.6h-5.6zM251.7 187.7h5.6v1.6h-5.6zM257.5 177.4h5.6v1.6h-5.6zM257.2 176.0h5.6v1.6h-5.6zM251.8 187.8h5.6v1.6h-5.6zM277.7 186.6h5.6v1.6h-5.6zM257.1 175.0h5.6v1.6h-5.6zM247.2 160.4h5.6v1.6h-5.6zM241.9 185.7h5.6v1.6h-5.6zM276.0 189.0h5.6v1.6h-5.6zM254.0 188.6h5.6v1.6h-5.6zM251.8 188.3h5.6v1.6h-5.6zM255.7 182.2h5.6v1.6h-5.6zM252.3 188.1h5.6v1.6h-5.6zM258.4 166.4h5.6v1.6h-5.6zM248.5 182.6h5.6v1.6h-5.6zM250.6 184.7h5.6v1.6h-5.6zM256.9 188.5h5.6v1.6h-5.6zM242.2 186.8h5.6v1.6h-5.6z" fill="#e04848" opacity="0.17" filter="url(#vb)"/>
<path d="M250.5 187.1h5.6v1.6h-5.6zM261.0 187.9h5.6v1.6h-5.6zM259.5 156.7h5.6v1.6h-5.6zM259.2 183.8h5.6v1.6h-5.6zM250.7 184.2h5.6v1.6h-5.6zM256.7 188.8h5.6v1.6h-5.6zM258.3 165.8h5.6v1.6h-5.6zM259.1 162.3h5.6v1.6h-5.6zM262.6 187.9h5.6v1.6h-5.6zM260.3 156.7h5.6v1.6h-5.6zM256.3 183.1h5.6v1.6h-5.6zM254.2 187.8h5.6v1.6h-5.6zM254.9 186.2h5.6v1.6h-5.6zM257.8 176.3h5.6v1.6h-5.6zM247.8 178.8h5.6v1.6h-5.6zM256.4 178.7h5.6v1.6h-5.6zM273.2 186.7h5.6v1.6h-5.6zM246.5 151.3h5.6v1.6h-5.6zM252.3 188.3h5.6v1.6h-5.6zM255.6 184.7h5.6v1.6h-5.6zM237.7 188.7h5.6v1.6h-5.6zM247.1 177.3h5.6v1.6h-5.6zM247.8 169.5h5.6v1.6h-5.6zM252.5 188.3h5.6v1.6h-5.6zM258.3 187.4h5.6v1.6h-5.6zM254.8 186.1h5.6v1.6h-5.6zM248.9 187.8h5.6v1.6h-5.6zM249.4 185.6h5.6v1.6h-5.6zM245.5 188.2h5.6v1.6h-5.6zM257.6 172.0h5.6v1.6h-5.6zM254.0 188.8h5.6v1.6h-5.6zM247.2 158.9h5.6v1.6h-5.6zM258.2 180.7h5.6v1.6h-5.6zM248.1 178.7h5.6v1.6h-5.6zM255.3 187.8h5.6v1.6h-5.6zM251.0 185.2h5.6v1.6h-5.6zM233.8 187.3h5.6v1.6h-5.6zM257.0 175.7h5.6v1.6h-5.6zM259.2 160.1h5.6v1.6h-5.6zM250.1 188.4h5.6v1.6h-5.6zM249.6 183.7h5.6v1.6h-5.6zM260.0 188.5h5.6v1.6h-5.6zM253.8 188.6h5.6v1.6h-5.6zM250.4 187.6h5.6v1.6h-5.6zM263.1 187.4h5.6v1.6h-5.6zM248.1 172.4h5.6v1.6h-5.6zM245.6 187.6h5.6v1.6h-5.6zM256.3 184.4h5.6v1.6h-5.6zM247.7 163.0h5.6v1.6h-5.6zM238.7 188.6h5.6v1.6h-5.6zM260.2 188.4h5.6v1.6h-5.6zM270.6 183.9h5.6v1.6h-5.6zM273.5 187.6h5.6v1.6h-5.6zM253.2 187.7h5.6v1.6h-5.6zM248.5 180.1h5.6v1.6h-5.6zM260.0 188.5h5.6v1.6h-5.6zM251.6 186.2h5.6v1.6h-5.6zM257.8 178.8h5.6v1.6h-5.6zM243.1 188.2h5.6v1.6h-5.6zM238.6 187.4h5.6v1.6h-5.6zM242.2 187.3h5.6v1.6h-5.6zM256.6 182.3h5.6v1.6h-5.6zM258.3 174.4h5.6v1.6h-5.6zM256.5 177.5h5.6v1.6h-5.6zM252.0 187.2h5.6v1.6h-5.6zM260.9 178.3h5.6v1.6h-5.6zM251.8 186.6h5.6v1.6h-5.6zM251.2 185.9h5.6v1.6h-5.6zM227.0 188.0h5.6v1.6h-5.6zM256.9 177.0h5.6v1.6h-5.6zM247.7 164.7h5.6v1.6h-5.6zM249.3 188.6h5.6v1.6h-5.6zM250.7 186.3h5.6v1.6h-5.6zM255.5 186.3h5.6v1.6h-5.6zM247.0 164.4h5.6v1.6h-5.6zM259.9 187.8h5.6v1.6h-5.6zM246.3 160.9h5.6v1.6h-5.6zM254.7 188.9h5.6v1.6h-5.6zM255.2 188.8h5.6v1.6h-5.6zM254.3 188.0h5.6v1.6h-5.6zM250.9 188.4h5.6v1.6h-5.6zM248.5 174.1h5.6v1.6h-5.6zM255.0 186.3h5.6v1.6h-5.6zM250.4 180.5h5.6v1.6h-5.6zM258.5 179.5h5.6v1.6h-5.6zM238.5 185.1h5.6v1.6h-5.6zM260.1 160.4h5.6v1.6h-5.6zM252.1 187.5h5.6v1.6h-5.6zM257.3 175.6h5.6v1.6h-5.6zM248.3 169.1h5.6v1.6h-5.6zM266.0 189.0h5.6v1.6h-5.6zM249.3 174.7h5.6v1.6h-5.6zM256.4 188.6h5.6v1.6h-5.6z" fill="#e04848" opacity="0.17" filter="url(#vb)"/>
<path d="M242.1 188.9h5.6v1.6h-5.6zM258.4 187.9h5.6v1.6h-5.6zM259.0 173.0h5.6v1.6h-5.6zM257.6 175.6h5.6v1.6h-5.6zM259.8 152.0h5.6v1.6h-5.6zM258.7 162.2h5.6v1.6h-5.6zM250.4 183.0h5.6v1.6h-5.6zM247.7 164.8h5.6v1.6h-5.6zM248.0 169.5h5.6v1.6h-5.6zM267.9 186.7h5.6v1.6h-5.6zM254.9 185.6h5.6v1.6h-5.6zM248.5 178.1h5.6v1.6h-5.6zM250.1 179.2h5.6v1.6h-5.6zM248.6 188.8h5.6v1.6h-5.6zM246.9 159.0h5.6v1.6h-5.6zM273.0 187.9h5.6v1.6h-5.6zM256.4 180.7h5.6v1.6h-5.6zM275.0 185.8h5.6v1.6h-5.6zM250.4 183.8h5.6v1.6h-5.6zM255.7 186.3h5.6v1.6h-5.6zM258.5 168.1h5.6v1.6h-5.6zM242.5 183.2h5.6v1.6h-5.6zM252.5 188.1h5.6v1.6h-5.6zM248.3 171.5h5.6v1.6h-5.6zM248.2 187.8h5.6v1.6h-5.6zM249.1 186.2h5.6v1.6h-5.6zM251.1 188.6h5.6v1.6h-5.6zM254.9 188.7h5.6v1.6h-5.6zM251.5 185.6h5.6v1.6h-5.6zM252.7 188.7h5.6v1.6h-5.6zM244.6 187.8h5.6v1.6h-5.6zM239.3 185.1h5.6v1.6h-5.6zM252.4 188.6h5.6v1.6h-5.6zM249.5 179.7h5.6v1.6h-5.6zM247.3 181.6h5.6v1.6h-5.6zM264.2 188.5h5.6v1.6h-5.6zM263.6 187.3h5.6v1.6h-5.6zM256.3 187.2h5.6v1.6h-5.6zM252.1 186.7h5.6v1.6h-5.6zM251.9 188.3h5.6v1.6h-5.6zM263.3 187.2h5.6v1.6h-5.6zM257.2 188.1h5.6v1.6h-5.6zM248.9 186.8h5.6v1.6h-5.6zM255.2 185.3h5.6v1.6h-5.6zM271.4 188.1h5.6v1.6h-5.6zM266.7 187.6h5.6v1.6h-5.6zM251.8 186.5h5.6v1.6h-5.6zM252.7 188.7h5.6v1.6h-5.6zM262.5 185.9h5.6v1.6h-5.6zM255.1 185.4h5.6v1.6h-5.6zM243.9 187.9h5.6v1.6h-5.6zM245.8 188.1h5.6v1.6h-5.6zM250.7 183.3h5.6v1.6h-5.6zM259.3 167.2h5.6v1.6h-5.6zM244.9 188.8h5.6v1.6h-5.6zM248.7 186.1h5.6v1.6h-5.6zM259.3 187.1h5.6v1.6h-5.6zM252.5 187.7h5.6v1.6h-5.6zM253.8 187.5h5.6v1.6h-5.6zM220.1 189.0h5.6v1.6h-5.6zM260.3 186.9h5.6v1.6h-5.6zM242.4 188.3h5.6v1.6h-5.6zM240.3 188.2h5.6v1.6h-5.6zM257.8 169.0h5.6v1.6h-5.6zM253.0 184.8h5.6v1.6h-5.6zM250.2 179.2h5.6v1.6h-5.6zM242.9 187.5h5.6v1.6h-5.6zM250.3 183.9h5.6v1.6h-5.6zM250.6 182.1h5.6v1.6h-5.6zM265.1 188.9h5.6v1.6h-5.6zM240.8 188.9h5.6v1.6h-5.6zM265.7 183.5h5.6v1.6h-5.6zM257.0 184.9h5.6v1.6h-5.6zM254.1 188.1h5.6v1.6h-5.6zM258.8 164.3h5.6v1.6h-5.6zM259.9 180.8h5.6v1.6h-5.6zM266.7 188.7h5.6v1.6h-5.6zM219.9 188.3h5.6v1.6h-5.6zM246.4 166.5h5.6v1.6h-5.6z" fill="#e04848" opacity="0.17" filter="url(#vb)"/>
<path d="M254.0 187.9h5.6v1.6h-5.6zM249.1 174.1h5.6v1.6h-5.6zM251.6 187.9h5.6v1.6h-5.6zM258.5 188.5h5.6v1.6h-5.6zM247.2 179.3h5.6v1.6h-5.6zM241.1 186.5h5.6v1.6h-5.6zM252.3 188.2h5.6v1.6h-5.6zM271.5 187.9h5.6v1.6h-5.6zM248.7 175.9h5.6v1.6h-5.6zM249.5 188.4h5.6v1.6h-5.6zM251.5 187.9h5.6v1.6h-5.6zM248.1 181.8h5.6v1.6h-5.6zM242.8 188.3h5.6v1.6h-5.6zM248.6 170.7h5.6v1.6h-5.6zM254.4 187.3h5.6v1.6h-5.6zM247.9 188.2h5.6v1.6h-5.6zM249.6 188.7h5.6v1.6h-5.6zM250.3 182.5h5.6v1.6h-5.6zM253.4 188.1h5.6v1.6h-5.6zM237.4 186.4h5.6v1.6h-5.6zM256.1 184.4h5.6v1.6h-5.6zM250.2 180.1h5.6v1.6h-5.6zM256.8 180.9h5.6v1.6h-5.6zM248.0 188.1h5.6v1.6h-5.6zM256.7 177.5h5.6v1.6h-5.6zM253.2 187.6h5.6v1.6h-5.6zM256.0 188.9h5.6v1.6h-5.6zM257.9 188.7h5.6v1.6h-5.6zM247.9 176.2h5.6v1.6h-5.6zM266.9 187.5h5.6v1.6h-5.6zM248.9 177.6h5.6v1.6h-5.6zM276.7 189.0h5.6v1.6h-5.6zM269.8 189.0h5.6v1.6h-5.6zM258.9 161.0h5.6v1.6h-5.6zM238.9 187.2h5.6v1.6h-5.6zM256.3 187.3h5.6v1.6h-5.6zM270.0 188.3h5.6v1.6h-5.6zM249.6 188.5h5.6v1.6h-5.6zM247.6 164.1h5.6v1.6h-5.6zM257.6 181.6h5.6v1.6h-5.6zM250.9 186.0h5.6v1.6h-5.6zM240.2 188.7h5.6v1.6h-5.6zM257.1 181.2h5.6v1.6h-5.6zM250.1 181.8h5.6v1.6h-5.6zM281.3 188.8h5.6v1.6h-5.6zM243.0 187.6h5.6v1.6h-5.6zM251.9 187.6h5.6v1.6h-5.6zM248.0 188.0h5.6v1.6h-5.6zM215.2 188.5h5.6v1.6h-5.6zM248.2 178.6h5.6v1.6h-5.6zM259.7 163.6h5.6v1.6h-5.6zM258.4 173.9h5.6v1.6h-5.6zM255.7 184.0h5.6v1.6h-5.6zM260.2 188.4h5.6v1.6h-5.6zM279.9 187.4h5.6v1.6h-5.6zM260.8 185.1h5.6v1.6h-5.6zM281.9 188.3h5.6v1.6h-5.6zM232.2 187.4h5.6v1.6h-5.6zM281.2 186.9h5.6v1.6h-5.6zM274.4 188.7h5.6v1.6h-5.6zM255.5 183.0h5.6v1.6h-5.6zM275.3 186.8h5.6v1.6h-5.6zM249.2 175.8h5.6v1.6h-5.6zM255.7 185.3h5.6v1.6h-5.6zM253.4 187.9h5.6v1.6h-5.6zM253.9 188.2h5.6v1.6h-5.6zM247.3 160.4h5.6v1.6h-5.6zM250.4 182.9h5.6v1.6h-5.6zM274.2 188.0h5.6v1.6h-5.6zM260.3 165.2h5.6v1.6h-5.6zM243.1 187.7h5.6v1.6h-5.6zM242.6 188.7h5.6v1.6h-5.6zM246.2 160.2h5.6v1.6h-5.6zM252.4 185.8h5.6v1.6h-5.6zM252.0 187.1h5.6v1.6h-5.6zM246.9 166.6h5.6v1.6h-5.6zM251.6 185.9h5.6v1.6h-5.6zM257.6 172.5h5.6v1.6h-5.6zM254.4 188.1h5.6v1.6h-5.6zM267.3 188.6h5.6v1.6h-5.6zM247.4 173.7h5.6v1.6h-5.6zM253.0 186.9h5.6v1.6h-5.6zM265.8 187.7h5.6v1.6h-5.6zM252.5 188.6h5.6v1.6h-5.6zM244.9 186.6h5.6v1.6h-5.6zM248.5 174.1h5.6v1.6h-5.6zM254.3 187.6h5.6v1.6h-5.6zM250.9 185.3h5.6v1.6h-5.6zM270.8 185.2h5.6v1.6h-5.6zM247.5 162.0h5.6v1.6h-5.6zM246.1 154.3h5.6v1.6h-5.6zM238.8 188.9h5.6v1.6h-5.6z" fill="#e04848" opacity="0.17" filter="url(#vb)"/>
<path d="M266.1 188.9h5.6v1.6h-5.6zM264.5 188.4h5.6v1.6h-5.6zM241.9 187.6h5.6v1.6h-5.6zM235.1 188.7h5.6v1.6h-5.6zM258.5 166.5h5.6v1.6h-5.6zM255.0 186.4h5.6v1.6h-5.6zM254.2 188.9h5.6v1.6h-5.6zM259.0 162.5h5.6v1.6h-5.6zM255.6 183.6h5.6v1.6h-5.6zM242.5 183.7h5.6v1.6h-5.6zM250.9 183.1h5.6v1.6h-5.6zM236.1 185.9h5.6v1.6h-5.6zM237.5 188.8h5.6v1.6h-5.6zM253.8 188.7h5.6v1.6h-5.6zM246.1 157.8h5.6v1.6h-5.6zM250.8 183.2h5.6v1.6h-5.6zM257.8 179.7h5.6v1.6h-5.6zM245.7 186.6h5.6v1.6h-5.6zM249.5 188.8h5.6v1.6h-5.6zM258.2 182.0h5.6v1.6h-5.6zM262.6 188.0h5.6v1.6h-5.6zM255.1 186.4h5.6v1.6h-5.6zM267.6 188.9h5.6v1.6h-5.6zM250.4 182.3h5.6v1.6h-5.6zM254.0 188.2h5.6v1.6h-5.6zM249.2 175.1h5.6v1.6h-5.6zM254.7 188.0h5.6v1.6h-5.6zM244.1 187.6h5.6v1.6h-5.6zM250.9 188.7h5.6v1.6h-5.6zM251.9 188.5h5.6v1.6h-5.6zM212.8 187.4h5.6v1.6h-5.6zM241.5 187.9h5.6v1.6h-5.6zM249.7 177.5h5.6v1.6h-5.6zM254.2 188.6h5.6v1.6h-5.6zM245.1 188.6h5.6v1.6h-5.6zM248.3 188.1h5.6v1.6h-5.6zM252.5 188.8h5.6v1.6h-5.6zM258.5 169.8h5.6v1.6h-5.6zM247.4 170.2h5.6v1.6h-5.6zM259.1 180.2h5.6v1.6h-5.6zM258.5 170.8h5.6v1.6h-5.6zM255.3 184.6h5.6v1.6h-5.6zM258.4 170.8h5.6v1.6h-5.6zM256.2 188.8h5.6v1.6h-5.6zM259.3 163.7h5.6v1.6h-5.6zM248.4 185.2h5.6v1.6h-5.6zM239.8 187.4h5.6v1.6h-5.6zM252.5 188.5h5.6v1.6h-5.6zM250.2 188.9h5.6v1.6h-5.6zM250.6 183.2h5.6v1.6h-5.6zM247.0 160.9h5.6v1.6h-5.6zM259.5 157.3h5.6v1.6h-5.6zM259.0 175.4h5.6v1.6h-5.6zM255.0 186.9h5.6v1.6h-5.6zM246.8 157.7h5.6v1.6h-5.6zM248.1 188.9h5.6v1.6h-5.6zM253.9 188.6h5.6v1.6h-5.6zM240.7 188.1h5.6v1.6h-5.6zM249.2 179.3h5.6v1.6h-5.6zM249.4 177.3h5.6v1.6h-5.6zM258.1 168.6h5.6v1.6h-5.6zM255.8 184.9h5.6v1.6h-5.6zM254.4 187.8h5.6v1.6h-5.6zM252.8 188.1h5.6v1.6h-5.6zM242.9 188.6h5.6v1.6h-5.6zM253.0 187.9h5.6v1.6h-5.6zM254.5 187.0h5.6v1.6h-5.6zM246.4 152.3h5.6v1.6h-5.6zM260.1 155.7h5.6v1.6h-5.6zM258.1 174.3h5.6v1.6h-5.6zM247.4 175.3h5.6v1.6h-5.6zM257.9 173.0h5.6v1.6h-5.6zM248.1 169.0h5.6v1.6h-5.6zM237.8 188.0h5.6v1.6h-5.6zM242.6 188.3h5.6v1.6h-5.6zM247.5 166.9h5.6v1.6h-5.6zM259.1 169.5h5.6v1.6h-5.6zM246.9 155.1h5.6v1.6h-5.6zM250.3 184.4h5.6v1.6h-5.6zM267.6 188.6h5.6v1.6h-5.6zM246.2 188.3h5.6v1.6h-5.6zM253.9 188.5h5.6v1.6h-5.6zM257.4 185.1h5.6v1.6h-5.6zM260.1 149.5h5.6v1.6h-5.6zM257.5 179.2h5.6v1.6h-5.6zM246.7 169.1h5.6v1.6h-5.6zM239.4 187.0h5.6v1.6h-5.6zM251.9 186.6h5.6v1.6h-5.6zM251.4 185.2h5.6v1.6h-5.6zM255.4 183.9h5.6v1.6h-5.6zM258.6 173.2h5.6v1.6h-5.6zM255.2 184.4h5.6v1.6h-5.6zM249.0 179.9h5.6v1.6h-5.6zM257.1 188.9h5.6v1.6h-5.6zM250.7 188.0h5.6v1.6h-5.6z" fill="#e04848" opacity="0.17" filter="url(#vb)"/>
<ellipse cx="256.0" cy="189.0" rx="5" ry="1.4" fill="#600808" opacity="0.7" filter="url(#vb2)"/>
</g>
<line x1="249.40" y1="65.50" x2="249.40" y2="194.20" stroke="#333" stroke-width="0.7"/>
<line x1="262.60" y1="65.50" x2="262.60" y2="194.20" stroke="#333" stroke-width="0.7"/>
<line x1="183.60" y1="189.30" x2="328.30" y2="189.30" stroke="#333" stroke-width="0.7"/>
<rect x="183.60" y="65.50" width="144.70" height="128.70" fill="none" stroke="#555" stroke-width="0.6"/>
<line x1="180.10" y1="189.80" x2="183.60" y2="189.80" stroke="#555" stroke-width="0.5"/>
<text x="177.30" y="189.80" font-size="3.4" text-anchor="middle" fill="#333" transform="rotate(-90 177.30 189.80)">0</text>
<line x1="180.10" y1="168.40" x2="183.60" y2="168.40" stroke="#555" stroke-width="0.5"/>
<text x="177.30" y="168.40" font-size="3.4" text-anchor="middle" fill="#333" transform="rotate(-90 177.30 168.40)">50</text>
<line x1="180.10" y1="147.00" x2="183.60" y2="147.00" stroke="#555" stroke-width="0.5"/>
<text x="177.30" y="147.00" font-size="3.4" text-anchor="middle" fill="#333" transform="rotate(-90 177.30 147.00)">100</text>
<line x1="180.10" y1="125.00" x2="183.60" y2="125.00" stroke="#555" stroke-width="0.5"/>
<text x="177.30" y="125.00" font-size="3.4" text-anchor="middle" fill="#333" transform="rotate(-90 177.30 125.00)">150</text>
<line x1="180.10" y1="104.00" x2="183.60" y2="104.00" stroke="#555" stroke-width="0.5"/>
<text x="177.30" y="104.00" font-size="3.4" text-anchor="middle" fill="#333" transform="rotate(-90 177.30 104.00)">200</text>
<line x1="180.10" y1="82.30" x2="183.60" y2="82.30" stroke="#555" stroke-width="0.5"/>
<text x="177.30" y="82.30" font-size="3.4" text-anchor="middle" fill="#333" transform="rotate(-90 177.30 82.30)">250</text>
<line x1="214.00" y1="194.20" x2="214.00" y2="196.20" stroke="#555" stroke-width="0.5"/>
<text x="214.00" y="203.70" font-size="3.5" text-anchor="middle" fill="#333">−5</text>
<line x1="256.00" y1="194.20" x2="256.00" y2="196.20" stroke="#555" stroke-width="0.5"/>
<text x="256.00" y="203.70" font-size="3.5" text-anchor="middle" fill="#333">0</text>
<line x1="298.00" y1="194.20" x2="298.00" y2="196.20" stroke="#555" stroke-width="0.5"/>
<text x="298.00" y="203.70" font-size="3.5" text-anchor="middle" fill="#333">5</text>
<text x="236.30" y="134.80" font-size="4" fill="#111">CYR61</text>
<circle cx="240.50" cy="136.50" r="0.70" fill="#33bb33"/>
<text x="227.00" y="140.00" font-size="4" fill="#111">CTGF</text>
<circle cx="240.50" cy="137.80" r="0.70" fill="#33bb33"/>
<text x="234.50" y="152.60" font-size="4" fill="#111">ANKRD1</text>
<circle cx="242.80" cy="154.80" r="0.70" fill="#33bb33"/>
<text x="220.90" y="158.40" font-size="4" fill="#111">SFTA1P</text>
<circle cx="228.00" cy="160.50" r="0.70" fill="#111"/>
<text x="5.00" y="132.00" font-size="4.4" text-anchor="middle" fill="#333" transform="rotate(-90 5.00 132.00)">−log10(adjusted p−value)</text>
<text x="92.50" y="213.00" font-size="3.6" text-anchor="middle" fill="#333">log2FC</text>
<text x="256.00" y="213.00" font-size="3.6" text-anchor="middle" fill="#333">log2FC</text>
<rect x="173.15" y="216.00" width="1.70" height="6.50" fill="#000"/><polygon points="170.75,222.00 177.25,222.00 174.00,228.50" fill="#000"/>
<defs><linearGradient id="ckey" x1="0" x2="1" y1="0" y2="0"><stop offset="0" stop-color="#2a4fad"/><stop offset="0.5" stop-color="#ffffff"/><stop offset="1" stop-color="#e8541c"/></linearGradient></defs>
<text x="126.00" y="233.60" font-size="6.8" text-anchor="middle">Log2 (fold change)</text>
<rect x="94.70" y="238.50" width="57.10" height="8.50" fill="url(#ckey)"/>
<line x1="94.70" y1="246.50" x2="94.70" y2="249.50" stroke="#000" stroke-width="0.5"/>
<line x1="104.22" y1="246.50" x2="104.22" y2="248.50" stroke="#000" stroke-width="0.5"/>
<line x1="113.73" y1="246.50" x2="113.73" y2="248.50" stroke="#000" stroke-width="0.5"/>
<line x1="123.25" y1="246.50" x2="123.25" y2="249.50" stroke="#000" stroke-width="0.5"/>
<line x1="132.77" y1="246.50" x2="132.77" y2="248.50" stroke="#000" stroke-width="0.5"/>
<line x1="142.28" y1="246.50" x2="142.28" y2="248.50" stroke="#000" stroke-width="0.5"/>
<line x1="151.80" y1="246.50" x2="151.80" y2="249.50" stroke="#000" stroke-width="0.5"/>
<text x="96.00" y="258.50" font-size="6.8" text-anchor="middle">−3</text>
<text x="123.30" y="258.50" font-size="6.8" text-anchor="middle">0</text>
<text x="151.80" y="258.50" font-size="6.8" text-anchor="middle">3</text>
<clipPath id="hmc"><rect x="78" y="285" width="204.5" height="62"/></clipPath>
<filter id="hmb" x="-2%" y="-2%" width="104%" height="104%"><feGaussianBlur stdDeviation="0.45 0.2"/></filter>
<g clip-path="url(#hmc)"><g filter="url(#hmb)">
<rect x="78.00" y="285.00" width="2.15" height="31.00" fill="#b8c5e3"/>
<rect x="78.00" y="316.00" width="2.15" height="31.00" fill="#879ccf"/>
<rect x="80.00" y="285.00" width="1.65" height="31.00" fill="#d2dbee"/>
<rect x="80.00" y="316.00" width="1.65" height="31.00" fill="#8ea2d2"/>
<rect x="81.50" y="285.00" width="2.65" height="31.00" fill="#b8c4e3"/>
<rect x="81.50" y="316.00" width="2.65" height="31.00" fill="#91a4d3"/>
<rect x="84.00" y="285.00" width="3.65" height="31.00" fill="#c5d0e9"/>
<rect x="84.00" y="316.00" width="3.65" height="31.00" fill="#7a91c9"/>
<rect x="87.50" y="285.00" width="1.15" height="31.00" fill="#bac7e4"/>
<rect x="87.50" y="316.00" width="1.15" height="31.00" fill="#8b9fd0"/>
<rect x="88.50" y="285.00" width="1.15" height="31.00" fill="#b3c1e1"/>
<rect x="88.50" y="316.00" width="1.15" height="31.00" fill="#8096cc"/>
<rect x="89.50" y="285.00" width="3.15" height="31.00" fill="#bdc9e5"/>
<rect x="89.50" y="316.00" width="3.15" height="31.00" fill="#8a9fd0"/>
<rect x="92.50" y="285.00" width="1.15" height="31.00" fill="#bcc8e5"/>
<rect x="92.50" y="316.00" width="1.15" height="31.00" fill="#91a4d3"/>
<rect x="93.50" y="285.00" width="2.15" height="31.00" fill="#ccd5ec"/>
<rect x="93.50" y="316.00" width="2.15" height="31.00" fill="#8fa3d2"/>
<rect x="95.50" y="285.00" width="3.15" height="31.00" fill="#cdd7ec"/>
<rect x="95.50" y="316.00" width="3.15" height="31.00" fill="#7f95cc"/>
<rect x="98.50" y="285.00" width="1.15" height="31.00" fill="#b1bfe0"/>
<rect x="98.50" y="316.00" width="1.15" height="31.00" fill="#8ea1d2"/>
<rect x="99.50" y="285.00" width="3.15" height="31.00" fill="#aebddf"/>
<rect x="99.50" y="316.00" width="3.15" height="31.00" fill="#b8c5e4"/>
<rect x="102.50" y="285.00" width="1.65" height="31.00" fill="#c5cfe9"/>
<rect x="102.50" y="316.00" width="1.65" height="31.00" fill="#bdc9e6"/>
<rect x="104.00" y="285.00" width="1.15" height="31.00" fill="#b7c4e3"/>
<rect x="104.00" y="316.00" width="1.15" height="31.00" fill="#a9b8dd"/>
<rect x="105.00" y="285.00" width="1.15" height="31.00" fill="#bac6e4"/>
<rect x="105.00" y="316.00" width="1.15" height="31.00" fill="#c0cce7"/>
<rect x="106.00" y="285.00" width="2.65" height="31.00" fill="#acbbde"/>
<rect x="106.00" y="316.00" width="2.65" height="31.00" fill="#bbc7e5"/>
<rect x="108.50" y="285.00" width="2.65" height="31.00" fill="#b2c0e1"/>
<rect x="108.50" y="316.00" width="2.65" height="31.00" fill="#a8b7dd"/>
<rect x="111.00" y="285.00" width="1.15" height="31.00" fill="#b9c6e4"/>
<rect x="111.00" y="316.00" width="1.15" height="31.00" fill="#acbbde"/>
<rect x="112.00" y="285.00" width="1.65" height="31.00" fill="#c7d1ea"/>
<rect x="112.00" y="316.00" width="1.65" height="31.00" fill="#acbbde"/>
<rect x="113.50" y="285.00" width="1.15" height="31.00" fill="#c2cde8"/>
<rect x="113.50" y="316.00" width="1.15" height="31.00" fill="#d7dff0"/>
<rect x="114.50" y="285.00" width="3.15" height="31.00" fill="#bdc9e5"/>
<rect x="114.50" y="316.00" width="3.15" height="31.00" fill="#becae6"/>
<rect x="117.50" y="285.00" width="2.65" height="31.00" fill="#b7c4e3"/>
<rect x="117.50" y="316.00" width="2.65" height="31.00" fill="#adbbdf"/>
<rect x="120.00" y="285.00" width="1.15" height="31.00" fill="#acbbdf"/>
<rect x="120.00" y="316.00" width="1.15" height="31.00" fill="#a3b3da"/>
<rect x="121.00" y="285.00" width="3.15" height="31.00" fill="#9fb0d9"/>
<rect x="121.00" y="316.00" width="3.15" height="31.00" fill="#b0bee0"/>
<rect x="124.00" y="285.00" width="1.15" height="31.00" fill="#b2c0e1"/>
<rect x="124.00" y="316.00" width="1.15" height="31.00" fill="#a8b7dd"/>
<rect x="125.00" y="285.00" width="1.65" height="31.00" fill="#adbcdf"/>
<rect x="125.00" y="316.00" width="1.65" height="31.00" fill="#a5b5db"/>
<rect x="126.50" y="285.00" width="3.65" height="31.00" fill="#bfcbe6"/>
<rect x="126.50" y="316.00" width="3.65" height="31.00" fill="#b8c5e4"/>
<rect x="130.00" y="285.00" width="3.65" height="31.00" fill="#a4b4db"/>
<rect x="130.00" y="316.00" width="3.65" height="31.00" fill="#9fb0d9"/>
<rect x="133.50" y="285.00" width="3.15" height="31.00" fill="#a4b4db"/>
<rect x="133.50" y="316.00" width="3.15" height="31.00" fill="#b6c3e3"/>
<rect x="136.50" y="285.00" width="1.15" height="31.00" fill="#b6c3e3"/>
<rect x="136.50" y="316.00" width="1.15" height="31.00" fill="#becae6"/>
<rect x="137.50" y="285.00" width="3.15" height="31.00" fill="#9fb0d9"/>
<rect x="137.50" y="316.00" width="3.15" height="31.00" fill="#c7d1ea"/>
<rect x="140.50" y="285.00" width="3.15" height="31.00" fill="#bcc8e5"/>
<rect x="140.50" y="316.00" width="3.15" height="31.00" fill="#bfcae6"/>
<rect x="143.50" y="285.00" width="2.65" height="31.00" fill="#bfcbe6"/>
<rect x="143.50" y="316.00" width="2.65" height="31.00" fill="#a8b7dd"/>
<rect x="146.00" y="285.00" width="1.15" height="31.00" fill="#c1cde7"/>
<rect x="146.00" y="316.00" width="1.15" height="31.00" fill="#aebcdf"/>
<rect x="147.00" y="285.00" width="1.65" height="31.00" fill="#a7b6dc"/>
<rect x="147.00" y="316.00" width="1.65" height="31.00" fill="#8ca0d1"/>
<rect x="148.50" y="285.00" width="1.15" height="31.00" fill="#bac6e4"/>
<rect x="148.50" y="316.00" width="1.15" height="31.00" fill="#adbbdf"/>
<rect x="149.50" y="285.00" width="3.15" height="31.00" fill="#a3b4db"/>
<rect x="149.50" y="316.00" width="3.15" height="31.00" fill="#b2c0e1"/>
<rect x="152.50" y="285.00" width="1.65" height="31.00" fill="#8298cd"/>
<rect x="152.50" y="316.00" width="1.65" height="31.00" fill="#afbde0"/>
<rect x="154.00" y="285.00" width="2.15" height="31.00" fill="#637dc0"/>
<rect x="154.00" y="316.00" width="2.15" height="31.00" fill="#859bce"/>
<rect x="156.00" y="285.00" width="2.65" height="31.00" fill="#6c85c3"/>
<rect x="156.00" y="316.00" width="2.65" height="31.00" fill="#657fc1"/>
<rect x="158.50" y="285.00" width="1.65" height="31.00" fill="#8196cc"/>
<rect x="158.50" y="316.00" width="1.65" height="31.00" fill="#5c78bd"/>
<rect x="160.00" y="285.00" width="3.15" height="31.00" fill="#637ec0"/>
<rect x="160.00" y="316.00" width="3.15" height="31.00" fill="#6d86c4"/>
<rect x="163.00" y="285.00" width="1.15" height="31.00" fill="#7a91c9"/>
<rect x="163.00" y="316.00" width="1.15" height="31.00" fill="#6881c2"/>
<rect x="164.00" y="285.00" width="3.15" height="31.00" fill="#97a9d6"/>
<rect x="164.00" y="316.00" width="3.15" height="31.00" fill="#6680c1"/>
<rect x="167.00" y="285.00" width="2.15" height="31.00" fill="#7f95cb"/>
<rect x="167.00" y="316.00" width="2.15" height="31.00" fill="#6781c2"/>
<rect x="169.00" y="285.00" width="3.15" height="31.00" fill="#6681c1"/>
<rect x="169.00" y="316.00" width="3.15" height="31.00" fill="#5874bb"/>
<rect x="172.00" y="285.00" width="3.65" height="31.00" fill="#748cc7"/>
<rect x="172.00" y="316.00" width="3.65" height="31.00" fill="#778fc8"/>
<rect x="175.50" y="285.00" width="1.65" height="31.00" fill="#90a3d3"/>
<rect x="175.50" y="316.00" width="1.65" height="31.00" fill="#778fc8"/>
<rect x="177.00" y="285.00" width="1.15" height="31.00" fill="#8fa3d2"/>
<rect x="177.00" y="316.00" width="1.15" height="31.00" fill="#4a69b5"/>
<rect x="178.00" y="285.00" width="3.15" height="31.00" fill="#a4b4db"/>
<rect x="178.00" y="316.00" width="3.15" height="31.00" fill="#5a76bc"/>
<rect x="181.00" y="285.00" width="3.15" height="31.00" fill="#849ace"/>
<rect x="181.00" y="316.00" width="3.15" height="31.00" fill="#7f95cb"/>
<rect x="184.00" y="285.00" width="3.65" height="31.00" fill="#9badd7"/>
<rect x="184.00" y="316.00" width="3.65" height="31.00" fill="#8399cd"/>
<rect x="187.50" y="285.00" width="1.65" height="31.00" fill="#8096cc"/>
<rect x="187.50" y="316.00" width="1.65" height="31.00" fill="#879ccf"/>
<rect x="189.00" y="285.00" width="2.15" height="31.00" fill="#b1bfe0"/>
<rect x="189.00" y="316.00" width="2.15" height="31.00" fill="#98aad6"/>
<rect x="191.00" y="285.00" width="1.15" height="31.00" fill="#637ec0"/>
<rect x="191.00" y="316.00" width="1.15" height="31.00" fill="#8ea1d2"/>
<rect x="192.00" y="285.00" width="3.15" height="31.00" fill="#5774bb"/>
<rect x="192.00" y="316.00" width="3.15" height="31.00" fill="#99abd6"/>
<rect x="195.00" y="285.00" width="3.65" height="31.00" fill="#4e6cb7"/>
<rect x="195.00" y="316.00" width="3.65" height="31.00" fill="#4968b5"/>
<rect x="198.50" y="285.00" width="1.15" height="31.00" fill="#395bae"/>
<rect x="198.50" y="316.00" width="1.15" height="31.00" fill="#4f6db8"/>
<rect x="199.50" y="285.00" width="3.15" height="31.00" fill="#385aae"/>
<rect x="199.50" y="316.00" width="3.15" height="31.00" fill="#3053aa"/>
<rect x="202.50" y="285.00" width="1.15" height="31.00" fill="#4c6ab6"/>
<rect x="202.50" y="316.00" width="1.15" height="31.00" fill="#2a4ea8"/>
<rect x="203.50" y="285.00" width="3.15" height="31.00" fill="#3255ab"/>
<rect x="203.50" y="316.00" width="3.15" height="31.00" fill="#2a4ea8"/>
<rect x="206.50" y="285.00" width="1.65" height="31.00" fill="#395bae"/>
<rect x="206.50" y="316.00" width="1.65" height="31.00" fill="#5b77bc"/>
<rect x="208.00" y="285.00" width="0.65" height="31.00" fill="#3053aa"/>
<rect x="208.00" y="316.00" width="0.65" height="31.00" fill="#4162b2"/>
<rect x="208.50" y="285.00" width="3.65" height="31.00" fill="#e84a16"/>
<rect x="208.50" y="316.00" width="3.65" height="31.00" fill="#e84a16"/>
<rect x="212.00" y="285.00" width="3.15" height="31.00" fill="#eb6134"/>
<rect x="212.00" y="316.00" width="3.15" height="31.00" fill="#ef835e"/>
<rect x="215.00" y="285.00" width="2.65" height="31.00" fill="#ee7a53"/>
<rect x="215.00" y="316.00" width="2.65" height="31.00" fill="#f5ab91"/>
<rect x="217.50" y="285.00" width="2.15" height="31.00" fill="#f08865"/>
<rect x="217.50" y="316.00" width="2.15" height="31.00" fill="#f39d80"/>
<rect x="219.50" y="285.00" width="2.65" height="31.00" fill="#ef815c"/>
<rect x="219.50" y="316.00" width="2.65" height="31.00" fill="#f19272"/>
<rect x="222.00" y="285.00" width="3.15" height="31.00" fill="#f29a7c"/>
<rect x="222.00" y="316.00" width="3.15" height="31.00" fill="#f18e6c"/>
<rect x="225.00" y="285.00" width="2.65" height="31.00" fill="#ee7c55"/>
<rect x="225.00" y="316.00" width="2.65" height="31.00" fill="#f3a084"/>
<rect x="227.50" y="285.00" width="2.15" height="31.00" fill="#ed6f46"/>
<rect x="227.50" y="316.00" width="2.15" height="31.00" fill="#f39e81"/>
<rect x="229.50" y="285.00" width="2.15" height="31.00" fill="#f3a184"/>
<rect x="229.50" y="316.00" width="2.15" height="31.00" fill="#f18c6a"/>
<rect x="231.50" y="285.00" width="1.65" height="31.00" fill="#f1906f"/>
<rect x="231.50" y="316.00" width="1.65" height="31.00" fill="#f4a78c"/>
<rect x="233.00" y="285.00" width="1.65" height="31.00" fill="#f4a98e"/>
<rect x="233.00" y="316.00" width="1.65" height="31.00" fill="#f1906f"/>
<rect x="234.50" y="285.00" width="3.65" height="31.00" fill="#f08b69"/>
<rect x="234.50" y="316.00" width="3.65" height="31.00" fill="#ef805b"/>
<rect x="238.00" y="285.00" width="1.65" height="31.00" fill="#f5ac93"/>
<rect x="238.00" y="316.00" width="1.65" height="31.00" fill="#f29879"/>
<rect x="239.50" y="285.00" width="1.15" height="31.00" fill="#ee764e"/>
<rect x="239.50" y="316.00" width="1.15" height="31.00" fill="#f18d6c"/>
<rect x="240.50" y="285.00" width="3.15" height="31.00" fill="#f39c7e"/>
<rect x="240.50" y="316.00" width="3.15" height="31.00" fill="#f6b49d"/>
<rect x="243.50" y="285.00" width="2.15" height="31.00" fill="#f29a7c"/>
<rect x="243.50" y="316.00" width="2.15" height="31.00" fill="#f4aa90"/>
<rect x="245.50" y="285.00" width="3.15" height="31.00" fill="#ef7f59"/>
<rect x="245.50" y="316.00" width="3.15" height="31.00" fill="#ef815b"/>
<rect x="248.50" y="285.00" width="2.65" height="31.00" fill="#f19271"/>
<rect x="248.50" y="316.00" width="2.65" height="31.00" fill="#f7bfab"/>
<rect x="251.00" y="285.00" width="2.15" height="31.00" fill="#f9cebd"/>
<rect x="251.00" y="316.00" width="2.15" height="31.00" fill="#f7c0ac"/>
<rect x="253.00" y="285.00" width="3.65" height="31.00" fill="#f8c8b6"/>
<rect x="253.00" y="316.00" width="3.65" height="31.00" fill="#fad4c5"/>
<rect x="256.50" y="285.00" width="2.65" height="31.00" fill="#fbded2"/>
<rect x="256.50" y="316.00" width="2.65" height="31.00" fill="#f7c0ac"/>
<rect x="259.00" y="285.00" width="2.15" height="31.00" fill="#f5ad94"/>
<rect x="259.00" y="316.00" width="2.15" height="31.00" fill="#f6b59e"/>
<rect x="261.00" y="285.00" width="3.15" height="31.00" fill="#f39d7f"/>
<rect x="261.00" y="316.00" width="3.15" height="31.00" fill="#f8c2af"/>
<rect x="264.00" y="285.00" width="1.15" height="31.00" fill="#f7bba6"/>
<rect x="264.00" y="316.00" width="1.15" height="31.00" fill="#f9cebe"/>
<rect x="265.00" y="285.00" width="1.15" height="31.00" fill="#f7baa5"/>
<rect x="265.00" y="316.00" width="1.15" height="31.00" fill="#f9d0c0"/>
<rect x="266.00" y="285.00" width="3.15" height="31.00" fill="#f5b098"/>
<rect x="266.00" y="316.00" width="3.15" height="31.00" fill="#f8c8b6"/>
<rect x="269.00" y="285.00" width="2.65" height="31.00" fill="#f6b9a3"/>
<rect x="269.00" y="316.00" width="2.65" height="31.00" fill="#f9cab9"/>
<rect x="271.50" y="285.00" width="1.65" height="31.00" fill="#f6b7a1"/>
<rect x="271.50" y="316.00" width="1.65" height="31.00" fill="#f6b59e"/>
<rect x="273.00" y="285.00" width="2.15" height="31.00" fill="#f7bba6"/>
<rect x="273.00" y="316.00" width="2.15" height="31.00" fill="#fad6c8"/>
<rect x="275.00" y="285.00" width="1.65" height="31.00" fill="#fbdace"/>
<rect x="275.00" y="316.00" width="1.65" height="31.00" fill="#f9d0c1"/>
<rect x="276.50" y="285.00" width="2.65" height="31.00" fill="#f4a589"/>
<rect x="276.50" y="316.00" width="2.65" height="31.00" fill="#f7bea9"/>
<rect x="279.00" y="285.00" width="2.65" height="31.00" fill="#f5ab91"/>
<rect x="279.00" y="316.00" width="2.65" height="31.00" fill="#fad6c9"/>
<rect x="281.50" y="285.00" width="1.15" height="31.00" fill="#f6b7a0"/>
<rect x="281.50" y="316.00" width="1.15" height="31.00" fill="#fbdacd"/>
</g></g>
<rect x="78.00" y="348.30" width="130.50" height="1.10" fill="#7d9bd6"/>
<rect x="208.50" y="348.30" width="74.00" height="1.10" fill="#f2a07a"/>
<rect x="78.00" y="283.60" width="204.50" height="1.40" fill="#fff"/>
<path d="M78.3,284.0V284.0H78.9V284.0 M78.6,284.0V284.0H79.8V284.0 M81.6,284.0V284.0H82.4V284.0 M80.8,284.0V284.0H82.0V284.0 M79.2,284.0V282.4H81.4V284.0 M83.1,284.0V284.0H83.7V284.0 M83.4,284.0V284.0H84.4V284.0 M86.0,284.0V284.0H86.8V284.0 M85.2,284.0V283.4H86.4V284.0 M88.7,284.0V284.0H89.4V284.0 M87.8,284.0V284.0H89.0V284.0 M89.9,284.0V284.0H90.5V284.0 M90.2,284.0V284.0H91.4V284.0 M88.4,284.0V283.4H90.8V284.0 M85.8,283.4V282.8H89.6V283.4 M83.9,284.0V281.3H87.7V282.8 M80.3,282.4V280.7H85.8V281.3 M92.3,284.0V284.0H93.0V284.0 M94.5,284.0V284.0H95.1V284.0 M94.8,284.0V284.0H95.7V284.0 M93.7,284.0V283.8H95.3V284.0 M92.7,284.0V283.6H94.5V283.8 M97.2,284.0V284.0H97.9V284.0 M96.4,284.0V284.0H97.6V284.0 M93.6,283.6V283.3H97.0V284.0 M99.1,284.0V284.0H99.7V284.0 M98.5,284.0V284.0H99.4V284.0 M95.3,283.3V282.6H99.0V284.0 M100.5,284.0V284.0H101.1V284.0 M100.8,284.0V284.0H101.6V284.0 M103.4,284.0V284.0H104.1V284.0 M103.7,284.0V284.0H104.6V284.0 M102.4,284.0V283.6H104.2V284.0 M105.3,284.0V284.0H106.1V284.0 M103.3,283.6V283.3H105.7V284.0 M101.2,284.0V283.1H104.5V283.3 M97.1,282.6V282.1H102.8V283.1 M107.6,284.0V284.0H108.2V284.0 M106.8,284.0V284.0H107.9V284.0 M108.8,284.0V284.0H109.8V284.0 M107.3,284.0V282.4H109.3V284.0 M100.0,282.1V281.4H108.3V282.4 M83.0,280.7V280.0H104.2V281.4 M110.7,284.0V284.0H111.3V284.0 M111.0,284.0V284.0H112.1V284.0 M113.2,284.0V284.0H114.1V284.0 M114.9,284.0V284.0H115.5V284.0 M115.2,284.0V284.0H116.1V284.0 M113.7,284.0V283.5H115.6V284.0 M111.6,284.0V282.9H114.7V283.5 M116.9,284.0V284.0H117.5V284.0 M117.2,284.0V284.0H118.1V284.0 M113.1,282.9V282.5H117.7V284.0 M118.8,284.0V284.0H119.5V284.0 M119.1,284.0V284.0H120.3V284.0 M121.4,284.0V284.0H122.3V284.0 M119.7,284.0V283.2H121.9V284.0 M122.8,284.0V284.0H123.5V284.0 M124.2,284.0V284.0H125.1V284.0 M126.1,284.0V284.0H127.2V284.0 M124.7,284.0V283.6H126.6V284.0 M128.8,284.0V284.0H129.7V284.0 M128.2,284.0V284.0H129.3V284.0 M125.6,283.6V283.6H128.7V284.0 M123.2,284.0V283.4H127.2V283.6 M130.7,284.0V284.0H131.3V284.0 M131.9,284.0V284.0H132.6V284.0 M131.0,284.0V283.6H132.3V284.0 M125.2,283.4V283.2H131.6V283.6 M120.8,283.2V282.6H128.4V283.2 M115.4,282.5V281.5H124.6V282.6 M133.2,284.0V284.0H134.0V284.0 M134.8,284.0V284.0H135.4V284.0 M136.0,284.0V284.0H136.8V284.0 M135.1,284.0V283.7H136.4V284.0 M133.6,284.0V283.5H135.8V283.7 M137.7,284.0V284.0H138.5V284.0 M139.2,284.0V284.0H140.0V284.0 M138.1,284.0V283.5H139.6V284.0 M134.7,283.5V283.2H138.9V283.5 M141.2,284.0V284.0H142.2V284.0 M144.1,284.0V284.0H145.0V284.0 M143.1,284.0V283.9H144.6V284.0 M141.7,284.0V283.9H143.9V283.9 M145.9,284.0V284.0H146.7V284.0 M147.3,284.0V284.0H148.0V284.0 M146.3,284.0V283.9H147.6V284.0 M142.8,283.9V283.9H147.0V283.9 M148.9,284.0V284.0H149.8V284.0 M149.4,284.0V283.9H150.8V284.0 M151.9,284.0V284.0H152.6V284.0 M150.1,283.9V283.8H152.2V284.0 M144.9,283.9V283.7H151.1V283.8 M153.3,284.0V284.0H154.0V284.0 M153.6,284.0V284.0H154.7V284.0 M155.4,284.0V284.0H156.0V284.0 M154.1,284.0V283.5H155.7V284.0 M148.0,283.7V283.4H154.9V283.5 M136.8,283.2V282.8H151.5V283.4 M156.8,284.0V284.0H157.7V284.0 M159.0,284.0V284.0H159.7V284.0 M158.3,284.0V284.0H159.3V284.0 M158.8,284.0V283.8H160.4V284.0 M157.2,284.0V283.7H159.6V283.8 M161.1,284.0V284.0H162.0V284.0 M158.4,283.7V283.4H161.5V284.0 M163.7,284.0V284.0H164.5V284.0 M163.0,284.0V284.0H164.1V284.0 M160.0,283.4V283.1H163.5V284.0 M144.1,282.8V282.1H161.7V283.1 M120.0,281.5V280.5H152.9V282.1 M93.6,280.0V276.5H136.5V280.5 M166.2,284.0V284.0H166.9V284.0 M165.4,284.0V284.0H166.6V284.0 M168.5,284.0V284.0H169.1V284.0 M167.7,284.0V284.0H168.8V284.0 M169.7,284.0V284.0H170.3V284.0 M170.0,284.0V284.0H171.1V284.0 M168.2,284.0V283.3H170.5V284.0 M172.0,284.0V284.0H172.8V284.0 M169.4,283.3V283.1H172.4V284.0 M166.0,284.0V282.4H170.9V283.1 M173.5,284.0V284.0H174.2V284.0 M175.0,284.0V284.0H175.6V284.0 M176.4,284.0V284.0H177.4V284.0 M175.3,284.0V282.6H176.9V284.0 M173.9,284.0V282.3H176.1V282.6 M168.4,282.4V281.3H175.0V282.3 M178.2,284.0V284.0H179.0V284.0 M180.1,284.0V284.0H181.1V284.0 M178.6,284.0V279.7H180.6V284.0 M171.7,281.3V278.7H179.6V279.7 M181.8,284.0V284.0H182.6V284.0 M182.2,284.0V280.7H183.6V284.0 M185.6,284.0V284.0H186.3V284.0 M187.0,284.0V284.0H187.7V284.0 M185.9,284.0V282.9H187.4V284.0 M184.7,284.0V281.8H186.6V282.9 M188.9,284.0V284.0H189.6V284.0 M188.4,284.0V284.0H189.3V284.0 M185.7,281.8V280.7H188.8V284.0 M182.9,280.7V278.6H187.2V280.7 M175.7,278.7V277.5H185.1V278.6 M115.0,276.5V273.0H180.4V277.5 M190.3,284.0V284.0H191.1V284.0 M190.7,284.0V284.0H191.8V284.0 M192.5,284.0V284.0H193.2V284.0 M194.1,284.0V284.0H194.9V284.0 M194.5,284.0V282.0H195.8V284.0 M192.8,284.0V281.6H195.1V282.0 M191.3,284.0V280.4H194.0V281.6 M196.5,284.0V284.0H197.3V284.0 M198.0,284.0V284.0H198.6V284.0 M196.9,284.0V279.9H198.3V284.0 M200.0,284.0V284.0H200.7V284.0 M199.3,284.0V284.0H200.3V284.0 M197.6,279.9V278.7H199.8V284.0 M192.6,280.4V276.5H198.7V278.7 M160.8,273.0V270.8H195.7V276.5 M201.5,284.0V284.0H202.2V284.0 M204.5,284.0V284.0H205.1V284.0 M203.9,284.0V284.0H204.8V284.0 M203.0,284.0V278.8H204.3V284.0 M201.9,284.0V276.0H203.6V278.8 M179.9,270.8V265.4H202.8V276.0 M207.1,284.0V284.0H208.0V284.0 M206.1,284.0V272.0H207.6V284.0 M191.5,265.4V261.4H206.8V272.0" stroke="#3e63be" stroke-width="0.75" fill="none"/>
<path d="M208.9,284.0V284.0H209.5V284.0 M210.1,284.0V284.0H210.8V284.0 M209.2,284.0V280.7H210.5V284.0 M211.6,284.0V284.0H212.5V284.0 M213.2,284.0V284.0H214.0V284.0 M212.0,284.0V279.0H213.6V284.0 M214.7,284.0V284.0H215.4V284.0 M216.9,284.0V284.0H217.7V284.0 M216.3,284.0V284.0H217.3V284.0 M215.1,284.0V282.8H216.8V284.0 M218.4,284.0V284.0H219.0V284.0 M218.7,284.0V284.0H220.0V284.0 M215.9,282.8V282.3H219.3V284.0 M221.9,284.0V284.0H222.9V284.0 M221.0,284.0V283.1H222.4V284.0 M223.6,284.0V284.0H224.4V284.0 M225.2,284.0V284.0H225.9V284.0 M224.0,284.0V283.2H225.6V284.0 M221.7,283.1V282.7H224.8V283.2 M226.8,284.0V284.0H227.7V284.0 M228.7,284.0V284.0H229.5V284.0 M229.1,284.0V283.2H230.3V284.0 M227.3,284.0V283.0H229.7V283.2 M223.2,282.7V282.0H228.5V283.0 M217.6,282.3V281.5H225.9V282.0 M231.9,284.0V284.0H232.6V284.0 M231.2,284.0V284.0H232.2V284.0 M234.4,284.0V284.0H235.1V284.0 M233.6,284.0V282.6H234.7V284.0 M231.7,284.0V281.7H234.2V282.6 M221.7,281.5V280.9H232.9V281.7 M236.0,284.0V284.0H236.8V284.0 M236.4,284.0V282.6H237.7V284.0 M238.7,284.0V284.0H239.5V284.0 M237.0,282.6V281.3H239.1V284.0 M227.3,280.9V279.0H238.1V281.3 M240.5,284.0V284.0H241.3V284.0 M242.2,284.0V284.0H243.0V284.0 M240.9,284.0V283.6H242.6V284.0 M243.7,284.0V284.0H244.5V284.0 M241.7,283.6V283.4H244.1V284.0 M245.4,284.0V284.0H246.3V284.0 M247.1,284.0V284.0H247.7V284.0 M245.8,284.0V283.5H247.4V284.0 M242.9,283.4V283.1H246.6V283.5 M248.5,284.0V284.0H249.5V284.0 M250.2,284.0V284.0H250.8V284.0 M250.5,284.0V284.0H251.8V284.0 M251.2,284.0V283.7H252.9V284.0 M249.0,284.0V283.4H252.0V283.7 M254.7,284.0V284.0H255.4V284.0 M253.9,284.0V284.0H255.0V284.0 M250.5,283.4V283.1H254.5V284.0 M256.4,284.0V284.0H257.5V284.0 M252.5,283.1V282.8H256.9V284.0 M244.8,283.1V282.6H254.7V282.8 M258.4,284.0V284.0H259.2V284.0 M258.8,284.0V284.0H259.9V284.0 M260.5,284.0V284.0H261.2V284.0 M259.4,284.0V282.8H260.9V284.0 M262.1,284.0V284.0H262.7V284.0 M263.5,284.0V284.0H264.4V284.0 M262.4,284.0V282.9H264.0V284.0 M264.9,284.0V284.0H265.5V284.0 M266.2,284.0V284.0H267.0V284.0 M265.2,284.0V283.3H266.6V284.0 M263.2,282.9V282.7H265.9V283.3 M268.0,284.0V284.0H269.0V284.0 M270.7,284.0V284.0H271.4V284.0 M269.9,284.0V284.0H271.1V284.0 M268.5,284.0V282.8H270.5V284.0 M264.5,282.7V282.2H269.5V282.8 M260.1,282.8V281.6H267.0V282.2 M249.7,282.6V280.9H263.6V281.6 M272.4,284.0V284.0H273.2V284.0 M273.8,284.0V284.0H274.6V284.0 M274.2,284.0V284.0H275.3V284.0 M274.8,284.0V283.5H276.3V284.0 M272.8,284.0V283.3H275.5V283.5 M274.2,283.3V282.9H277.5V284.0 M278.6,284.0V284.0H279.7V284.0 M280.8,284.0V284.0H281.9V284.0 M279.1,284.0V282.3H281.4V284.0 M275.8,282.9V281.9H280.2V282.3 M256.7,280.9V280.0H278.0V281.9 M232.7,279.0V276.0H267.3V280.0 M212.8,279.0V273.0H234.6V276.0 M209.8,280.7V254.4H219.3V273.0" stroke="#ea5a22" stroke-width="0.75" fill="none"/>
<line x1="198.50" y1="225.30" x2="198.50" y2="261.40" stroke="#3e63be" stroke-width="0.8"/>
<line x1="214.40" y1="225.30" x2="214.40" y2="254.40" stroke="#ea5a22" stroke-width="0.8"/>
<line x1="198.50" y1="225.30" x2="214.40" y2="225.30" stroke="#000" stroke-width="0.8"/>
<text x="73.50" y="302.00" font-size="6.9" text-anchor="end">shSFTA1P#1</text>
<text x="73.50" y="334.60" font-size="6.9" text-anchor="end">shSFTA1P#2</text>
<text x="88.80" y="357.30" font-size="8.1" fill="#1e7cc8">Down-regulated Genes</text>
<text x="201.80" y="357.30" font-size="8.1" fill="#e8312b">Up-regulated Genes</text>
<text x="191.50" y="376.00" font-size="8.0" text-anchor="middle">pathway analysis</text>
<rect x="118.00" y="362.50" width="4.00" height="12.00" fill="#2a4fad"/>
<polygon points="112.80,371.50 127.60,371.50 120.20,385.00" fill="#2a4fad"/>
<rect x="255.20" y="362.50" width="4.00" height="12.00" fill="#e8541c"/>
<polygon points="250.00,371.50 264.60,371.50 257.30,385.00" fill="#e8541c"/>
<rect x="26.80" y="393.15" width="54.30" height="4.70" fill="#2e4fae" stroke="#111" stroke-width="0.45"/>
<text x="84.40" y="397.25" font-size="4.85" fill="#111">Systemic lupus erythematosus</text>
<rect x="35.50" y="398.59" width="45.60" height="4.70" fill="#2e4fae" stroke="#111" stroke-width="0.45"/>
<text x="84.40" y="402.69" font-size="4.85" fill="#111">Alcoholism</text>
<rect x="59.60" y="404.04" width="21.50" height="4.70" fill="#2e4fae" stroke="#111" stroke-width="0.45"/>
<text x="84.40" y="408.14" font-size="4.85" fill="#111">Viral carcinogenesis</text>
<rect x="67.50" y="409.48" width="13.60" height="4.70" fill="#2e4fae" stroke="#111" stroke-width="0.45"/>
<text x="84.40" y="413.58" font-size="4.85" fill="#111">Cell cycle</text>
<rect x="70.70" y="414.93" width="10.40" height="4.70" fill="#2e4fae" stroke="#111" stroke-width="0.45"/>
<text x="84.40" y="419.03" font-size="4.85" fill="#111">DNA replication</text>
<rect x="73.70" y="420.38" width="7.40" height="4.70" fill="#2e4fae" stroke="#111" stroke-width="0.45"/>
<text x="84.40" y="424.48" font-size="4.85" fill="#111">Terpenoid backbone biosynthesis</text>
<rect x="74.40" y="425.82" width="6.70" height="4.70" fill="#2e4fae" stroke="#111" stroke-width="0.45"/>
<text x="84.40" y="429.92" font-size="4.85" fill="#111">Transcriptional misregulation in cancer</text>
<rect x="75.70" y="431.26" width="5.40" height="4.70" fill="#2e4fae" stroke="#111" stroke-width="0.45"/>
<text x="84.40" y="435.37" font-size="4.85" fill="#111">Steroid biosynthesis</text>
<rect x="76.20" y="436.71" width="4.90" height="4.70" fill="#2e4fae" stroke="#111" stroke-width="0.45"/>
<text x="84.40" y="440.81" font-size="4.85" fill="#111">Regulation of actin cytoskeleton</text>
<rect x="76.40" y="442.15" width="4.70" height="4.70" fill="#2e4fae" stroke="#111" stroke-width="0.45"/>
<text x="84.40" y="446.25" font-size="4.85" fill="#111">Base excision repair</text>
<rect x="77.00" y="447.60" width="4.10" height="4.70" fill="#2e4fae" stroke="#111" stroke-width="0.45"/>
<text x="84.40" y="451.70" font-size="4.85" fill="#2b4bc0">Hippo signaling pathway</text>
<rect x="77.20" y="453.04" width="3.90" height="4.70" fill="#2e4fae" stroke="#111" stroke-width="0.45"/>
<text x="84.40" y="457.14" font-size="4.85" fill="#111">Necroptosis</text>
<rect x="77.60" y="458.49" width="3.50" height="4.70" fill="#2e4fae" stroke="#111" stroke-width="0.45"/>
<text x="84.40" y="462.59" font-size="4.85" fill="#111">Progesterone−mediated oocyte maturation</text>
<rect x="77.90" y="463.93" width="3.20" height="4.70" fill="#2e4fae" stroke="#111" stroke-width="0.45"/>
<text x="84.40" y="468.03" font-size="4.85" fill="#111">Gap junction</text>
<rect x="78.10" y="469.38" width="3.00" height="4.70" fill="#2e4fae" stroke="#111" stroke-width="0.45"/>
<text x="84.40" y="473.48" font-size="4.85" fill="#111">Gastric acid secretion</text>
<rect x="78.30" y="474.82" width="2.80" height="4.70" fill="#2e4fae" stroke="#111" stroke-width="0.45"/>
<text x="84.40" y="478.93" font-size="4.85" fill="#111">Pathogenic Escherichia coli infection</text>
<rect x="78.40" y="480.27" width="2.70" height="4.70" fill="#2e4fae" stroke="#111" stroke-width="0.45"/>
<text x="84.40" y="484.37" font-size="4.85" fill="#111">One carbon pool by folate</text>
<rect x="78.50" y="485.71" width="2.60" height="4.70" fill="#2e4fae" stroke="#111" stroke-width="0.45"/>
<text x="84.40" y="489.81" font-size="4.85" fill="#111">Oocyte meiosis</text>
<rect x="78.60" y="491.16" width="2.50" height="4.70" fill="#2e4fae" stroke="#111" stroke-width="0.45"/>
<text x="84.40" y="495.26" font-size="4.85" fill="#111">Rap1 signaling pathway</text>
<rect x="78.70" y="496.61" width="2.40" height="4.70" fill="#2e4fae" stroke="#111" stroke-width="0.45"/>
<text x="84.40" y="500.71" font-size="4.85" fill="#111">Synthesis and degradation of ketone bodies</text>
<rect x="78.80" y="502.05" width="2.30" height="4.70" fill="#2e4fae" stroke="#111" stroke-width="0.45"/>
<text x="84.40" y="506.15" font-size="4.85" fill="#111">Human T−cell leukemia virus 1 infection</text>
<rect x="78.90" y="507.50" width="2.20" height="4.70" fill="#2e4fae" stroke="#111" stroke-width="0.45"/>
<text x="84.40" y="511.60" font-size="4.85" fill="#111">Tight junction</text>
<rect x="79.00" y="512.94" width="2.10" height="4.70" fill="#2e4fae" stroke="#111" stroke-width="0.45"/>
<text x="84.40" y="517.04" font-size="4.85" fill="#111">Aldosterone synthesis and secretion</text>
<rect x="79.10" y="518.38" width="2.00" height="4.70" fill="#2e4fae" stroke="#111" stroke-width="0.45"/>
<text x="84.40" y="522.49" font-size="4.85" fill="#111">Platelet activation</text>
<rect x="79.10" y="523.83" width="2.00" height="4.70" fill="#2e4fae" stroke="#111" stroke-width="0.45"/>
<text x="84.40" y="527.93" font-size="4.85" fill="#111">Thyroid hormone synthesis</text>
<rect x="79.20" y="529.27" width="1.90" height="4.70" fill="#2e4fae" stroke="#111" stroke-width="0.45"/>
<text x="84.40" y="533.38" font-size="4.85" fill="#111">Axon guidance</text>
<rect x="79.20" y="534.72" width="1.90" height="4.70" fill="#2e4fae" stroke="#111" stroke-width="0.45"/>
<text x="84.40" y="538.82" font-size="4.85" fill="#111">Melanogenesis</text>
<rect x="79.30" y="540.16" width="1.80" height="4.70" fill="#2e4fae" stroke="#111" stroke-width="0.45"/>
<text x="84.40" y="544.26" font-size="4.85" fill="#111">Cushing syndrome</text>
<line x1="81.10" y1="392.50" x2="81.10" y2="546.00" stroke="#111" stroke-width="0.5"/>
<line x1="31.00" y1="551.20" x2="81.30" y2="551.20" stroke="#111" stroke-width="0.7"/>
<line x1="31.20" y1="551.20" x2="31.20" y2="554.40" stroke="#111" stroke-width="0.7"/>
<line x1="41.20" y1="551.20" x2="41.20" y2="554.40" stroke="#111" stroke-width="0.7"/>
<line x1="51.20" y1="551.20" x2="51.20" y2="554.40" stroke="#111" stroke-width="0.7"/>
<line x1="61.20" y1="551.20" x2="61.20" y2="554.40" stroke="#111" stroke-width="0.7"/>
<line x1="71.20" y1="551.20" x2="71.20" y2="554.40" stroke="#111" stroke-width="0.7"/>
<line x1="81.20" y1="551.20" x2="81.20" y2="554.40" stroke="#111" stroke-width="0.7"/>
<text x="31.20" y="560.60" font-size="5.3" text-anchor="middle">25</text>
<text x="81.20" y="560.60" font-size="5.3" text-anchor="middle">0</text>
<text x="56.00" y="568.40" font-size="5.5" text-anchor="middle">log10 (p-value)</text>
<rect x="13.60" y="433.30" width="58.40" height="32.40" fill="none" stroke="#3a72b0" stroke-width="0.95" rx="4"/>
<polygon points="72.00,448.20 73.80,450.00 72.00,451.80" fill="#4a84c0"/>
<text x="17.30" y="440.80" font-size="5.0" fill="#222" textLength="48.5" lengthAdjust="spacingAndGlyphs">SOX2, APC2, RASSF2,</text>
<text x="17.30" y="447.70" font-size="5.0" fill="#222" textLength="50.5" lengthAdjust="spacingAndGlyphs">WNT5B, WNT5A, BIRC5,</text>
<text x="17.30" y="454.60" font-size="5.0" fill="#222" textLength="50.0" lengthAdjust="spacingAndGlyphs">DCHS1,TGFBR1, AMOT,</text>
<text x="17.30" y="461.50" font-size="5.0" fill="#222" textLength="28.0" lengthAdjust="spacingAndGlyphs">ACTG1, GDF7</text>
<rect x="273.50" y="393.60" width="34.20" height="13.20" fill="#ea5a22" stroke="#222" stroke-width="0.6"/>
<text x="266.00" y="402.00" font-size="4.9" text-anchor="end" fill="#111">Herpes simplex virus 1 infection</text>
<rect x="273.50" y="409.80" width="24.00" height="13.20" fill="#ea5a22" stroke="#222" stroke-width="0.6"/>
<text x="266.00" y="418.20" font-size="4.9" text-anchor="end" fill="#111">ABC transporters</text>
<rect x="273.50" y="426.00" width="19.80" height="13.20" fill="#ea5a22" stroke="#222" stroke-width="0.6"/>
<text x="266.00" y="434.40" font-size="4.9" text-anchor="end" fill="#111">Epstein−Barr virus infection</text>
<rect x="273.50" y="442.20" width="18.10" height="13.20" fill="#ea5a22" stroke="#222" stroke-width="0.6"/>
<text x="266.00" y="450.60" font-size="4.9" text-anchor="end" fill="#111">Measles</text>
<rect x="273.50" y="458.40" width="17.10" height="13.20" fill="#ea5a22" stroke="#222" stroke-width="0.6"/>
<text x="266.00" y="466.80" font-size="4.9" text-anchor="end" fill="#111">p53 signaling pathway</text>
<rect x="273.50" y="474.60" width="16.40" height="13.20" fill="#ea5a22" stroke="#222" stroke-width="0.6"/>
<text x="266.00" y="483.00" font-size="4.9" text-anchor="end" fill="#111">TNF signaling pathway</text>
<rect x="273.50" y="490.80" width="15.40" height="13.20" fill="#ea5a22" stroke="#222" stroke-width="0.6"/>
<text x="266.00" y="499.20" font-size="4.9" text-anchor="end" fill="#111">Complement and coagulation cascades</text>
<line x1="273.50" y1="508.40" x2="313.60" y2="508.40" stroke="#111" stroke-width="0.7"/>
<line x1="273.50" y1="508.40" x2="273.50" y2="511.40" stroke="#111" stroke-width="0.7"/>
<line x1="283.50" y1="508.40" x2="283.50" y2="511.40" stroke="#111" stroke-width="0.7"/>
<line x1="293.50" y1="508.40" x2="293.50" y2="511.40" stroke="#111" stroke-width="0.7"/>
<line x1="303.50" y1="508.40" x2="303.50" y2="511.40" stroke="#111" stroke-width="0.7"/>
<line x1="313.50" y1="508.40" x2="313.50" y2="511.40" stroke="#111" stroke-width="0.7"/>
<text x="273.50" y="517.00" font-size="5.3" text-anchor="middle">0</text>
<text x="313.50" y="517.00" font-size="5.3" text-anchor="middle">4</text>
<text x="294.00" y="525.80" font-size="5.6" text-anchor="middle">log10 (p-value)</text>
<defs><filter id="bl" x="-20%" y="-60%" width="140%" height="220%"><feGaussianBlur stdDeviation="0.55"/></filter></defs>
<text x="338.00" y="17.20" font-size="11">B</text>
<line x1="370.20" y1="38.98" x2="370.20" y2="137.20" stroke="#000" stroke-width="1.1"/>
<line x1="370.20" y1="137.20" x2="516.20" y2="137.20" stroke="#000" stroke-width="1.1"/>
<line x1="367.70" y1="137.20" x2="370.20" y2="137.20" stroke="#000" stroke-width="1"/>
<text x="367.30" y="139.70" font-size="7.1" text-anchor="end">0.0</text>
<line x1="367.70" y1="123.24" x2="370.20" y2="123.24" stroke="#000" stroke-width="1"/>
<text x="367.30" y="125.74" font-size="7.1" text-anchor="end">0.2</text>
<line x1="367.70" y1="109.28" x2="370.20" y2="109.28" stroke="#000" stroke-width="1"/>
<text x="367.30" y="111.78" font-size="7.1" text-anchor="end">0.4</text>
<line x1="367.70" y1="95.32" x2="370.20" y2="95.32" stroke="#000" stroke-width="1"/>
<text x="367.30" y="97.82" font-size="7.1" text-anchor="end">0.6</text>
<line x1="367.70" y1="81.36" x2="370.20" y2="81.36" stroke="#000" stroke-width="1"/>
<text x="367.30" y="83.86" font-size="7.1" text-anchor="end">0.8</text>
<line x1="367.70" y1="67.40" x2="370.20" y2="67.40" stroke="#000" stroke-width="1"/>
<text x="367.30" y="69.90" font-size="7.1" text-anchor="end">1.0</text>
<line x1="367.70" y1="53.44" x2="370.20" y2="53.44" stroke="#000" stroke-width="1"/>
<text x="367.30" y="55.94" font-size="7.1" text-anchor="end">1.2</text>
<line x1="367.70" y1="39.48" x2="370.20" y2="39.48" stroke="#000" stroke-width="1"/>
<text x="367.30" y="41.98" font-size="7.1" text-anchor="end">1.4</text>
<text x="350.60" y="88.50" font-size="6.65" text-anchor="middle" transform="rotate(-90 350.60 88.50)">Relative mRNA Expression</text>
<circle cx="375.20" cy="41.40" r="1.20" fill="#3550b5"/>
<text x="386.60" y="43.80" font-size="6.5">shCtrl</text>
<rect x="411.90" y="40.30" width="2.20" height="2.20" fill="#e8352e"/>
<text x="423.80" y="43.80" font-size="6.5">shSFTA1P#1</text>
<polygon points="468.74,42.59 471.26,42.59 470.00,40.39" fill="#3cc43c"/>
<text x="480.60" y="43.80" font-size="6.5">shSFTA1P#2</text>
<rect x="377.70" y="67.40" width="7.40" height="69.80" fill="#fff" stroke="#3550b5" stroke-width="1.2"/>
<line x1="381.40" y1="69.49" x2="381.40" y2="65.31" stroke="#3550b5" stroke-width="1.08"/>
<line x1="379.47" y1="65.31" x2="383.34" y2="65.31" stroke="#3550b5" stroke-width="1.08"/>
<line x1="379.47" y1="69.49" x2="383.34" y2="69.49" stroke="#3550b5" stroke-width="1.08"/>
<circle cx="379.80" cy="66.14" r="1.25" fill="#3550b5"/>
<circle cx="383.00" cy="66.77" r="1.25" fill="#3550b5"/>
<circle cx="381.40" cy="69.08" r="1.25" fill="#3550b5"/>
<rect x="390.90" y="102.30" width="7.40" height="34.90" fill="#fff" stroke="#e8352e" stroke-width="1.2"/>
<line x1="394.60" y1="104.39" x2="394.60" y2="100.21" stroke="#e8352e" stroke-width="1.08"/>
<line x1="392.67" y1="100.21" x2="396.54" y2="100.21" stroke="#e8352e" stroke-width="1.08"/>
<line x1="392.67" y1="104.39" x2="396.54" y2="104.39" stroke="#e8352e" stroke-width="1.08"/>
<rect x="391.75" y="99.79" width="2.50" height="2.50" fill="#e8352e"/>
<rect x="394.95" y="100.42" width="2.50" height="2.50" fill="#e8352e"/>
<rect x="393.35" y="102.73" width="2.50" height="2.50" fill="#e8352e"/>
<rect x="404.10" y="90.43" width="7.40" height="46.77" fill="#fff" stroke="#3cc43c" stroke-width="1.2"/>
<line x1="407.80" y1="93.92" x2="407.80" y2="86.94" stroke="#3cc43c" stroke-width="1.08"/>
<line x1="405.87" y1="86.94" x2="409.74" y2="86.94" stroke="#3cc43c" stroke-width="1.08"/>
<line x1="405.87" y1="93.92" x2="409.74" y2="93.92" stroke="#3cc43c" stroke-width="1.08"/>
<polygon points="404.76,89.46 407.64,89.46 406.20,86.96" fill="#3cc43c"/>
<polygon points="407.96,90.51 410.84,90.51 409.40,88.01" fill="#3cc43c"/>
<polygon points="406.36,94.35 409.24,94.35 407.80,91.85" fill="#3cc43c"/>
<text x="394.60" y="146.70" font-size="6.5" text-anchor="middle">ANKRD1</text>
<line x1="394.60" y1="137.20" x2="394.60" y2="139.20" stroke="#000" stroke-width="0.8"/>
<rect x="426.10" y="67.40" width="7.40" height="69.80" fill="#fff" stroke="#3550b5" stroke-width="1.2"/>
<line x1="429.80" y1="68.80" x2="429.80" y2="66.00" stroke="#3550b5" stroke-width="1.08"/>
<line x1="427.87" y1="66.00" x2="431.74" y2="66.00" stroke="#3550b5" stroke-width="1.08"/>
<line x1="427.87" y1="68.80" x2="431.74" y2="68.80" stroke="#3550b5" stroke-width="1.08"/>
<circle cx="428.20" cy="66.56" r="1.25" fill="#3550b5"/>
<circle cx="431.40" cy="66.98" r="1.25" fill="#3550b5"/>
<circle cx="429.80" cy="68.52" r="1.25" fill="#3550b5"/>
<rect x="439.30" y="89.04" width="7.40" height="48.16" fill="#fff" stroke="#e8352e" stroke-width="1.2"/>
<line x1="443.00" y1="97.41" x2="443.00" y2="80.66" stroke="#e8352e" stroke-width="1.08"/>
<line x1="441.06" y1="80.66" x2="444.94" y2="80.66" stroke="#e8352e" stroke-width="1.08"/>
<line x1="441.06" y1="97.41" x2="444.94" y2="97.41" stroke="#e8352e" stroke-width="1.08"/>
<rect x="440.15" y="82.76" width="2.50" height="2.50" fill="#e8352e"/>
<rect x="443.35" y="85.28" width="2.50" height="2.50" fill="#e8352e"/>
<rect x="441.75" y="94.49" width="2.50" height="2.50" fill="#e8352e"/>
<rect x="452.50" y="112.07" width="7.40" height="25.13" fill="#fff" stroke="#3cc43c" stroke-width="1.2"/>
<line x1="456.20" y1="112.77" x2="456.20" y2="111.37" stroke="#3cc43c" stroke-width="1.08"/>
<line x1="454.26" y1="111.37" x2="458.13" y2="111.37" stroke="#3cc43c" stroke-width="1.08"/>
<line x1="454.26" y1="112.77" x2="458.13" y2="112.77" stroke="#3cc43c" stroke-width="1.08"/>
<polygon points="453.16,112.78 456.04,112.78 454.60,110.28" fill="#3cc43c"/>
<polygon points="456.36,112.99 459.24,112.99 457.80,110.49" fill="#3cc43c"/>
<polygon points="454.76,113.76 457.64,113.76 456.20,111.26" fill="#3cc43c"/>
<text x="443.00" y="146.70" font-size="6.5" text-anchor="middle">CTGF</text>
<line x1="443.00" y1="137.20" x2="443.00" y2="139.20" stroke="#000" stroke-width="0.8"/>
<rect x="475.10" y="68.10" width="7.40" height="69.10" fill="#fff" stroke="#3550b5" stroke-width="1.2"/>
<line x1="478.80" y1="71.59" x2="478.80" y2="64.61" stroke="#3550b5" stroke-width="1.08"/>
<line x1="476.87" y1="64.61" x2="480.74" y2="64.61" stroke="#3550b5" stroke-width="1.08"/>
<line x1="476.87" y1="71.59" x2="480.74" y2="71.59" stroke="#3550b5" stroke-width="1.08"/>
<circle cx="477.20" cy="66.00" r="1.25" fill="#3550b5"/>
<circle cx="480.40" cy="67.05" r="1.25" fill="#3550b5"/>
<circle cx="478.80" cy="70.89" r="1.25" fill="#3550b5"/>
<rect x="488.30" y="118.35" width="7.40" height="18.85" fill="#fff" stroke="#e8352e" stroke-width="1.2"/>
<line x1="492.00" y1="119.40" x2="492.00" y2="117.31" stroke="#e8352e" stroke-width="1.08"/>
<line x1="490.06" y1="117.31" x2="493.94" y2="117.31" stroke="#e8352e" stroke-width="1.08"/>
<line x1="490.06" y1="119.40" x2="493.94" y2="119.40" stroke="#e8352e" stroke-width="1.08"/>
<rect x="489.15" y="116.48" width="2.50" height="2.50" fill="#e8352e"/>
<rect x="492.35" y="116.79" width="2.50" height="2.50" fill="#e8352e"/>
<rect x="490.75" y="117.94" width="2.50" height="2.50" fill="#e8352e"/>
<rect x="501.50" y="119.05" width="7.40" height="18.15" fill="#fff" stroke="#3cc43c" stroke-width="1.2"/>
<line x1="505.20" y1="120.45" x2="505.20" y2="117.66" stroke="#3cc43c" stroke-width="1.08"/>
<line x1="503.26" y1="117.66" x2="507.13" y2="117.66" stroke="#3cc43c" stroke-width="1.08"/>
<line x1="503.26" y1="120.45" x2="507.13" y2="120.45" stroke="#3cc43c" stroke-width="1.08"/>
<polygon points="502.16,119.34 505.04,119.34 503.60,116.84" fill="#3cc43c"/>
<polygon points="505.36,119.76 508.24,119.76 506.80,117.26" fill="#3cc43c"/>
<polygon points="503.76,121.29 506.64,121.29 505.20,118.79" fill="#3cc43c"/>
<text x="492.00" y="146.70" font-size="6.5" text-anchor="middle">CYR61</text>
<line x1="492.00" y1="137.20" x2="492.00" y2="139.20" stroke="#000" stroke-width="0.8"/>
<polyline points="381.40,62.50 381.40,52.30 407.70,52.30 407.70,82.30" stroke="#000" stroke-width="0.9" fill="none"/>
<text x="394.60" y="53.90" font-size="7.4" text-anchor="middle">***</text>
<polyline points="381.40,62.50 381.40,59.30 395.00,59.30 395.00,87.30" stroke="#000" stroke-width="0.9" fill="none"/>
<text x="388.00" y="58.00" font-size="7.4" text-anchor="middle">***</text>
<polyline points="430.00,62.50 430.00,52.30 456.50,52.30 456.50,100.00" stroke="#000" stroke-width="0.9" fill="none"/>
<text x="443.50" y="53.90" font-size="7.4" text-anchor="middle">***</text>
<polyline points="430.00,62.50 430.00,59.30 443.40,59.30 443.40,76.70" stroke="#000" stroke-width="0.9" fill="none"/>
<text x="436.50" y="58.00" font-size="7.4" text-anchor="middle">*</text>
<polyline points="478.40,62.80 478.40,52.30 505.30,52.30 505.30,110.60" stroke="#000" stroke-width="0.9" fill="none"/>
<text x="491.80" y="53.90" font-size="7.4" text-anchor="middle">***</text>
<polyline points="478.40,62.80 478.40,59.60 491.80,59.60 491.80,111.30" stroke="#000" stroke-width="0.9" fill="none"/>
<text x="485.30" y="58.30" font-size="7.4" text-anchor="middle">***</text>
<text x="544.60" y="16.80" font-size="11">C</text>
<clipPath id="bc1"><rect x="567.70" y="68.40" width="87.30" height="15.00"/></clipPath>
<rect x="567.70" y="68.40" width="87.30" height="15.00" fill="#f8f8f8"/>
<g clip-path="url(#bc1)">
<rect x="572.40" y="73.70" width="22.60" height="5.20" rx="2.34" fill="#0a0a0a" opacity="1" filter="url(#bl)"/>
<rect x="600.10" y="73.00" width="20.50" height="5.00" rx="2.25" fill="#0a0a0a" opacity="1" filter="url(#bl)"/>
<rect x="625.00" y="71.90" width="21.50" height="6.00" rx="2.70" fill="#0a0a0a" opacity="1" filter="url(#bl)"/>
<rect x="574.00" y="79.50" width="20.00" height="2.00" rx="0.90" fill="#0a0a0a" opacity="0.12" filter="url(#bl)"/>
<rect x="601.00" y="79.50" width="19.00" height="2.00" rx="0.90" fill="#0a0a0a" opacity="0.12" filter="url(#bl)"/>
<rect x="627.00" y="79.25" width="18.00" height="2.50" rx="1.12" fill="#0a0a0a" opacity="0.15" filter="url(#bl)"/>
</g>
<rect x="567.70" y="68.40" width="87.30" height="15.00" fill="none" stroke="#000" stroke-width="1.3"/>
<clipPath id="bc2"><rect x="567.70" y="86.00" width="87.30" height="16.70"/></clipPath>
<rect x="567.70" y="86.00" width="87.30" height="16.70" fill="#f6f6f6"/>
<g clip-path="url(#bc2)">
<rect x="572.40" y="93.40" width="21.20" height="4.60" rx="2.07" fill="#0a0a0a" opacity="0.95" filter="url(#bl)"/>
<rect x="600.00" y="93.70" width="20.00" height="3.00" rx="1.35" fill="#0a0a0a" opacity="0.16" filter="url(#bl)"/>
<rect x="627.00" y="92.70" width="23.00" height="3.00" rx="1.35" fill="#0a0a0a" opacity="0.12" filter="url(#bl)"/>
</g>
<rect x="567.70" y="86.00" width="87.30" height="16.70" fill="none" stroke="#000" stroke-width="1.3"/>
<clipPath id="bc3"><rect x="567.70" y="105.80" width="87.30" height="18.80"/></clipPath>
<rect x="567.70" y="105.80" width="87.30" height="18.80" fill="#f6f6f6"/>
<g clip-path="url(#bc3)">
<rect x="572.00" y="112.10" width="20.50" height="5.00" rx="2.25" fill="#0a0a0a" opacity="1" filter="url(#bl)"/>
<rect x="598.00" y="112.60" width="20.50" height="3.60" rx="1.62" fill="#0a0a0a" opacity="0.7" filter="url(#bl)"/>
<rect x="625.00" y="112.20" width="21.00" height="4.20" rx="1.89" fill="#0a0a0a" opacity="0.7" filter="url(#bl)"/>
</g>
<rect x="567.70" y="105.80" width="87.30" height="18.80" fill="none" stroke="#000" stroke-width="1.3"/>
<clipPath id="bc4"><rect x="567.70" y="127.50" width="87.30" height="16.40"/></clipPath>
<rect x="567.70" y="127.50" width="87.30" height="16.40" fill="#f7f7f7"/>
<g clip-path="url(#bc4)">
<rect x="561.00" y="133.00" width="34.00" height="6.00" rx="2.70" fill="#0a0a0a" opacity="1" filter="url(#bl)"/>
<rect x="593.00" y="132.90" width="28.00" height="5.60" rx="2.52" fill="#0a0a0a" opacity="1" filter="url(#bl)"/>
<rect x="619.00" y="131.60" width="33.00" height="6.40" rx="2.88" fill="#0a0a0a" opacity="1" filter="url(#bl)"/>
</g>
<rect x="567.70" y="127.50" width="87.30" height="16.40" fill="none" stroke="#000" stroke-width="1.3"/>
<text x="562.90" y="79.50" font-size="8.4" text-anchor="end">YAP</text>
<text x="562.90" y="100.40" font-size="8.4" text-anchor="end">TAZ</text>
<text x="562.90" y="120.90" font-size="8.4" text-anchor="end">Pan-TEAD</text>
<text x="562.90" y="142.10" font-size="8.4" text-anchor="end">GAPDH</text>
<line x1="655.00" y1="70.80" x2="661.00" y2="70.80" stroke="#000" stroke-width="1.0"/>
<text x="662.20" y="73.79" font-size="8.3">75 kD</text>
<line x1="655.00" y1="98.50" x2="661.00" y2="98.50" stroke="#000" stroke-width="1.0"/>
<text x="662.20" y="101.49" font-size="8.3">50 kD</text>
<line x1="655.00" y1="116.00" x2="661.00" y2="116.00" stroke="#000" stroke-width="1.0"/>
<text x="662.20" y="118.99" font-size="8.3">50 kD</text>
<line x1="655.00" y1="130.20" x2="661.00" y2="130.20" stroke="#000" stroke-width="1.0"/>
<text x="662.20" y="133.19" font-size="8.3">37 kD</text>
<text x="587.50" y="63.00" font-size="8.4" transform="rotate(-45 587.50 63.00)">shCtrl</text>
<text x="613.20" y="62.80" font-size="8.4" transform="rotate(-45 613.20 62.80)">shSFTA1P#1</text>
<text x="643.00" y="62.20" font-size="8.4" transform="rotate(-45 643.00 62.20)">shSFTA1P#2</text>
<text x="377.70" y="172.00" font-size="11">D</text>
<clipPath id="bc5"><rect x="422.30" y="204.10" width="58.10" height="16.20"/></clipPath>
<rect x="422.30" y="204.10" width="58.10" height="16.20" fill="#f9f9f9"/>
<g clip-path="url(#bc5)">
<rect x="426.20" y="211.70" width="22.40" height="4.60" rx="2.07" fill="#0a0a0a" opacity="1" filter="url(#bl)"/>
</g>
<rect x="422.30" y="204.10" width="58.10" height="16.20" fill="none" stroke="#000" stroke-width="1.3"/>
<clipPath id="bc6"><rect x="422.30" y="225.00" width="58.10" height="18.60"/></clipPath>
<rect x="422.30" y="225.00" width="58.10" height="18.60" fill="#ececec"/>
<g clip-path="url(#bc6)">
<rect x="426.20" y="234.10" width="22.40" height="5.40" rx="2.43" fill="#0a0a0a" opacity="1" filter="url(#bl)"/>
<rect x="452.00" y="234.60" width="24.00" height="3.20" rx="1.44" fill="#0a0a0a" opacity="0.12" filter="url(#bl)"/>
</g>
<rect x="422.30" y="225.00" width="58.10" height="18.60" fill="none" stroke="#000" stroke-width="1.3"/>
<clipPath id="bc7"><rect x="422.30" y="247.30" width="58.10" height="16.90"/></clipPath>
<rect x="422.30" y="247.30" width="58.10" height="16.90" fill="#f0f0f0"/>
<g clip-path="url(#bc7)">
<rect x="423.60" y="251.50" width="22.00" height="4.20" rx="1.89" fill="#0a0a0a" opacity="1" filter="url(#bl)"/>
<rect x="452.00" y="251.70" width="26.00" height="2.60" rx="1.17" fill="#0a0a0a" opacity="0.15" filter="url(#bl)"/>
</g>
<rect x="422.30" y="247.30" width="58.10" height="16.90" fill="none" stroke="#000" stroke-width="1.3"/>
<clipPath id="bc8"><rect x="422.30" y="266.70" width="58.10" height="14.30"/></clipPath>
<rect x="422.30" y="266.70" width="58.10" height="14.30" fill="#f7f7f7"/>
<g clip-path="url(#bc8)">
<rect x="421.00" y="270.30" width="32.00" height="6.00" rx="2.70" fill="#0a0a0a" opacity="1" filter="url(#bl)"/>
<rect x="450.00" y="270.00" width="31.00" height="6.00" rx="2.70" fill="#0a0a0a" opacity="1" filter="url(#bl)"/>
</g>
<rect x="422.30" y="266.70" width="58.10" height="14.30" fill="none" stroke="#000" stroke-width="1.3"/>
<text x="413.40" y="217.10" font-size="8.4" text-anchor="end">YAP</text>
<text x="413.40" y="236.50" font-size="8.4" text-anchor="end">TAZ</text>
<text x="413.40" y="255.60" font-size="8.4" text-anchor="end">Pan-TEAD</text>
<text x="413.40" y="275.10" font-size="8.4" text-anchor="end">GAPDH</text>
<line x1="480.40" y1="207.00" x2="486.40" y2="207.00" stroke="#000" stroke-width="1.0"/>
<text x="487.60" y="209.99" font-size="8.3">75 kD</text>
<line x1="480.40" y1="239.40" x2="486.40" y2="239.40" stroke="#000" stroke-width="1.0"/>
<text x="487.60" y="242.39" font-size="8.3">50 kD</text>
<line x1="480.40" y1="251.80" x2="486.40" y2="251.80" stroke="#000" stroke-width="1.0"/>
<text x="487.60" y="254.79" font-size="8.3">50 kD</text>
<line x1="480.40" y1="269.60" x2="486.40" y2="269.60" stroke="#000" stroke-width="1.0"/>
<text x="487.60" y="272.59" font-size="8.3">37 kD</text>
<text x="431.50" y="200.70" font-size="8.4" transform="rotate(-45 431.50 200.70)">siCtrl</text>
<text x="459.50" y="199.20" font-size="8.4" transform="rotate(-45 459.50 199.20)">siYAP+TAZ</text>
<text x="556.70" y="172.00" font-size="11">E</text>
<clipPath id="bc9"><rect x="598.10" y="206.40" width="56.40" height="16.30"/></clipPath>
<rect x="598.10" y="206.40" width="56.40" height="16.30" fill="#f7f7f7"/>
<g clip-path="url(#bc9)">
<rect x="601.40" y="211.50" width="24.00" height="4.60" rx="2.07" fill="#0a0a0a" opacity="1" filter="url(#bl)"/>
<rect x="631.60" y="212.30" width="21.10" height="6.00" rx="2.70" fill="#0a0a0a" opacity="1" filter="url(#bl)"/>
<rect x="632.00" y="218.50" width="20.00" height="2.00" rx="0.90" fill="#0a0a0a" opacity="0.2" filter="url(#bl)"/>
</g>
<rect x="598.10" y="206.40" width="56.40" height="16.30" fill="none" stroke="#000" stroke-width="1.3"/>
<clipPath id="bc10"><rect x="598.10" y="226.50" width="56.40" height="15.80"/></clipPath>
<rect x="598.10" y="226.50" width="56.40" height="15.80" fill="#f7f7f7"/>
<g clip-path="url(#bc10)">
<rect x="601.40" y="232.40" width="24.00" height="5.00" rx="2.25" fill="#0a0a0a" opacity="1" filter="url(#bl)"/>
<rect x="631.00" y="231.60" width="22.00" height="6.60" rx="2.97" fill="#0a0a0a" opacity="1" filter="url(#bl)"/>
</g>
<rect x="598.10" y="226.50" width="56.40" height="15.80" fill="none" stroke="#000" stroke-width="1.3"/>
<clipPath id="bc11"><rect x="598.10" y="244.80" width="56.40" height="17.40"/></clipPath>
<rect x="598.10" y="244.80" width="56.40" height="17.40" fill="#f7f7f7"/>
<g clip-path="url(#bc11)">
<rect x="600.00" y="251.20" width="22.00" height="4.60" rx="2.07" fill="#0a0a0a" opacity="1" filter="url(#bl)"/>
<rect x="632.00" y="252.55" width="20.00" height="2.50" rx="1.12" fill="#0a0a0a" opacity="0.08" filter="url(#bl)"/>
</g>
<rect x="598.10" y="244.80" width="56.40" height="17.40" fill="none" stroke="#000" stroke-width="1.3"/>
<clipPath id="bc12"><rect x="598.10" y="265.40" width="56.40" height="13.60"/></clipPath>
<rect x="598.10" y="265.40" width="56.40" height="13.60" fill="#f7f7f7"/>
<g clip-path="url(#bc12)">
<rect x="598.00" y="269.00" width="30.00" height="5.20" rx="2.34" fill="#0a0a0a" opacity="1" filter="url(#bl)"/>
<rect x="626.00" y="269.00" width="29.00" height="5.20" rx="2.34" fill="#0a0a0a" opacity="1" filter="url(#bl)"/>
</g>
<rect x="598.10" y="265.40" width="56.40" height="13.60" fill="none" stroke="#000" stroke-width="1.3"/>
<text x="588.20" y="218.40" font-size="8.4" text-anchor="end">YAP</text>
<text x="588.20" y="238.00" font-size="8.4" text-anchor="end">TAZ</text>
<text x="588.20" y="257.40" font-size="8.4" text-anchor="end">Pan-TEAD</text>
<text x="588.20" y="277.20" font-size="8.4" text-anchor="end">GAPDH</text>
<line x1="654.50" y1="207.90" x2="660.50" y2="207.90" stroke="#000" stroke-width="1.0"/>
<text x="661.70" y="210.89" font-size="8.3">75 kD</text>
<line x1="654.50" y1="235.60" x2="660.50" y2="235.60" stroke="#000" stroke-width="1.0"/>
<text x="661.70" y="238.59" font-size="8.3">50 kD</text>
<line x1="654.50" y1="254.30" x2="660.50" y2="254.30" stroke="#000" stroke-width="1.0"/>
<text x="661.70" y="257.29" font-size="8.3">50 kD</text>
<line x1="654.50" y1="269.80" x2="660.50" y2="269.80" stroke="#000" stroke-width="1.0"/>
<text x="661.70" y="272.79" font-size="8.3">37 kD</text>
<text x="607.80" y="200.70" font-size="8.4" transform="rotate(-45 607.80 200.70)">siCtrl</text>
<text x="635.00" y="199.20" font-size="8.4" transform="rotate(-45 635.00 199.20)">siTEAD1+4</text>
<defs><filter id="nb" x="-50%" y="-50%" width="200%" height="200%"><feGaussianBlur stdDeviation="1.1"/></filter><filter id="nb2" x="-50%" y="-50%" width="200%" height="200%"><feGaussianBlur stdDeviation="1.5"/></filter><filter id="cb" x="-50%" y="-50%" width="200%" height="200%"><feGaussianBlur stdDeviation="3"/></filter></defs>
<rect x="391.00" y="309.00" width="263.00" height="262.00" fill="#1a1a10"/>
<clipPath id="fc00"><rect x="391.0" y="309.0" width="88.0" height="88.0"/></clipPath>
<rect x="391.00" y="309.00" width="88.00" height="88.00" fill="#642d08"/>
<g clip-path="url(#fc00)">
<ellipse cx="448.4" cy="307.4" rx="12.2" ry="9.9" fill="#6e3009" opacity="0.3" filter="url(#cb)"/>
<ellipse cx="452.0" cy="390.6" rx="11.7" ry="9.8" fill="#6e3009" opacity="0.3" filter="url(#cb)"/>
<ellipse cx="408.0" cy="353.5" rx="11.5" ry="9.3" fill="#6e3009" opacity="0.3" filter="url(#cb)"/>
<ellipse cx="439.3" cy="326.2" rx="13.2" ry="11.8" fill="#6e3009" opacity="0.3" filter="url(#cb)"/>
<ellipse cx="464.4" cy="372.0" rx="12.4" ry="10.0" fill="#6e3009" opacity="0.3" filter="url(#cb)"/>
<ellipse cx="419.3" cy="313.9" rx="11.7" ry="10.5" fill="#6e3009" opacity="0.3" filter="url(#cb)"/>
<ellipse cx="408.9" cy="332.8" rx="11.6" ry="9.5" fill="#6e3009" opacity="0.3" filter="url(#cb)"/>
<ellipse cx="423.4" cy="400.0" rx="13.3" ry="11.5" fill="#6e3009" opacity="0.3" filter="url(#cb)"/>
<ellipse cx="407.3" cy="395.5" rx="14.1" ry="11.6" fill="#6e3009" opacity="0.3" filter="url(#cb)"/>
<ellipse cx="473.2" cy="343.3" rx="12.1" ry="11.1" fill="#6e3009" opacity="0.3" filter="url(#cb)"/>
<ellipse cx="395.7" cy="309.5" rx="11.7" ry="10.2" fill="#6e3009" opacity="0.3" filter="url(#cb)"/>
<ellipse cx="469.6" cy="306.1" rx="13.6" ry="11.9" fill="#6e3009" opacity="0.3" filter="url(#cb)"/>
<ellipse cx="474.6" cy="388.6" rx="12.3" ry="10.7" fill="#6e3009" opacity="0.3" filter="url(#cb)"/>
<ellipse cx="401.7" cy="378.2" rx="13.0" ry="11.6" fill="#6e3009" opacity="0.3" filter="url(#cb)"/>
<ellipse cx="387.1" cy="336.1" rx="11.5" ry="10.4" fill="#6e3009" opacity="0.3" filter="url(#cb)"/>
<ellipse cx="457.1" cy="324.3" rx="12.3" ry="11.4" fill="#6e3009" opacity="0.3" filter="url(#cb)"/>
<ellipse cx="429.1" cy="354.7" rx="11.8" ry="9.5" fill="#6e3009" opacity="0.3" filter="url(#cb)"/>
<ellipse cx="431.8" cy="375.0" rx="13.4" ry="12.3" fill="#6e3009" opacity="0.3" filter="url(#cb)"/>
<ellipse cx="425.7" cy="337.6" rx="14.0" ry="11.4" fill="#6e3009" opacity="0.3" filter="url(#cb)"/>
<ellipse cx="391.9" cy="400.9" rx="13.9" ry="12.8" fill="#6e3009" opacity="0.3" filter="url(#cb)"/>
<ellipse cx="480.0" cy="360.6" rx="13.0" ry="11.5" fill="#6e3009" opacity="0.3" filter="url(#cb)"/>
<ellipse cx="446.5" cy="345.2" rx="13.2" ry="11.2" fill="#6e3009" opacity="0.3" filter="url(#cb)"/>
<ellipse cx="473.3" cy="325.2" rx="12.2" ry="9.7" fill="#6e3009" opacity="0.3" filter="url(#cb)"/>
<ellipse cx="448.4" cy="307.4" rx="6.4" ry="5.2" transform="rotate(19 448.4 307.4)" fill="#ad490f" filter="url(#nb)"/>
<ellipse cx="452.0" cy="390.6" rx="6.1" ry="5.2" transform="rotate(-38 452.0 390.6)" fill="#9a420d" filter="url(#nb)"/>
<ellipse cx="408.0" cy="353.5" rx="6.0" ry="4.9" transform="rotate(12 408.0 353.5)" fill="#a3450e" filter="url(#nb)"/>
<ellipse cx="439.3" cy="326.2" rx="6.9" ry="6.2" transform="rotate(-39 439.3 326.2)" fill="#903d0c" filter="url(#nb)"/>
<ellipse cx="464.4" cy="372.0" rx="6.5" ry="5.2" transform="rotate(37 464.4 372.0)" fill="#af4a10" filter="url(#nb)"/>
<ellipse cx="419.3" cy="313.9" rx="6.2" ry="5.5" transform="rotate(8 419.3 313.9)" fill="#ad490f" filter="url(#nb)"/>
<ellipse cx="408.9" cy="332.8" rx="6.1" ry="5.0" transform="rotate(-32 408.9 332.8)" fill="#b14b10" filter="url(#nb)"/>
<ellipse cx="423.4" cy="400.0" rx="7.0" ry="6.0" transform="rotate(15 423.4 400.0)" fill="#aa480f" filter="url(#nb)"/>
<ellipse cx="407.3" cy="395.5" rx="7.4" ry="6.1" transform="rotate(12 407.3 395.5)" fill="#ad490f" filter="url(#nb)"/>
<ellipse cx="473.2" cy="343.3" rx="6.4" ry="5.8" transform="rotate(1 473.2 343.3)" fill="#8b3b0b" filter="url(#nb)"/>
<ellipse cx="395.7" cy="309.5" rx="6.2" ry="5.4" transform="rotate(23 395.7 309.5)" fill="#a7470f" filter="url(#nb)"/>
<ellipse cx="469.6" cy="306.1" rx="7.2" ry="6.3" transform="rotate(3 469.6 306.1)" fill="#97400d" filter="url(#nb)"/>
<ellipse cx="474.6" cy="388.6" rx="6.5" ry="5.6" transform="rotate(9 474.6 388.6)" fill="#af4a10" filter="url(#nb)"/>
<ellipse cx="401.7" cy="378.2" rx="6.9" ry="6.1" transform="rotate(2 401.7 378.2)" fill="#aa480f" filter="url(#nb)"/>
<ellipse cx="387.1" cy="336.1" rx="6.0" ry="5.5" transform="rotate(30 387.1 336.1)" fill="#ad490f" filter="url(#nb)"/>
<ellipse cx="457.1" cy="324.3" rx="6.5" ry="6.0" transform="rotate(12 457.1 324.3)" fill="#aa480f" filter="url(#nb)"/>
<ellipse cx="429.1" cy="354.7" rx="6.2" ry="5.0" transform="rotate(-13 429.1 354.7)" fill="#953f0c" filter="url(#nb)"/>
<ellipse cx="431.8" cy="375.0" rx="7.1" ry="6.5" transform="rotate(-32 431.8 375.0)" fill="#a9480f" filter="url(#nb)"/>
<ellipse cx="425.7" cy="337.6" rx="7.4" ry="6.0" transform="rotate(-25 425.7 337.6)" fill="#8e3d0c" filter="url(#nb)"/>
<ellipse cx="391.9" cy="400.9" rx="7.3" ry="6.7" transform="rotate(34 391.9 400.9)" fill="#ad490f" filter="url(#nb)"/>
<ellipse cx="480.0" cy="360.6" rx="6.9" ry="6.1" transform="rotate(-35 480.0 360.6)" fill="#ac490f" filter="url(#nb)"/>
<ellipse cx="446.5" cy="345.2" rx="6.9" ry="5.9" transform="rotate(35 446.5 345.2)" fill="#933f0c" filter="url(#nb)"/>
<ellipse cx="473.3" cy="325.2" rx="6.4" ry="5.1" transform="rotate(22 473.3 325.2)" fill="#ab480f" filter="url(#nb)"/>
</g>
<clipPath id="fc01"><rect x="479.0" y="309.0" width="88.0" height="88.0"/></clipPath>
<rect x="479.00" y="309.00" width="88.00" height="88.00" fill="#1c4609"/>
<g clip-path="url(#fc01)">
<ellipse cx="536.4" cy="307.4" rx="12.2" ry="9.9" fill="#22530c" opacity="0.2" filter="url(#cb)"/>
<ellipse cx="540.0" cy="390.6" rx="11.7" ry="9.8" fill="#22530c" opacity="0.2" filter="url(#cb)"/>
<ellipse cx="496.0" cy="353.5" rx="11.5" ry="9.3" fill="#22530c" opacity="0.2" filter="url(#cb)"/>
<ellipse cx="527.3" cy="326.2" rx="13.2" ry="11.8" fill="#22530c" opacity="0.2" filter="url(#cb)"/>
<ellipse cx="552.4" cy="372.0" rx="12.4" ry="10.0" fill="#22530c" opacity="0.2" filter="url(#cb)"/>
<ellipse cx="507.3" cy="313.9" rx="11.7" ry="10.5" fill="#22530c" opacity="0.2" filter="url(#cb)"/>
<ellipse cx="496.9" cy="332.8" rx="11.6" ry="9.5" fill="#22530c" opacity="0.2" filter="url(#cb)"/>
<ellipse cx="511.4" cy="400.0" rx="13.3" ry="11.5" fill="#22530c" opacity="0.2" filter="url(#cb)"/>
<ellipse cx="495.3" cy="395.5" rx="14.1" ry="11.6" fill="#22530c" opacity="0.2" filter="url(#cb)"/>
<ellipse cx="561.2" cy="343.3" rx="12.1" ry="11.1" fill="#22530c" opacity="0.2" filter="url(#cb)"/>
<ellipse cx="483.7" cy="309.5" rx="11.7" ry="10.2" fill="#22530c" opacity="0.2" filter="url(#cb)"/>
<ellipse cx="557.6" cy="306.1" rx="13.6" ry="11.9" fill="#22530c" opacity="0.2" filter="url(#cb)"/>
<ellipse cx="562.6" cy="388.6" rx="12.3" ry="10.7" fill="#22530c" opacity="0.2" filter="url(#cb)"/>
<ellipse cx="489.7" cy="378.2" rx="13.0" ry="11.6" fill="#22530c" opacity="0.2" filter="url(#cb)"/>
<ellipse cx="475.1" cy="336.1" rx="11.5" ry="10.4" fill="#22530c" opacity="0.2" filter="url(#cb)"/>
<ellipse cx="545.1" cy="324.3" rx="12.3" ry="11.4" fill="#22530c" opacity="0.2" filter="url(#cb)"/>
<ellipse cx="517.1" cy="354.7" rx="11.8" ry="9.5" fill="#22530c" opacity="0.2" filter="url(#cb)"/>
<ellipse cx="519.8" cy="375.0" rx="13.4" ry="12.3" fill="#22530c" opacity="0.2" filter="url(#cb)"/>
<ellipse cx="513.7" cy="337.6" rx="14.0" ry="11.4" fill="#22530c" opacity="0.2" filter="url(#cb)"/>
<ellipse cx="479.9" cy="400.9" rx="13.9" ry="12.8" fill="#22530c" opacity="0.2" filter="url(#cb)"/>
<ellipse cx="568.0" cy="360.6" rx="13.0" ry="11.5" fill="#22530c" opacity="0.2" filter="url(#cb)"/>
<ellipse cx="534.5" cy="345.2" rx="13.2" ry="11.2" fill="#22530c" opacity="0.2" filter="url(#cb)"/>
<ellipse cx="561.3" cy="325.2" rx="12.2" ry="9.7" fill="#22530c" opacity="0.2" filter="url(#cb)"/>
<ellipse cx="536.4" cy="307.4" rx="5.5" ry="4.4" transform="rotate(19 536.4 307.4)" fill="#449f1b" filter="url(#nb)"/>
<ellipse cx="540.0" cy="390.6" rx="5.2" ry="4.4" transform="rotate(-38 540.0 390.6)" fill="#3e9219" filter="url(#nb)"/>
<ellipse cx="496.0" cy="353.5" rx="5.1" ry="4.1" transform="rotate(12 496.0 353.5)" fill="#4fba21" filter="url(#nb)"/>
<ellipse cx="527.3" cy="326.2" rx="5.9" ry="5.3" transform="rotate(-39 527.3 326.2)" fill="#29630f" filter="url(#nb)"/>
<ellipse cx="552.4" cy="372.0" rx="5.6" ry="4.5" transform="rotate(37 552.4 372.0)" fill="#29630f" filter="url(#nb)"/>
<ellipse cx="507.3" cy="313.9" rx="5.2" ry="4.7" transform="rotate(8 507.3 313.9)" fill="#29630f" filter="url(#nb)"/>
<ellipse cx="496.9" cy="332.8" rx="5.2" ry="4.2" transform="rotate(-32 496.9 332.8)" fill="#3f9419" filter="url(#nb)"/>
<ellipse cx="511.4" cy="400.0" rx="6.0" ry="5.1" transform="rotate(15 511.4 400.0)" fill="#51bf22" filter="url(#nb)"/>
<ellipse cx="495.3" cy="395.5" rx="6.3" ry="5.2" transform="rotate(12 495.3 395.5)" fill="#55c723" filter="url(#nb)"/>
<ellipse cx="561.2" cy="343.3" rx="5.4" ry="5.0" transform="rotate(1 561.2 343.3)" fill="#3d9018" filter="url(#nb)"/>
<ellipse cx="483.7" cy="309.5" rx="5.2" ry="4.6" transform="rotate(23 483.7 309.5)" fill="#4aad1e" filter="url(#nb)"/>
<ellipse cx="557.6" cy="306.1" rx="6.1" ry="5.3" transform="rotate(3 557.6 306.1)" fill="#429a1a" filter="url(#nb)"/>
<ellipse cx="562.6" cy="388.6" rx="5.5" ry="4.8" transform="rotate(9 562.6 388.6)" fill="#55c824" filter="url(#nb)"/>
<ellipse cx="489.7" cy="378.2" rx="5.8" ry="5.2" transform="rotate(2 489.7 378.2)" fill="#46a51d" filter="url(#nb)"/>
<ellipse cx="475.1" cy="336.1" rx="5.1" ry="4.7" transform="rotate(30 475.1 336.1)" fill="#54c523" filter="url(#nb)"/>
<ellipse cx="545.1" cy="324.3" rx="5.5" ry="5.1" transform="rotate(12 545.1 324.3)" fill="#29630f" filter="url(#nb)"/>
<ellipse cx="517.1" cy="354.7" rx="5.3" ry="4.3" transform="rotate(-13 517.1 354.7)" fill="#55c824" filter="url(#nb)"/>
<ellipse cx="519.8" cy="375.0" rx="6.0" ry="5.5" transform="rotate(-32 519.8 375.0)" fill="#29630f" filter="url(#nb)"/>
<ellipse cx="513.7" cy="337.6" rx="6.3" ry="5.1" transform="rotate(-25 513.7 337.6)" fill="#55c723" filter="url(#nb)"/>
<ellipse cx="479.9" cy="400.9" rx="6.2" ry="5.7" transform="rotate(34 479.9 400.9)" fill="#3d8f18" filter="url(#nb)"/>
<ellipse cx="568.0" cy="360.6" rx="5.8" ry="5.2" transform="rotate(-35 568.0 360.6)" fill="#29630f" filter="url(#nb)"/>
<ellipse cx="534.5" cy="345.2" rx="5.9" ry="5.0" transform="rotate(35 534.5 345.2)" fill="#439d1b" filter="url(#nb)"/>
<ellipse cx="561.3" cy="325.2" rx="5.4" ry="4.3" transform="rotate(22 561.3 325.2)" fill="#4db420" filter="url(#nb)"/>
</g>
<clipPath id="fc02"><rect x="567.0" y="309.0" width="87.0" height="88.0"/></clipPath>
<rect x="567.00" y="309.00" width="87.00" height="88.00" fill="#02021e"/>
<g clip-path="url(#fc02)">
<ellipse cx="624.4" cy="307.4" rx="6.4" ry="5.2" transform="rotate(19 624.4 307.4)" fill="#132d99" filter="url(#nb2)"/>
<ellipse cx="628.0" cy="390.6" rx="6.1" ry="5.2" transform="rotate(-38 628.0 390.6)" fill="#142f9e" filter="url(#nb2)"/>
<ellipse cx="584.0" cy="353.5" rx="6.0" ry="4.9" transform="rotate(12 584.0 353.5)" fill="#142f9c" filter="url(#nb2)"/>
<ellipse cx="615.3" cy="326.2" rx="6.9" ry="6.2" transform="rotate(-39 615.3 326.2)" fill="#132e9a" filter="url(#nb2)"/>
<ellipse cx="640.4" cy="372.0" rx="6.5" ry="5.2" transform="rotate(37 640.4 372.0)" fill="#142f9e" filter="url(#nb2)"/>
<ellipse cx="595.3" cy="313.9" rx="6.2" ry="5.5" transform="rotate(8 595.3 313.9)" fill="#132d98" filter="url(#nb2)"/>
<ellipse cx="584.9" cy="332.8" rx="6.1" ry="5.0" transform="rotate(-32 584.9 332.8)" fill="#1430a0" filter="url(#nb2)"/>
<ellipse cx="599.4" cy="400.0" rx="7.0" ry="6.0" transform="rotate(15 599.4 400.0)" fill="#122b94" filter="url(#nb2)"/>
<ellipse cx="583.3" cy="395.5" rx="7.4" ry="6.1" transform="rotate(12 583.3 395.5)" fill="#1531a4" filter="url(#nb2)"/>
<ellipse cx="649.2" cy="343.3" rx="6.4" ry="5.8" transform="rotate(1 649.2 343.3)" fill="#142f9d" filter="url(#nb2)"/>
<ellipse cx="571.7" cy="309.5" rx="6.2" ry="5.4" transform="rotate(23 571.7 309.5)" fill="#1430a0" filter="url(#nb2)"/>
<ellipse cx="645.6" cy="306.1" rx="7.2" ry="6.3" transform="rotate(3 645.6 306.1)" fill="#1430a0" filter="url(#nb2)"/>
<ellipse cx="650.6" cy="388.6" rx="6.5" ry="5.6" transform="rotate(9 650.6 388.6)" fill="#14309f" filter="url(#nb2)"/>
<ellipse cx="577.7" cy="378.2" rx="6.9" ry="6.1" transform="rotate(2 577.7 378.2)" fill="#132e9a" filter="url(#nb2)"/>
<ellipse cx="563.1" cy="336.1" rx="6.0" ry="5.5" transform="rotate(30 563.1 336.1)" fill="#122b95" filter="url(#nb2)"/>
<ellipse cx="633.1" cy="324.3" rx="6.5" ry="6.0" transform="rotate(12 633.1 324.3)" fill="#14309f" filter="url(#nb2)"/>
<ellipse cx="605.1" cy="354.7" rx="6.2" ry="5.0" transform="rotate(-13 605.1 354.7)" fill="#132d99" filter="url(#nb2)"/>
<ellipse cx="607.8" cy="375.0" rx="7.1" ry="6.5" transform="rotate(-32 607.8 375.0)" fill="#132d99" filter="url(#nb2)"/>
<ellipse cx="601.7" cy="337.6" rx="7.4" ry="6.0" transform="rotate(-25 601.7 337.6)" fill="#1531a2" filter="url(#nb2)"/>
<ellipse cx="567.9" cy="400.9" rx="7.3" ry="6.7" transform="rotate(34 567.9 400.9)" fill="#1430a0" filter="url(#nb2)"/>
<ellipse cx="656.0" cy="360.6" rx="6.9" ry="6.1" transform="rotate(-35 656.0 360.6)" fill="#132d99" filter="url(#nb2)"/>
<ellipse cx="622.5" cy="345.2" rx="6.9" ry="5.9" transform="rotate(35 622.5 345.2)" fill="#132d99" filter="url(#nb2)"/>
<ellipse cx="649.3" cy="325.2" rx="6.4" ry="5.1" transform="rotate(22 649.3 325.2)" fill="#132e9b" filter="url(#nb2)"/>
</g>
<clipPath id="fc10"><rect x="391.0" y="397.0" width="88.0" height="87.0"/></clipPath>
<rect x="391.00" y="397.00" width="88.00" height="87.00" fill="#441f06"/>
<g clip-path="url(#fc10)">
<ellipse cx="425.6" cy="421.4" rx="11.0" ry="9.3" fill="#4a2106" opacity="0.3" filter="url(#cb)"/>
<ellipse cx="452.0" cy="479.7" rx="12.5" ry="10.3" fill="#4a2106" opacity="0.3" filter="url(#cb)"/>
<ellipse cx="387.0" cy="420.5" rx="11.9" ry="10.3" fill="#4a2106" opacity="0.3" filter="url(#cb)"/>
<ellipse cx="407.5" cy="438.4" rx="13.4" ry="11.9" fill="#4a2106" opacity="0.3" filter="url(#cb)"/>
<ellipse cx="447.8" cy="425.2" rx="13.1" ry="11.6" fill="#4a2106" opacity="0.3" filter="url(#cb)"/>
<ellipse cx="408.6" cy="412.1" rx="10.7" ry="8.7" fill="#4a2106" opacity="0.3" filter="url(#cb)"/>
<ellipse cx="468.6" cy="400.0" rx="11.9" ry="10.3" fill="#4a2106" opacity="0.3" filter="url(#cb)"/>
<ellipse cx="410.4" cy="456.0" rx="10.7" ry="9.4" fill="#4a2106" opacity="0.3" filter="url(#cb)"/>
<ellipse cx="403.9" cy="485.0" rx="12.2" ry="9.6" fill="#4a2106" opacity="0.3" filter="url(#cb)"/>
<ellipse cx="468.4" cy="436.8" rx="13.1" ry="11.4" fill="#4a2106" opacity="0.3" filter="url(#cb)"/>
<ellipse cx="473.1" cy="464.4" rx="12.1" ry="9.9" fill="#4a2106" opacity="0.3" filter="url(#cb)"/>
<ellipse cx="437.0" cy="453.2" rx="11.5" ry="9.1" fill="#4a2106" opacity="0.3" filter="url(#cb)"/>
<ellipse cx="438.9" cy="406.3" rx="11.3" ry="9.9" fill="#4a2106" opacity="0.3" filter="url(#cb)"/>
<ellipse cx="466.9" cy="417.2" rx="10.9" ry="8.5" fill="#4a2106" opacity="0.3" filter="url(#cb)"/>
<ellipse cx="483.0" cy="426.6" rx="12.6" ry="11.2" fill="#4a2106" opacity="0.3" filter="url(#cb)"/>
<ellipse cx="406.1" cy="395.0" rx="11.1" ry="8.9" fill="#4a2106" opacity="0.3" filter="url(#cb)"/>
<ellipse cx="396.8" cy="467.2" rx="13.2" ry="11.4" fill="#4a2106" opacity="0.3" filter="url(#cb)"/>
<ellipse cx="419.8" cy="474.6" rx="13.1" ry="10.4" fill="#4a2106" opacity="0.3" filter="url(#cb)"/>
<ellipse cx="423.4" cy="395.8" rx="13.2" ry="10.7" fill="#4a2106" opacity="0.3" filter="url(#cb)"/>
<ellipse cx="388.4" cy="444.3" rx="11.5" ry="10.5" fill="#4a2106" opacity="0.3" filter="url(#cb)"/>
<ellipse cx="453.1" cy="460.2" rx="13.5" ry="11.5" fill="#4a2106" opacity="0.3" filter="url(#cb)"/>
<ellipse cx="425.6" cy="421.4" rx="5.8" ry="4.9" transform="rotate(35 425.6 421.4)" fill="#512407" filter="url(#nb)"/>
<ellipse cx="452.0" cy="479.7" rx="6.6" ry="5.4" transform="rotate(4 452.0 479.7)" fill="#512407" filter="url(#nb)"/>
<ellipse cx="387.0" cy="420.5" rx="6.3" ry="5.4" transform="rotate(12 387.0 420.5)" fill="#6c2f0a" filter="url(#nb)"/>
<ellipse cx="407.5" cy="438.4" rx="7.0" ry="6.3" transform="rotate(-26 407.5 438.4)" fill="#512407" filter="url(#nb)"/>
<ellipse cx="447.8" cy="425.2" rx="6.9" ry="6.1" transform="rotate(14 447.8 425.2)" fill="#512407" filter="url(#nb)"/>
<ellipse cx="408.6" cy="412.1" rx="5.6" ry="4.6" transform="rotate(-2 408.6 412.1)" fill="#512407" filter="url(#nb)"/>
<ellipse cx="468.6" cy="400.0" rx="6.3" ry="5.4" transform="rotate(-24 468.6 400.0)" fill="#82380c" filter="url(#nb)"/>
<ellipse cx="410.4" cy="456.0" rx="5.6" ry="5.0" transform="rotate(22 410.4 456.0)" fill="#7d360b" filter="url(#nb)"/>
<ellipse cx="403.9" cy="485.0" rx="6.4" ry="5.1" transform="rotate(-20 403.9 485.0)" fill="#72320a" filter="url(#nb)"/>
<ellipse cx="468.4" cy="436.8" rx="6.9" ry="6.0" transform="rotate(39 468.4 436.8)" fill="#82380c" filter="url(#nb)"/>
<ellipse cx="473.1" cy="464.4" rx="6.4" ry="5.2" transform="rotate(-20 473.1 464.4)" fill="#84390c" filter="url(#nb)"/>
<ellipse cx="437.0" cy="453.2" rx="6.0" ry="4.8" transform="rotate(-17 437.0 453.2)" fill="#76330b" filter="url(#nb)"/>
<ellipse cx="438.9" cy="406.3" rx="6.0" ry="5.2" transform="rotate(17 438.9 406.3)" fill="#512407" filter="url(#nb)"/>
<ellipse cx="466.9" cy="417.2" rx="5.7" ry="4.5" transform="rotate(3 466.9 417.2)" fill="#512407" filter="url(#nb)"/>
<ellipse cx="483.0" cy="426.6" rx="6.6" ry="5.9" transform="rotate(12 483.0 426.6)" fill="#7a350b" filter="url(#nb)"/>
<ellipse cx="406.1" cy="395.0" rx="5.8" ry="4.7" transform="rotate(14 406.1 395.0)" fill="#6e300a" filter="url(#nb)"/>
<ellipse cx="396.8" cy="467.2" rx="7.0" ry="6.0" transform="rotate(-30 396.8 467.2)" fill="#75330b" filter="url(#nb)"/>
<ellipse cx="419.8" cy="474.6" rx="6.9" ry="5.5" transform="rotate(37 419.8 474.6)" fill="#80380c" filter="url(#nb)"/>
<ellipse cx="423.4" cy="395.8" rx="7.0" ry="5.6" transform="rotate(-23 423.4 395.8)" fill="#512407" filter="url(#nb)"/>
<ellipse cx="388.4" cy="444.3" rx="6.0" ry="5.5" transform="rotate(4 388.4 444.3)" fill="#73320a" filter="url(#nb)"/>
<ellipse cx="453.1" cy="460.2" rx="7.1" ry="6.0" transform="rotate(-0 453.1 460.2)" fill="#75330b" filter="url(#nb)"/>
</g>
<clipPath id="fc11"><rect x="479.0" y="397.0" width="88.0" height="87.0"/></clipPath>
<rect x="479.00" y="397.00" width="88.00" height="87.00" fill="#143506"/>
<g clip-path="url(#fc11)">
<ellipse cx="513.6" cy="421.4" rx="11.0" ry="9.3" fill="#1a4409" opacity="0.2" filter="url(#cb)"/>
<ellipse cx="540.0" cy="479.7" rx="12.5" ry="10.3" fill="#1a4409" opacity="0.2" filter="url(#cb)"/>
<ellipse cx="475.0" cy="420.5" rx="11.9" ry="10.3" fill="#1a4409" opacity="0.2" filter="url(#cb)"/>
<ellipse cx="495.5" cy="438.4" rx="13.4" ry="11.9" fill="#1a4409" opacity="0.2" filter="url(#cb)"/>
<ellipse cx="535.8" cy="425.2" rx="13.1" ry="11.6" fill="#1a4409" opacity="0.2" filter="url(#cb)"/>
<ellipse cx="496.6" cy="412.1" rx="10.7" ry="8.7" fill="#1a4409" opacity="0.2" filter="url(#cb)"/>
<ellipse cx="556.6" cy="400.0" rx="11.9" ry="10.3" fill="#1a4409" opacity="0.2" filter="url(#cb)"/>
<ellipse cx="498.4" cy="456.0" rx="10.7" ry="9.4" fill="#1a4409" opacity="0.2" filter="url(#cb)"/>
<ellipse cx="491.9" cy="485.0" rx="12.2" ry="9.6" fill="#1a4409" opacity="0.2" filter="url(#cb)"/>
<ellipse cx="556.4" cy="436.8" rx="13.1" ry="11.4" fill="#1a4409" opacity="0.2" filter="url(#cb)"/>
<ellipse cx="561.1" cy="464.4" rx="12.1" ry="9.9" fill="#1a4409" opacity="0.2" filter="url(#cb)"/>
<ellipse cx="525.0" cy="453.2" rx="11.5" ry="9.1" fill="#1a4409" opacity="0.2" filter="url(#cb)"/>
<ellipse cx="526.9" cy="406.3" rx="11.3" ry="9.9" fill="#1a4409" opacity="0.2" filter="url(#cb)"/>
<ellipse cx="554.9" cy="417.2" rx="10.9" ry="8.5" fill="#1a4409" opacity="0.2" filter="url(#cb)"/>
<ellipse cx="571.0" cy="426.6" rx="12.6" ry="11.2" fill="#1a4409" opacity="0.2" filter="url(#cb)"/>
<ellipse cx="494.1" cy="395.0" rx="11.1" ry="8.9" fill="#1a4409" opacity="0.2" filter="url(#cb)"/>
<ellipse cx="484.8" cy="467.2" rx="13.2" ry="11.4" fill="#1a4409" opacity="0.2" filter="url(#cb)"/>
<ellipse cx="507.8" cy="474.6" rx="13.1" ry="10.4" fill="#1a4409" opacity="0.2" filter="url(#cb)"/>
<ellipse cx="511.4" cy="395.8" rx="13.2" ry="10.7" fill="#1a4409" opacity="0.2" filter="url(#cb)"/>
<ellipse cx="476.4" cy="444.3" rx="11.5" ry="10.5" fill="#1a4409" opacity="0.2" filter="url(#cb)"/>
<ellipse cx="541.1" cy="460.2" rx="13.5" ry="11.5" fill="#1a4409" opacity="0.2" filter="url(#cb)"/>
<ellipse cx="513.6" cy="421.4" rx="4.9" ry="4.1" transform="rotate(35 513.6 421.4)" fill="#3f9e19" filter="url(#nb)"/>
<ellipse cx="540.0" cy="479.7" rx="5.6" ry="4.6" transform="rotate(4 540.0 479.7)" fill="#22550c" filter="url(#nb)"/>
<ellipse cx="475.0" cy="420.5" rx="5.3" ry="4.6" transform="rotate(12 475.0 420.5)" fill="#3a9017" filter="url(#nb)"/>
<ellipse cx="495.5" cy="438.4" rx="6.0" ry="5.3" transform="rotate(-26 495.5 438.4)" fill="#398f17" filter="url(#nb)"/>
<ellipse cx="535.8" cy="425.2" rx="5.9" ry="5.2" transform="rotate(14 535.8 425.2)" fill="#46ae1c" filter="url(#nb)"/>
<ellipse cx="496.6" cy="412.1" rx="4.8" ry="3.9" transform="rotate(-2 496.6 412.1)" fill="#4dc020" filter="url(#nb)"/>
<ellipse cx="556.6" cy="400.0" rx="5.3" ry="4.6" transform="rotate(-24 556.6 400.0)" fill="#398f17" filter="url(#nb)"/>
<ellipse cx="498.4" cy="456.0" rx="4.8" ry="4.2" transform="rotate(22 498.4 456.0)" fill="#47b11d" filter="url(#nb)"/>
<ellipse cx="491.9" cy="485.0" rx="5.5" ry="4.3" transform="rotate(-20 491.9 485.0)" fill="#388b16" filter="url(#nb)"/>
<ellipse cx="556.4" cy="436.8" rx="5.8" ry="5.1" transform="rotate(39 556.4 436.8)" fill="#50c821" filter="url(#nb)"/>
<ellipse cx="561.1" cy="464.4" rx="5.4" ry="4.4" transform="rotate(-20 561.1 464.4)" fill="#4bbc1f" filter="url(#nb)"/>
<ellipse cx="525.0" cy="453.2" rx="5.1" ry="4.1" transform="rotate(-17 525.0 453.2)" fill="#41a31a" filter="url(#nb)"/>
<ellipse cx="526.9" cy="406.3" rx="5.1" ry="4.5" transform="rotate(17 526.9 406.3)" fill="#3e9a19" filter="url(#nb)"/>
<ellipse cx="554.9" cy="417.2" rx="4.9" ry="3.8" transform="rotate(3 554.9 417.2)" fill="#398d16" filter="url(#nb)"/>
<ellipse cx="571.0" cy="426.6" rx="5.6" ry="5.0" transform="rotate(12 571.0 426.6)" fill="#398e16" filter="url(#nb)"/>
<ellipse cx="494.1" cy="395.0" rx="5.0" ry="4.0" transform="rotate(14 494.1 395.0)" fill="#51ca21" filter="url(#nb)"/>
<ellipse cx="484.8" cy="467.2" rx="5.9" ry="5.1" transform="rotate(-30 484.8 467.2)" fill="#3c9618" filter="url(#nb)"/>
<ellipse cx="507.8" cy="474.6" rx="5.9" ry="4.7" transform="rotate(37 507.8 474.6)" fill="#40a01a" filter="url(#nb)"/>
<ellipse cx="511.4" cy="395.8" rx="5.9" ry="4.8" transform="rotate(-23 511.4 395.8)" fill="#52cc22" filter="url(#nb)"/>
<ellipse cx="476.4" cy="444.3" rx="5.1" ry="4.7" transform="rotate(4 476.4 444.3)" fill="#45ad1c" filter="url(#nb)"/>
<ellipse cx="541.1" cy="460.2" rx="6.0" ry="5.1" transform="rotate(-0 541.1 460.2)" fill="#41a21a" filter="url(#nb)"/>
</g>
<clipPath id="fc12"><rect x="567.0" y="397.0" width="87.0" height="87.0"/></clipPath>
<rect x="567.00" y="397.00" width="87.00" height="87.00" fill="#02021e"/>
<g clip-path="url(#fc12)">
<ellipse cx="601.6" cy="421.4" rx="5.8" ry="4.9" transform="rotate(35 601.6 421.4)" fill="#132e9b" filter="url(#nb2)"/>
<ellipse cx="628.0" cy="479.7" rx="6.6" ry="5.4" transform="rotate(4 628.0 479.7)" fill="#132c97" filter="url(#nb2)"/>
<ellipse cx="563.0" cy="420.5" rx="6.3" ry="5.4" transform="rotate(12 563.0 420.5)" fill="#132e9a" filter="url(#nb2)"/>
<ellipse cx="583.5" cy="438.4" rx="7.0" ry="6.3" transform="rotate(-26 583.5 438.4)" fill="#1430a1" filter="url(#nb2)"/>
<ellipse cx="623.8" cy="425.2" rx="6.9" ry="6.1" transform="rotate(14 623.8 425.2)" fill="#142f9e" filter="url(#nb2)"/>
<ellipse cx="584.6" cy="412.1" rx="5.6" ry="4.6" transform="rotate(-2 584.6 412.1)" fill="#1430a1" filter="url(#nb2)"/>
<ellipse cx="644.6" cy="400.0" rx="6.3" ry="5.4" transform="rotate(-24 644.6 400.0)" fill="#132c97" filter="url(#nb2)"/>
<ellipse cx="586.4" cy="456.0" rx="5.6" ry="5.0" transform="rotate(22 586.4 456.0)" fill="#142f9d" filter="url(#nb2)"/>
<ellipse cx="579.9" cy="485.0" rx="6.4" ry="5.1" transform="rotate(-20 579.9 485.0)" fill="#1531a4" filter="url(#nb2)"/>
<ellipse cx="644.4" cy="436.8" rx="6.9" ry="6.0" transform="rotate(39 644.4 436.8)" fill="#132e9b" filter="url(#nb2)"/>
<ellipse cx="649.1" cy="464.4" rx="6.4" ry="5.2" transform="rotate(-20 649.1 464.4)" fill="#1430a0" filter="url(#nb2)"/>
<ellipse cx="613.0" cy="453.2" rx="6.0" ry="4.8" transform="rotate(-17 613.0 453.2)" fill="#122c96" filter="url(#nb2)"/>
<ellipse cx="614.9" cy="406.3" rx="6.0" ry="5.2" transform="rotate(17 614.9 406.3)" fill="#1532a5" filter="url(#nb2)"/>
<ellipse cx="642.9" cy="417.2" rx="5.7" ry="4.5" transform="rotate(3 642.9 417.2)" fill="#142f9e" filter="url(#nb2)"/>
<ellipse cx="659.0" cy="426.6" rx="6.6" ry="5.9" transform="rotate(12 659.0 426.6)" fill="#132d98" filter="url(#nb2)"/>
<ellipse cx="582.1" cy="395.0" rx="5.8" ry="4.7" transform="rotate(14 582.1 395.0)" fill="#122c96" filter="url(#nb2)"/>
<ellipse cx="572.8" cy="467.2" rx="7.0" ry="6.0" transform="rotate(-30 572.8 467.2)" fill="#142f9d" filter="url(#nb2)"/>
<ellipse cx="595.8" cy="474.6" rx="6.9" ry="5.5" transform="rotate(37 595.8 474.6)" fill="#142f9d" filter="url(#nb2)"/>
<ellipse cx="599.4" cy="395.8" rx="7.0" ry="5.6" transform="rotate(-23 599.4 395.8)" fill="#122c95" filter="url(#nb2)"/>
<ellipse cx="564.4" cy="444.3" rx="6.0" ry="5.5" transform="rotate(4 564.4 444.3)" fill="#1532a5" filter="url(#nb2)"/>
<ellipse cx="629.1" cy="460.2" rx="7.1" ry="6.0" transform="rotate(-0 629.1 460.2)" fill="#1531a3" filter="url(#nb2)"/>
</g>
<clipPath id="fc20"><rect x="391.0" y="484.0" width="88.0" height="87.0"/></clipPath>
<rect x="391.00" y="484.00" width="88.00" height="87.00" fill="#73320a"/>
<g clip-path="url(#fc20)">
<ellipse cx="431.3" cy="491.3" rx="12.1" ry="10.3" fill="#76340a" opacity="0.3" filter="url(#cb)"/>
<ellipse cx="467.1" cy="574.1" rx="10.5" ry="9.0" fill="#76340a" opacity="0.3" filter="url(#cb)"/>
<ellipse cx="475.5" cy="528.8" rx="12.2" ry="11.0" fill="#76340a" opacity="0.3" filter="url(#cb)"/>
<ellipse cx="465.8" cy="507.2" rx="10.7" ry="9.2" fill="#76340a" opacity="0.3" filter="url(#cb)"/>
<ellipse cx="438.7" cy="513.1" rx="11.3" ry="9.7" fill="#76340a" opacity="0.3" filter="url(#cb)"/>
<ellipse cx="454.0" cy="534.9" rx="10.5" ry="9.3" fill="#76340a" opacity="0.3" filter="url(#cb)"/>
<ellipse cx="450.7" cy="558.8" rx="12.5" ry="10.6" fill="#76340a" opacity="0.3" filter="url(#cb)"/>
<ellipse cx="435.2" cy="536.7" rx="12.2" ry="11.0" fill="#76340a" opacity="0.3" filter="url(#cb)"/>
<ellipse cx="449.9" cy="494.8" rx="11.1" ry="10.2" fill="#76340a" opacity="0.3" filter="url(#cb)"/>
<ellipse cx="417.4" cy="549.0" rx="11.9" ry="10.7" fill="#76340a" opacity="0.3" filter="url(#cb)"/>
<ellipse cx="393.6" cy="540.6" rx="12.3" ry="11.3" fill="#76340a" opacity="0.3" filter="url(#cb)"/>
<ellipse cx="473.7" cy="484.4" rx="12.0" ry="9.9" fill="#76340a" opacity="0.3" filter="url(#cb)"/>
<ellipse cx="403.3" cy="487.6" rx="12.2" ry="10.6" fill="#76340a" opacity="0.3" filter="url(#cb)"/>
<ellipse cx="442.2" cy="575.3" rx="10.7" ry="9.8" fill="#76340a" opacity="0.3" filter="url(#cb)"/>
<ellipse cx="479.9" cy="557.2" rx="10.9" ry="9.7" fill="#76340a" opacity="0.3" filter="url(#cb)"/>
<ellipse cx="393.1" cy="559.1" rx="12.3" ry="10.1" fill="#76340a" opacity="0.3" filter="url(#cb)"/>
<ellipse cx="431.3" cy="491.3" rx="6.4" ry="5.4" transform="rotate(17 431.3 491.3)" fill="#83390c" filter="url(#nb)"/>
<ellipse cx="467.1" cy="574.1" rx="5.5" ry="4.7" transform="rotate(-9 467.1 574.1)" fill="#91400e" filter="url(#nb)"/>
<ellipse cx="475.5" cy="528.8" rx="6.4" ry="5.8" transform="rotate(-18 475.5 528.8)" fill="#853a0d" filter="url(#nb)"/>
<ellipse cx="465.8" cy="507.2" rx="5.6" ry="4.8" transform="rotate(40 465.8 507.2)" fill="#893c0d" filter="url(#nb)"/>
<ellipse cx="438.7" cy="513.1" rx="6.0" ry="5.1" transform="rotate(-4 438.7 513.1)" fill="#82390c" filter="url(#nb)"/>
<ellipse cx="454.0" cy="534.9" rx="5.5" ry="4.9" transform="rotate(-37 454.0 534.9)" fill="#903f0e" filter="url(#nb)"/>
<ellipse cx="450.7" cy="558.8" rx="6.6" ry="5.6" transform="rotate(-37 450.7 558.8)" fill="#82390c" filter="url(#nb)"/>
<ellipse cx="435.2" cy="536.7" rx="6.4" ry="5.8" transform="rotate(-5 435.2 536.7)" fill="#883c0d" filter="url(#nb)"/>
<ellipse cx="449.9" cy="494.8" rx="5.9" ry="5.4" transform="rotate(-13 449.9 494.8)" fill="#8c3d0d" filter="url(#nb)"/>
<ellipse cx="417.4" cy="549.0" rx="6.3" ry="5.7" transform="rotate(-37 417.4 549.0)" fill="#8d3e0d" filter="url(#nb)"/>
<ellipse cx="393.6" cy="540.6" rx="6.5" ry="6.0" transform="rotate(20 393.6 540.6)" fill="#91400e" filter="url(#nb)"/>
<ellipse cx="473.7" cy="484.4" rx="6.3" ry="5.2" transform="rotate(-10 473.7 484.4)" fill="#883b0d" filter="url(#nb)"/>
<ellipse cx="403.3" cy="487.6" rx="6.4" ry="5.6" transform="rotate(-21 403.3 487.6)" fill="#8d3e0d" filter="url(#nb)"/>
<ellipse cx="442.2" cy="575.3" rx="5.6" ry="5.1" transform="rotate(13 442.2 575.3)" fill="#83390c" filter="url(#nb)"/>
<ellipse cx="479.9" cy="557.2" rx="5.7" ry="5.1" transform="rotate(-39 479.9 557.2)" fill="#873b0d" filter="url(#nb)"/>
<ellipse cx="393.1" cy="559.1" rx="6.5" ry="5.3" transform="rotate(-7 393.1 559.1)" fill="#82390c" filter="url(#nb)"/>
</g>
<clipPath id="fc21"><rect x="479.0" y="484.0" width="88.0" height="87.0"/></clipPath>
<rect x="479.00" y="484.00" width="88.00" height="87.00" fill="#24560c"/>
<g clip-path="url(#fc21)">
<ellipse cx="519.3" cy="491.3" rx="12.1" ry="10.3" fill="#29620e" opacity="0.2" filter="url(#cb)"/>
<ellipse cx="555.1" cy="574.1" rx="10.5" ry="9.0" fill="#29620e" opacity="0.2" filter="url(#cb)"/>
<ellipse cx="563.5" cy="528.8" rx="12.2" ry="11.0" fill="#29620e" opacity="0.2" filter="url(#cb)"/>
<ellipse cx="553.8" cy="507.2" rx="10.7" ry="9.2" fill="#29620e" opacity="0.2" filter="url(#cb)"/>
<ellipse cx="526.7" cy="513.1" rx="11.3" ry="9.7" fill="#29620e" opacity="0.2" filter="url(#cb)"/>
<ellipse cx="542.0" cy="534.9" rx="10.5" ry="9.3" fill="#29620e" opacity="0.2" filter="url(#cb)"/>
<ellipse cx="538.7" cy="558.8" rx="12.5" ry="10.6" fill="#29620e" opacity="0.2" filter="url(#cb)"/>
<ellipse cx="523.2" cy="536.7" rx="12.2" ry="11.0" fill="#29620e" opacity="0.2" filter="url(#cb)"/>
<ellipse cx="537.9" cy="494.8" rx="11.1" ry="10.2" fill="#29620e" opacity="0.2" filter="url(#cb)"/>
<ellipse cx="505.4" cy="549.0" rx="11.9" ry="10.7" fill="#29620e" opacity="0.2" filter="url(#cb)"/>
<ellipse cx="481.6" cy="540.6" rx="12.3" ry="11.3" fill="#29620e" opacity="0.2" filter="url(#cb)"/>
<ellipse cx="561.7" cy="484.4" rx="12.0" ry="9.9" fill="#29620e" opacity="0.2" filter="url(#cb)"/>
<ellipse cx="491.3" cy="487.6" rx="12.2" ry="10.6" fill="#29620e" opacity="0.2" filter="url(#cb)"/>
<ellipse cx="530.2" cy="575.3" rx="10.7" ry="9.8" fill="#29620e" opacity="0.2" filter="url(#cb)"/>
<ellipse cx="567.9" cy="557.2" rx="10.9" ry="9.7" fill="#29620e" opacity="0.2" filter="url(#cb)"/>
<ellipse cx="481.1" cy="559.1" rx="12.3" ry="10.1" fill="#29620e" opacity="0.2" filter="url(#cb)"/>
<ellipse cx="519.3" cy="491.3" rx="5.4" ry="4.6" transform="rotate(17 519.3 491.3)" fill="#46a81e" filter="url(#nb)"/>
<ellipse cx="555.1" cy="574.1" rx="4.7" ry="4.0" transform="rotate(-9 555.1 574.1)" fill="#44a21d" filter="url(#nb)"/>
<ellipse cx="563.5" cy="528.8" rx="5.5" ry="4.9" transform="rotate(-18 563.5 528.8)" fill="#54c725" filter="url(#nb)"/>
<ellipse cx="553.8" cy="507.2" rx="4.8" ry="4.1" transform="rotate(40 553.8 507.2)" fill="#2e7112" filter="url(#nb)"/>
<ellipse cx="526.7" cy="513.1" rx="5.1" ry="4.3" transform="rotate(-4 526.7 513.1)" fill="#42a01c" filter="url(#nb)"/>
<ellipse cx="542.0" cy="534.9" rx="4.7" ry="4.2" transform="rotate(-37 542.0 534.9)" fill="#45a51d" filter="url(#nb)"/>
<ellipse cx="538.7" cy="558.8" rx="5.6" ry="4.7" transform="rotate(-37 538.7 558.8)" fill="#54c725" filter="url(#nb)"/>
<ellipse cx="523.2" cy="536.7" rx="5.5" ry="4.9" transform="rotate(-5 523.2 536.7)" fill="#52c024" filter="url(#nb)"/>
<ellipse cx="537.9" cy="494.8" rx="5.0" ry="4.6" transform="rotate(-13 537.9 494.8)" fill="#2e7112" filter="url(#nb)"/>
<ellipse cx="505.4" cy="549.0" rx="5.3" ry="4.8" transform="rotate(-37 505.4 549.0)" fill="#4cb521" filter="url(#nb)"/>
<ellipse cx="481.6" cy="540.6" rx="5.5" ry="5.1" transform="rotate(20 481.6 540.6)" fill="#48ab1f" filter="url(#nb)"/>
<ellipse cx="561.7" cy="484.4" rx="5.4" ry="4.4" transform="rotate(-10 561.7 484.4)" fill="#55c926" filter="url(#nb)"/>
<ellipse cx="491.3" cy="487.6" rx="5.5" ry="4.7" transform="rotate(-21 491.3 487.6)" fill="#429f1c" filter="url(#nb)"/>
<ellipse cx="530.2" cy="575.3" rx="4.8" ry="4.4" transform="rotate(13 530.2 575.3)" fill="#43a21c" filter="url(#nb)"/>
<ellipse cx="567.9" cy="557.2" rx="4.9" ry="4.3" transform="rotate(-39 567.9 557.2)" fill="#2e7112" filter="url(#nb)"/>
<ellipse cx="481.1" cy="559.1" rx="5.5" ry="4.5" transform="rotate(-7 481.1 559.1)" fill="#2e7112" filter="url(#nb)"/>
</g>
<clipPath id="fc22"><rect x="567.0" y="484.0" width="87.0" height="87.0"/></clipPath>
<rect x="567.00" y="484.00" width="87.00" height="87.00" fill="#02021e"/>
<g clip-path="url(#fc22)">
<ellipse cx="607.3" cy="491.3" rx="6.4" ry="5.4" transform="rotate(17 607.3 491.3)" fill="#1531a2" filter="url(#nb2)"/>
<ellipse cx="643.1" cy="574.1" rx="5.5" ry="4.7" transform="rotate(-9 643.1 574.1)" fill="#132e9b" filter="url(#nb2)"/>
<ellipse cx="651.5" cy="528.8" rx="6.4" ry="5.8" transform="rotate(-18 651.5 528.8)" fill="#14309f" filter="url(#nb2)"/>
<ellipse cx="641.8" cy="507.2" rx="5.6" ry="4.8" transform="rotate(40 641.8 507.2)" fill="#142f9f" filter="url(#nb2)"/>
<ellipse cx="614.7" cy="513.1" rx="6.0" ry="5.1" transform="rotate(-4 614.7 513.1)" fill="#142f9e" filter="url(#nb2)"/>
<ellipse cx="630.0" cy="534.9" rx="5.5" ry="4.9" transform="rotate(-37 630.0 534.9)" fill="#122b94" filter="url(#nb2)"/>
<ellipse cx="626.7" cy="558.8" rx="6.6" ry="5.6" transform="rotate(-37 626.7 558.8)" fill="#1431a1" filter="url(#nb2)"/>
<ellipse cx="611.2" cy="536.7" rx="6.4" ry="5.8" transform="rotate(-5 611.2 536.7)" fill="#132d98" filter="url(#nb2)"/>
<ellipse cx="625.9" cy="494.8" rx="5.9" ry="5.4" transform="rotate(-13 625.9 494.8)" fill="#122c96" filter="url(#nb2)"/>
<ellipse cx="593.4" cy="549.0" rx="6.3" ry="5.7" transform="rotate(-37 593.4 549.0)" fill="#142f9d" filter="url(#nb2)"/>
<ellipse cx="569.6" cy="540.6" rx="6.5" ry="6.0" transform="rotate(20 569.6 540.6)" fill="#122b95" filter="url(#nb2)"/>
<ellipse cx="649.7" cy="484.4" rx="6.3" ry="5.2" transform="rotate(-10 649.7 484.4)" fill="#1430a1" filter="url(#nb2)"/>
<ellipse cx="579.3" cy="487.6" rx="6.4" ry="5.6" transform="rotate(-21 579.3 487.6)" fill="#132c97" filter="url(#nb2)"/>
<ellipse cx="618.2" cy="575.3" rx="5.6" ry="5.1" transform="rotate(13 618.2 575.3)" fill="#132d97" filter="url(#nb2)"/>
<ellipse cx="655.9" cy="557.2" rx="5.7" ry="5.1" transform="rotate(-39 655.9 557.2)" fill="#1531a3" filter="url(#nb2)"/>
<ellipse cx="569.1" cy="559.1" rx="6.5" ry="5.3" transform="rotate(-7 569.1 559.1)" fill="#132d99" filter="url(#nb2)"/>
</g>
<rect x="431.70" y="390.50" width="38.50" height="1.40" fill="#f2e21c"/>
<text x="354.80" y="311.80" font-size="11">F</text>
<text x="435.50" y="307.20" font-size="9.5" text-anchor="middle">TAZ</text>
<text x="522.40" y="307.20" font-size="9.5" text-anchor="middle">YAP</text>
<text x="610.70" y="307.20" font-size="9.5" text-anchor="middle">DAPI</text>
<text x="386.30" y="355.70" font-size="9.4" text-anchor="middle" transform="rotate(-90 386.30 355.70)">shCtrl</text>
<text x="386.30" y="441.10" font-size="9.4" text-anchor="middle" transform="rotate(-90 386.30 441.10)">shSFTA1P#1</text>
<text x="386.30" y="522.00" font-size="9.4" text-anchor="middle" transform="rotate(-90 386.30 522.00)">shSFTA1P#2</text>
<text x="23.70" y="586.60" font-size="11">G</text>
<line x1="74.40" y1="587.60" x2="74.40" y2="689.40" stroke="#000" stroke-width="1.1"/>
<line x1="71.90" y1="689.40" x2="74.40" y2="689.40" stroke="#000" stroke-width="1.1"/>
<text x="71.60" y="691.81" font-size="6.9" text-anchor="end">0.0</text>
<line x1="71.90" y1="679.27" x2="74.40" y2="679.27" stroke="#000" stroke-width="1.1"/>
<text x="71.60" y="681.68" font-size="6.9" text-anchor="end">0.1</text>
<line x1="71.90" y1="669.14" x2="74.40" y2="669.14" stroke="#000" stroke-width="1.1"/>
<text x="71.60" y="671.55" font-size="6.9" text-anchor="end">0.2</text>
<line x1="71.90" y1="659.01" x2="74.40" y2="659.01" stroke="#000" stroke-width="1.1"/>
<text x="71.60" y="661.42" font-size="6.9" text-anchor="end">0.3</text>
<line x1="71.90" y1="648.88" x2="74.40" y2="648.88" stroke="#000" stroke-width="1.1"/>
<text x="71.60" y="651.29" font-size="6.9" text-anchor="end">0.4</text>
<line x1="71.90" y1="638.75" x2="74.40" y2="638.75" stroke="#000" stroke-width="1.1"/>
<text x="71.60" y="641.16" font-size="6.9" text-anchor="end">0.5</text>
<line x1="71.90" y1="628.62" x2="74.40" y2="628.62" stroke="#000" stroke-width="1.1"/>
<text x="71.60" y="631.03" font-size="6.9" text-anchor="end">0.6</text>
<line x1="71.90" y1="618.49" x2="74.40" y2="618.49" stroke="#000" stroke-width="1.1"/>
<text x="71.60" y="620.90" font-size="6.9" text-anchor="end">0.7</text>
<line x1="71.90" y1="608.36" x2="74.40" y2="608.36" stroke="#000" stroke-width="1.1"/>
<text x="71.60" y="610.77" font-size="6.9" text-anchor="end">0.8</text>
<line x1="71.90" y1="598.23" x2="74.40" y2="598.23" stroke="#000" stroke-width="1.1"/>
<text x="71.60" y="600.64" font-size="6.9" text-anchor="end">0.9</text>
<line x1="71.90" y1="588.10" x2="74.40" y2="588.10" stroke="#000" stroke-width="1.1"/>
<text x="71.60" y="590.51" font-size="6.9" text-anchor="end">1.0</text>
<line x1="74.40" y1="689.40" x2="225.00" y2="689.40" stroke="#000" stroke-width="1.1"/>
<text x="48.30" y="639.50" font-size="6.2" text-anchor="middle" transform="rotate(-90 48.30 639.50)">Nuclear Intensity/Whole Cell Intensity</text>
<rect x="80.45" y="633.68" width="10.50" height="55.72" fill="#fff" stroke="#3553b4" stroke-width="1.3"/>
<line x1="85.70" y1="636.72" x2="85.70" y2="630.65" stroke="#3553b4" stroke-width="1.1700000000000002"/>
<line x1="83.04" y1="630.65" x2="88.35" y2="630.65" stroke="#3553b4" stroke-width="1.1700000000000002"/>
<line x1="83.04" y1="636.72" x2="88.35" y2="636.72" stroke="#3553b4" stroke-width="1.1700000000000002"/>
<circle cx="85.70" cy="637.74" r="1.35" fill="#3553b4"/>
<circle cx="85.70" cy="631.66" r="1.35" fill="#3553b4"/>
<circle cx="85.70" cy="632.67" r="1.35" fill="#3553b4"/>
<line x1="85.70" y1="689.40" x2="85.70" y2="691.60" stroke="#000" stroke-width="0.9"/>
<text x="88.90" y="695.40" font-size="6.7" text-anchor="end" transform="rotate(-45 88.90 695.40)">shCtrl</text>
<rect x="104.05" y="629.63" width="10.30" height="59.77" fill="#fff" stroke="#3553b4" stroke-width="1.3"/>
<line x1="109.20" y1="641.79" x2="109.20" y2="616.46" stroke="#3553b4" stroke-width="1.1700000000000002"/>
<line x1="106.59" y1="616.46" x2="111.81" y2="616.46" stroke="#3553b4" stroke-width="1.1700000000000002"/>
<line x1="106.59" y1="641.79" x2="111.81" y2="641.79" stroke="#3553b4" stroke-width="1.1700000000000002"/>
<circle cx="109.20" cy="640.78" r="1.35" fill="#3553b4"/>
<circle cx="109.20" cy="633.68" r="1.35" fill="#3553b4"/>
<circle cx="109.20" cy="615.45" r="1.35" fill="#3553b4"/>
<line x1="109.20" y1="689.40" x2="109.20" y2="691.60" stroke="#000" stroke-width="0.9"/>
<text x="112.40" y="695.40" font-size="6.7" text-anchor="end" transform="rotate(-45 112.40 695.40)">shSFTA1P#1</text>
<rect x="127.55" y="643.81" width="10.40" height="45.59" fill="#fff" stroke="#3553b4" stroke-width="1.3"/>
<line x1="132.75" y1="650.91" x2="132.75" y2="636.72" stroke="#3553b4" stroke-width="1.1700000000000002"/>
<line x1="130.12" y1="636.72" x2="135.38" y2="636.72" stroke="#3553b4" stroke-width="1.1700000000000002"/>
<line x1="130.12" y1="650.91" x2="135.38" y2="650.91" stroke="#3553b4" stroke-width="1.1700000000000002"/>
<circle cx="132.75" cy="650.91" r="1.35" fill="#3553b4"/>
<circle cx="132.75" cy="646.85" r="1.35" fill="#3553b4"/>
<circle cx="132.75" cy="636.72" r="1.35" fill="#3553b4"/>
<line x1="132.75" y1="689.40" x2="132.75" y2="691.60" stroke="#000" stroke-width="0.9"/>
<text x="135.95" y="695.40" font-size="6.7" text-anchor="end" transform="rotate(-45 135.95 695.40)">shSFTA1P#2</text>
<rect x="162.75" y="640.78" width="10.10" height="48.62" fill="#fff" stroke="#e8302a" stroke-width="1.3"/>
<line x1="167.80" y1="643.81" x2="167.80" y2="636.72" stroke="#e8302a" stroke-width="1.1700000000000002"/>
<line x1="165.24" y1="636.72" x2="170.37" y2="636.72" stroke="#e8302a" stroke-width="1.1700000000000002"/>
<line x1="165.24" y1="643.81" x2="170.37" y2="643.81" stroke="#e8302a" stroke-width="1.1700000000000002"/>
<circle cx="167.80" cy="643.81" r="1.35" fill="#e8302a"/>
<circle cx="167.80" cy="637.74" r="1.35" fill="#e8302a"/>
<circle cx="167.80" cy="637.74" r="1.35" fill="#e8302a"/>
<line x1="167.80" y1="689.40" x2="167.80" y2="691.60" stroke="#000" stroke-width="0.9"/>
<text x="171.00" y="695.40" font-size="6.7" text-anchor="end" transform="rotate(-45 171.00 695.40)">shCtrl</text>
<rect x="185.95" y="638.75" width="10.40" height="50.65" fill="#fff" stroke="#e8302a" stroke-width="1.3"/>
<line x1="191.15" y1="650.91" x2="191.15" y2="625.58" stroke="#e8302a" stroke-width="1.1700000000000002"/>
<line x1="188.52" y1="625.58" x2="193.78" y2="625.58" stroke="#e8302a" stroke-width="1.1700000000000002"/>
<line x1="188.52" y1="650.91" x2="193.78" y2="650.91" stroke="#e8302a" stroke-width="1.1700000000000002"/>
<circle cx="191.15" cy="649.89" r="1.35" fill="#e8302a"/>
<circle cx="191.15" cy="638.75" r="1.35" fill="#e8302a"/>
<circle cx="191.15" cy="625.58" r="1.35" fill="#e8302a"/>
<line x1="191.15" y1="689.40" x2="191.15" y2="691.60" stroke="#000" stroke-width="0.9"/>
<text x="194.35" y="695.40" font-size="6.7" text-anchor="end" transform="rotate(-45 194.35 695.40)">shSFTA1P#1</text>
<rect x="209.45" y="655.97" width="9.80" height="33.43" fill="#fff" stroke="#e8302a" stroke-width="1.3"/>
<line x1="214.35" y1="660.02" x2="214.35" y2="650.91" stroke="#e8302a" stroke-width="1.1700000000000002"/>
<line x1="211.85" y1="650.91" x2="216.85" y2="650.91" stroke="#e8302a" stroke-width="1.1700000000000002"/>
<line x1="211.85" y1="660.02" x2="216.85" y2="660.02" stroke="#e8302a" stroke-width="1.1700000000000002"/>
<circle cx="214.35" cy="660.02" r="1.35" fill="#e8302a"/>
<circle cx="214.35" cy="655.97" r="1.35" fill="#e8302a"/>
<circle cx="214.35" cy="650.91" r="1.35" fill="#e8302a"/>
<line x1="214.35" y1="689.40" x2="214.35" y2="691.60" stroke="#000" stroke-width="0.9"/>
<text x="217.55" y="695.40" font-size="6.7" text-anchor="end" transform="rotate(-45 217.55 695.40)">shSFTA1P#2</text>
<circle cx="116.60" cy="592.30" r="1.20" fill="#3553b4"/>
<text x="127.10" y="594.60" font-size="6.6">YAP</text>
<circle cx="151.40" cy="592.30" r="1.20" fill="#e8302a"/>
<text x="162.20" y="594.60" font-size="6.6">TAZ</text>
<polyline points="166.90,619.80 166.90,617.00 213.80,617.00 213.80,639.20" stroke="#000" stroke-width="0.9" fill="none"/>
<text x="190.60" y="611.40" font-size="7.6" text-anchor="middle">*</text>
<text x="251.90" y="586.60" font-size="11">H</text>
<line x1="276.40" y1="592.00" x2="276.40" y2="695.10" stroke="#000" stroke-width="1.1"/>
<line x1="273.90" y1="695.10" x2="276.40" y2="695.10" stroke="#000" stroke-width="1.1"/>
<text x="273.30" y="697.55" font-size="7.0" text-anchor="end">0</text>
<line x1="273.90" y1="678.00" x2="276.40" y2="678.00" stroke="#000" stroke-width="1.1"/>
<text x="273.30" y="680.45" font-size="7.0" text-anchor="end">1</text>
<line x1="273.90" y1="660.90" x2="276.40" y2="660.90" stroke="#000" stroke-width="1.1"/>
<text x="273.30" y="663.35" font-size="7.0" text-anchor="end">2</text>
<line x1="273.90" y1="643.80" x2="276.40" y2="643.80" stroke="#000" stroke-width="1.1"/>
<text x="273.30" y="646.25" font-size="7.0" text-anchor="end">3</text>
<line x1="273.90" y1="626.70" x2="276.40" y2="626.70" stroke="#000" stroke-width="1.1"/>
<text x="273.30" y="629.15" font-size="7.0" text-anchor="end">4</text>
<line x1="273.90" y1="609.60" x2="276.40" y2="609.60" stroke="#000" stroke-width="1.1"/>
<text x="273.30" y="612.05" font-size="7.0" text-anchor="end">5</text>
<line x1="273.90" y1="592.50" x2="276.40" y2="592.50" stroke="#000" stroke-width="1.1"/>
<text x="273.30" y="594.95" font-size="7.0" text-anchor="end">6</text>
<line x1="276.40" y1="695.10" x2="431.00" y2="695.10" stroke="#000" stroke-width="1.1"/>
<line x1="295.60" y1="695.10" x2="295.60" y2="697.30" stroke="#000" stroke-width="1"/>
<text x="295.60" y="705.60" font-size="7.1" text-anchor="middle">day1</text>
<line x1="334.50" y1="695.10" x2="334.50" y2="697.30" stroke="#000" stroke-width="1"/>
<text x="334.50" y="705.60" font-size="7.1" text-anchor="middle">day2</text>
<line x1="373.30" y1="695.10" x2="373.30" y2="697.30" stroke="#000" stroke-width="1"/>
<text x="373.30" y="705.60" font-size="7.1" text-anchor="middle">day3</text>
<line x1="412.10" y1="695.10" x2="412.10" y2="697.30" stroke="#000" stroke-width="1"/>
<text x="412.10" y="705.60" font-size="7.1" text-anchor="middle">day4</text>
<text x="261.20" y="644.70" font-size="6.4" text-anchor="middle" transform="rotate(-90 261.20 644.70)">Relative cell growth</text>
<polyline points="295.60,678.00 334.50,660.90 373.30,642.09 412.10,611.31" stroke="#b038e8" stroke-width="1.2" fill="none"/>
<polygon points="293.76,676.56 297.44,676.56 295.60,679.76" fill="#b038e8"/>
<polygon points="332.66,659.46 336.34,659.46 334.50,662.66" fill="#b038e8"/>
<line x1="334.50" y1="659.19" x2="334.50" y2="662.61" stroke="#b038e8" stroke-width="1.2"/>
<line x1="332.30" y1="659.19" x2="336.70" y2="659.19" stroke="#b038e8" stroke-width="1.2"/>
<line x1="332.30" y1="662.61" x2="336.70" y2="662.61" stroke="#b038e8" stroke-width="1.2"/>
<polygon points="371.46,640.65 375.14,640.65 373.30,643.85" fill="#b038e8"/>
<line x1="373.30" y1="640.38" x2="373.30" y2="643.80" stroke="#b038e8" stroke-width="1.2"/>
<line x1="371.10" y1="640.38" x2="375.50" y2="640.38" stroke="#b038e8" stroke-width="1.2"/>
<line x1="371.10" y1="643.80" x2="375.50" y2="643.80" stroke="#b038e8" stroke-width="1.2"/>
<polygon points="410.26,609.87 413.94,609.87 412.10,613.07" fill="#b038e8"/>
<line x1="412.10" y1="609.60" x2="412.10" y2="613.02" stroke="#b038e8" stroke-width="1.2"/>
<line x1="409.90" y1="609.60" x2="414.30" y2="609.60" stroke="#b038e8" stroke-width="1.2"/>
<line x1="409.90" y1="613.02" x2="414.30" y2="613.02" stroke="#b038e8" stroke-width="1.2"/>
<polyline points="295.60,678.00 334.50,672.01 373.30,678.51 412.10,683.47" stroke="#22b822" stroke-width="1.7" fill="none"/>
<rect x="293.70" y="676.10" width="3.80" height="3.80" fill="#22b822"/>
<rect x="332.60" y="670.12" width="3.80" height="3.80" fill="#22b822"/>
<rect x="371.40" y="676.61" width="3.80" height="3.80" fill="#22b822"/>
<rect x="410.20" y="681.57" width="3.80" height="3.80" fill="#22b822"/>
<polyline points="295.60,678.00 334.50,664.32 373.30,661.41 412.10,655.77" stroke="#f01c1c" stroke-width="1.7" fill="none"/>
<rect x="293.70" y="676.10" width="3.80" height="3.80" fill="#f01c1c"/>
<rect x="332.60" y="662.42" width="3.80" height="3.80" fill="#f01c1c"/>
<line x1="334.50" y1="663.29" x2="334.50" y2="665.35" stroke="#f01c1c" stroke-width="1.2"/>
<line x1="332.30" y1="663.29" x2="336.70" y2="663.29" stroke="#f01c1c" stroke-width="1.2"/>
<line x1="332.30" y1="665.35" x2="336.70" y2="665.35" stroke="#f01c1c" stroke-width="1.2"/>
<rect x="371.40" y="659.51" width="3.80" height="3.80" fill="#f01c1c"/>
<line x1="373.30" y1="660.39" x2="373.30" y2="662.44" stroke="#f01c1c" stroke-width="1.2"/>
<line x1="371.10" y1="660.39" x2="375.50" y2="660.39" stroke="#f01c1c" stroke-width="1.2"/>
<line x1="371.10" y1="662.44" x2="375.50" y2="662.44" stroke="#f01c1c" stroke-width="1.2"/>
<rect x="410.20" y="653.87" width="3.80" height="3.80" fill="#f01c1c"/>
<line x1="412.10" y1="654.74" x2="412.10" y2="656.80" stroke="#f01c1c" stroke-width="1.2"/>
<line x1="409.90" y1="654.74" x2="414.30" y2="654.74" stroke="#f01c1c" stroke-width="1.2"/>
<line x1="409.90" y1="656.80" x2="414.30" y2="656.80" stroke="#f01c1c" stroke-width="1.2"/>
<polyline points="295.60,678.00 334.50,654.91 373.30,633.54 412.10,596.77" stroke="#1c1cf0" stroke-width="2.0" fill="none"/>
<circle cx="295.60" cy="678.00" r="1.90" fill="#1c1cf0"/>
<circle cx="334.50" cy="654.91" r="1.90" fill="#1c1cf0"/>
<line x1="334.50" y1="653.21" x2="334.50" y2="656.62" stroke="#1c1cf0" stroke-width="1.2"/>
<line x1="332.30" y1="653.21" x2="336.70" y2="653.21" stroke="#1c1cf0" stroke-width="1.2"/>
<line x1="332.30" y1="656.62" x2="336.70" y2="656.62" stroke="#1c1cf0" stroke-width="1.2"/>
<circle cx="373.30" cy="633.54" r="1.90" fill="#1c1cf0"/>
<line x1="373.30" y1="631.83" x2="373.30" y2="635.25" stroke="#1c1cf0" stroke-width="1.2"/>
<line x1="371.10" y1="631.83" x2="375.50" y2="631.83" stroke="#1c1cf0" stroke-width="1.2"/>
<line x1="371.10" y1="635.25" x2="375.50" y2="635.25" stroke="#1c1cf0" stroke-width="1.2"/>
<circle cx="412.10" cy="596.77" r="1.90" fill="#1c1cf0"/>
<line x1="412.10" y1="595.07" x2="412.10" y2="598.49" stroke="#1c1cf0" stroke-width="1.2"/>
<line x1="409.90" y1="595.07" x2="414.30" y2="595.07" stroke="#1c1cf0" stroke-width="1.2"/>
<line x1="409.90" y1="598.49" x2="414.30" y2="598.49" stroke="#1c1cf0" stroke-width="1.2"/>
<line x1="286.40" y1="592.90" x2="297.80" y2="592.90" stroke="#1c1cf0" stroke-width="1.7"/>
<circle cx="292.10" cy="592.90" r="1.70" fill="#1c1cf0"/>
<text x="302.70" y="595.20" font-size="6.6">siCtrl</text>
<line x1="286.40" y1="600.40" x2="297.80" y2="600.40" stroke="#f01c1c" stroke-width="1.7"/>
<polygon points="290.15,601.93 294.06,601.93 292.10,598.53" fill="#f01c1c"/>
<text x="302.70" y="602.70" font-size="6.6">siTAZ</text>
<line x1="286.40" y1="607.40" x2="297.80" y2="607.40" stroke="#22b822" stroke-width="1.7"/>
<rect x="290.40" y="605.70" width="3.40" height="3.40" fill="#22b822"/>
<text x="302.70" y="609.70" font-size="6.6">siTAZ+YAP</text>
<line x1="286.40" y1="616.50" x2="297.80" y2="616.50" stroke="#b038e8" stroke-width="1.1"/>
<polygon points="290.61,615.33 293.60,615.33 292.10,617.93" fill="#b038e8"/>
<text x="302.70" y="618.80" font-size="6.6">siYAP</text>
<polyline points="419.40,593.40 426.70,593.40 426.70,609.20 419.40,609.20" stroke="#000" stroke-width="0.9" fill="none"/>
<text x="433.00" y="608.20" font-size="7.4" text-anchor="middle">***</text>
<polyline points="419.40,593.40 439.60,593.40 439.60,656.20 420.90,656.20" stroke="#000" stroke-width="0.9" fill="none"/>
<text x="446.80" y="629.80" font-size="7.4" text-anchor="middle">***</text>
<polyline points="419.40,593.40 453.40,593.40 453.40,680.00 420.10,680.00" stroke="#000" stroke-width="0.9" fill="none"/>
<text x="462.50" y="632.30" font-size="7.4" text-anchor="middle">***</text>
<text x="472.60" y="586.40" font-size="11">I</text>
<line x1="508.70" y1="591.80" x2="508.70" y2="695.50" stroke="#000" stroke-width="1.1"/>
<line x1="506.20" y1="695.50" x2="508.70" y2="695.50" stroke="#000" stroke-width="1.1"/>
<text x="505.60" y="698.02" font-size="7.2" text-anchor="end">0.0</text>
<line x1="506.20" y1="682.60" x2="508.70" y2="682.60" stroke="#000" stroke-width="1.1"/>
<text x="505.60" y="685.12" font-size="7.2" text-anchor="end">0.2</text>
<line x1="506.20" y1="669.70" x2="508.70" y2="669.70" stroke="#000" stroke-width="1.1"/>
<text x="505.60" y="672.22" font-size="7.2" text-anchor="end">0.4</text>
<line x1="506.20" y1="656.80" x2="508.70" y2="656.80" stroke="#000" stroke-width="1.1"/>
<text x="505.60" y="659.32" font-size="7.2" text-anchor="end">0.6</text>
<line x1="506.20" y1="643.90" x2="508.70" y2="643.90" stroke="#000" stroke-width="1.1"/>
<text x="505.60" y="646.42" font-size="7.2" text-anchor="end">0.8</text>
<line x1="506.20" y1="631.00" x2="508.70" y2="631.00" stroke="#000" stroke-width="1.1"/>
<text x="505.60" y="633.52" font-size="7.2" text-anchor="end">1.0</text>
<line x1="506.20" y1="618.10" x2="508.70" y2="618.10" stroke="#000" stroke-width="1.1"/>
<text x="505.60" y="620.62" font-size="7.2" text-anchor="end">1.2</text>
<line x1="506.20" y1="605.20" x2="508.70" y2="605.20" stroke="#000" stroke-width="1.1"/>
<text x="505.60" y="607.72" font-size="7.2" text-anchor="end">1.4</text>
<line x1="506.20" y1="592.30" x2="508.70" y2="592.30" stroke="#000" stroke-width="1.1"/>
<text x="505.60" y="594.82" font-size="7.2" text-anchor="end">1.6</text>
<line x1="508.70" y1="695.50" x2="664.00" y2="695.50" stroke="#000" stroke-width="1.1"/>
<text x="488.60" y="643.70" font-size="6.9" text-anchor="middle" transform="rotate(-90 488.60 643.70)">Relative RNA Expression</text>
<rect x="514.20" y="631.00" width="4.00" height="64.50" fill="#fff" stroke="#3553b4" stroke-width="1.2"/>
<line x1="516.20" y1="635.51" x2="516.20" y2="626.49" stroke="#3553b4" stroke-width="1.08"/>
<line x1="515.03" y1="626.49" x2="517.37" y2="626.49" stroke="#3553b4" stroke-width="1.08"/>
<line x1="515.03" y1="635.51" x2="517.37" y2="635.51" stroke="#3553b4" stroke-width="1.08"/>
<circle cx="516.20" cy="626.94" r="1.20" fill="#3553b4"/>
<circle cx="516.20" cy="631.00" r="1.20" fill="#3553b4"/>
<circle cx="516.20" cy="634.16" r="1.20" fill="#3553b4"/>
<rect x="522.40" y="650.35" width="4.00" height="45.15" fill="#fff" stroke="#e8302a" stroke-width="1.2"/>
<line x1="524.40" y1="656.80" x2="524.40" y2="643.90" stroke="#e8302a" stroke-width="1.08"/>
<line x1="523.23" y1="643.90" x2="525.57" y2="643.90" stroke="#e8302a" stroke-width="1.08"/>
<line x1="523.23" y1="656.80" x2="525.57" y2="656.80" stroke="#e8302a" stroke-width="1.08"/>
<rect x="523.20" y="643.34" width="2.40" height="2.40" fill="#e8302a"/>
<rect x="523.20" y="649.15" width="2.40" height="2.40" fill="#e8302a"/>
<rect x="523.20" y="653.66" width="2.40" height="2.40" fill="#e8302a"/>
<ellipse cx="532.5" cy="694.3" rx="2.6" ry="1.6" fill="#2ecc2e"/>
<rect x="539.00" y="660.67" width="4.00" height="34.83" fill="#fff" stroke="#9a2ed0" stroke-width="1.2"/>
<line x1="541.00" y1="664.54" x2="541.00" y2="656.80" stroke="#9a2ed0" stroke-width="1.08"/>
<line x1="539.83" y1="656.80" x2="542.17" y2="656.80" stroke="#9a2ed0" stroke-width="1.08"/>
<line x1="539.83" y1="664.54" x2="542.17" y2="664.54" stroke="#9a2ed0" stroke-width="1.08"/>
<polygon points="539.62,656.11 542.38,656.11 541.00,658.51" fill="#9a2ed0"/>
<polygon points="539.62,659.59 542.38,659.59 541.00,661.99" fill="#9a2ed0"/>
<polygon points="539.62,662.30 542.38,662.30 541.00,664.70" fill="#9a2ed0"/>
<text x="528.20" y="706.30" font-size="7.2" text-anchor="middle">SFTA1P</text>
<line x1="528.20" y1="695.50" x2="528.20" y2="697.50" stroke="#000" stroke-width="0.9"/>
<rect x="552.70" y="631.64" width="4.00" height="63.86" fill="#fff" stroke="#3553b4" stroke-width="1.2"/>
<line x1="554.70" y1="634.23" x2="554.70" y2="629.07" stroke="#3553b4" stroke-width="1.08"/>
<line x1="553.53" y1="629.07" x2="555.87" y2="629.07" stroke="#3553b4" stroke-width="1.08"/>
<line x1="553.53" y1="634.23" x2="555.87" y2="634.23" stroke="#3553b4" stroke-width="1.08"/>
<circle cx="554.70" cy="629.32" r="1.20" fill="#3553b4"/>
<circle cx="554.70" cy="631.64" r="1.20" fill="#3553b4"/>
<circle cx="554.70" cy="633.45" r="1.20" fill="#3553b4"/>
<rect x="560.90" y="687.12" width="4.00" height="8.38" fill="#fff" stroke="#e8302a" stroke-width="1.2"/>
<line x1="562.90" y1="689.05" x2="562.90" y2="685.18" stroke="#e8302a" stroke-width="1.08"/>
<line x1="561.73" y1="685.18" x2="564.07" y2="685.18" stroke="#e8302a" stroke-width="1.08"/>
<line x1="561.73" y1="689.05" x2="564.07" y2="689.05" stroke="#e8302a" stroke-width="1.08"/>
<rect x="561.70" y="684.17" width="2.40" height="2.40" fill="#e8302a"/>
<rect x="561.70" y="685.91" width="2.40" height="2.40" fill="#e8302a"/>
<rect x="561.70" y="687.27" width="2.40" height="2.40" fill="#e8302a"/>
<ellipse cx="571.0" cy="694.3" rx="2.6" ry="1.6" fill="#2ecc2e"/>
<rect x="577.50" y="657.45" width="4.00" height="38.05" fill="#fff" stroke="#9a2ed0" stroke-width="1.2"/>
<line x1="579.50" y1="659.38" x2="579.50" y2="655.51" stroke="#9a2ed0" stroke-width="1.08"/>
<line x1="578.33" y1="655.51" x2="580.67" y2="655.51" stroke="#9a2ed0" stroke-width="1.08"/>
<line x1="578.33" y1="659.38" x2="580.67" y2="659.38" stroke="#9a2ed0" stroke-width="1.08"/>
<polygon points="578.12,654.62 580.88,654.62 579.50,657.02" fill="#9a2ed0"/>
<polygon points="578.12,656.37 580.88,656.37 579.50,658.77" fill="#9a2ed0"/>
<polygon points="578.12,657.72 580.88,657.72 579.50,660.12" fill="#9a2ed0"/>
<text x="566.70" y="706.30" font-size="7.2" text-anchor="middle">ANKRD1</text>
<line x1="566.70" y1="695.50" x2="566.70" y2="697.50" stroke="#000" stroke-width="0.9"/>
<rect x="591.70" y="631.64" width="4.00" height="63.86" fill="#fff" stroke="#3553b4" stroke-width="1.2"/>
<line x1="593.70" y1="635.51" x2="593.70" y2="627.77" stroke="#3553b4" stroke-width="1.08"/>
<line x1="592.53" y1="627.77" x2="594.87" y2="627.77" stroke="#3553b4" stroke-width="1.08"/>
<line x1="592.53" y1="635.51" x2="594.87" y2="635.51" stroke="#3553b4" stroke-width="1.08"/>
<circle cx="593.70" cy="628.16" r="1.20" fill="#3553b4"/>
<circle cx="593.70" cy="631.64" r="1.20" fill="#3553b4"/>
<circle cx="593.70" cy="634.35" r="1.20" fill="#3553b4"/>
<rect x="599.90" y="667.76" width="4.00" height="27.74" fill="#fff" stroke="#e8302a" stroke-width="1.2"/>
<line x1="601.90" y1="669.05" x2="601.90" y2="666.48" stroke="#e8302a" stroke-width="1.08"/>
<line x1="600.73" y1="666.48" x2="603.07" y2="666.48" stroke="#e8302a" stroke-width="1.08"/>
<line x1="600.73" y1="669.05" x2="603.07" y2="669.05" stroke="#e8302a" stroke-width="1.08"/>
<rect x="600.70" y="665.40" width="2.40" height="2.40" fill="#e8302a"/>
<rect x="600.70" y="666.56" width="2.40" height="2.40" fill="#e8302a"/>
<rect x="600.70" y="667.47" width="2.40" height="2.40" fill="#e8302a"/>
<ellipse cx="610.0" cy="694.3" rx="2.6" ry="1.6" fill="#2ecc2e"/>
<rect x="616.50" y="676.15" width="4.00" height="19.35" fill="#fff" stroke="#9a2ed0" stroke-width="1.2"/>
<line x1="618.50" y1="678.09" x2="618.50" y2="674.22" stroke="#9a2ed0" stroke-width="1.08"/>
<line x1="617.33" y1="674.22" x2="619.67" y2="674.22" stroke="#9a2ed0" stroke-width="1.08"/>
<line x1="617.33" y1="678.09" x2="619.67" y2="678.09" stroke="#9a2ed0" stroke-width="1.08"/>
<polygon points="617.12,673.33 619.88,673.33 618.50,675.73" fill="#9a2ed0"/>
<polygon points="617.12,675.07 619.88,675.07 618.50,677.47" fill="#9a2ed0"/>
<polygon points="617.12,676.42 619.88,676.42 618.50,678.82" fill="#9a2ed0"/>
<text x="605.70" y="706.30" font-size="7.2" text-anchor="middle">CTGF</text>
<line x1="605.70" y1="695.50" x2="605.70" y2="697.50" stroke="#000" stroke-width="0.9"/>
<rect x="629.80" y="631.64" width="4.00" height="63.86" fill="#fff" stroke="#3553b4" stroke-width="1.2"/>
<line x1="631.80" y1="635.51" x2="631.80" y2="627.77" stroke="#3553b4" stroke-width="1.08"/>
<line x1="630.63" y1="627.77" x2="632.97" y2="627.77" stroke="#3553b4" stroke-width="1.08"/>
<line x1="630.63" y1="635.51" x2="632.97" y2="635.51" stroke="#3553b4" stroke-width="1.08"/>
<circle cx="631.80" cy="628.16" r="1.20" fill="#3553b4"/>
<circle cx="631.80" cy="631.64" r="1.20" fill="#3553b4"/>
<circle cx="631.80" cy="634.35" r="1.20" fill="#3553b4"/>
<rect x="638.00" y="669.70" width="4.00" height="25.80" fill="#fff" stroke="#e8302a" stroke-width="1.2"/>
<line x1="640.00" y1="670.35" x2="640.00" y2="669.05" stroke="#e8302a" stroke-width="1.08"/>
<line x1="638.83" y1="669.05" x2="641.17" y2="669.05" stroke="#e8302a" stroke-width="1.08"/>
<line x1="638.83" y1="670.35" x2="641.17" y2="670.35" stroke="#e8302a" stroke-width="1.08"/>
<rect x="638.80" y="667.92" width="2.40" height="2.40" fill="#e8302a"/>
<rect x="638.80" y="668.50" width="2.40" height="2.40" fill="#e8302a"/>
<rect x="638.80" y="668.95" width="2.40" height="2.40" fill="#e8302a"/>
<ellipse cx="648.1" cy="694.3" rx="2.6" ry="1.6" fill="#2ecc2e"/>
<rect x="654.60" y="663.89" width="4.00" height="31.61" fill="#fff" stroke="#9a2ed0" stroke-width="1.2"/>
<line x1="656.60" y1="667.12" x2="656.60" y2="660.67" stroke="#9a2ed0" stroke-width="1.08"/>
<line x1="655.43" y1="660.67" x2="657.77" y2="660.67" stroke="#9a2ed0" stroke-width="1.08"/>
<line x1="655.43" y1="667.12" x2="657.77" y2="667.12" stroke="#9a2ed0" stroke-width="1.08"/>
<polygon points="655.22,659.91 657.98,659.91 656.60,662.31" fill="#9a2ed0"/>
<polygon points="655.22,662.81 657.98,662.81 656.60,665.22" fill="#9a2ed0"/>
<polygon points="655.22,665.07 657.98,665.07 656.60,667.47" fill="#9a2ed0"/>
<text x="643.80" y="706.30" font-size="7.2" text-anchor="middle">CYR61</text>
<line x1="643.80" y1="695.50" x2="643.80" y2="697.50" stroke="#000" stroke-width="0.9"/>
<circle cx="517.80" cy="588.70" r="1.30" fill="#3553b4"/>
<text x="529.70" y="591.30" font-size="6.9">siCtrl</text>
<rect x="516.60" y="595.70" width="2.40" height="2.40" fill="#e8302a"/>
<text x="529.70" y="599.50" font-size="6.9">siTAZ</text>
<polygon points="557.74,589.69 560.26,589.69 559.00,587.49" fill="#2ecc2e"/>
<text x="570.70" y="591.30" font-size="6.9">si YAP+TAZ</text>
<polygon points="557.74,595.91 560.26,595.91 559.00,598.11" fill="#9a2ed0"/>
<text x="570.70" y="599.50" font-size="6.9">si YAP</text>
<polyline points="516.00,623.00 516.00,612.30 541.20,612.30 541.20,650.00" stroke="#000" stroke-width="0.9" fill="none"/>
<text x="528.60" y="613.90" font-size="7.2" text-anchor="middle">***</text>
<polyline points="516.00,623.00 516.00,618.40 528.00,618.40 528.00,634.20" stroke="#000" stroke-width="0.9" fill="none"/>
<text x="521.80" y="620.10" font-size="7.2" text-anchor="middle">**</text>
<polyline points="523.30,637.70 523.30,634.20 532.40,634.20 532.40,642.90" stroke="#000" stroke-width="0.9" fill="none"/>
<polyline points="554.30,624.50 554.30,618.00 570.70,618.00 570.70,647.30" stroke="#000" stroke-width="0.9" fill="none"/>
<text x="562.50" y="620.10" font-size="7.2" text-anchor="middle">***</text>
<polyline points="561.30,651.70 561.30,647.30 578.80,647.30 578.80,651.70" stroke="#000" stroke-width="0.9" fill="none"/>
<polyline points="593.30,624.50 593.30,618.00 609.70,618.00 609.70,647.30" stroke="#000" stroke-width="0.9" fill="none"/>
<text x="601.50" y="620.10" font-size="7.2" text-anchor="middle">***</text>
<polyline points="600.30,651.70 600.30,647.30 617.80,647.30 617.80,651.70" stroke="#000" stroke-width="0.9" fill="none"/>
<polyline points="631.40,624.50 631.40,618.00 647.80,618.00 647.80,647.30" stroke="#000" stroke-width="0.9" fill="none"/>
<text x="639.60" y="620.10" font-size="7.2" text-anchor="middle">***</text>
<polyline points="638.40,651.70 638.40,647.30 655.90,647.30 655.90,651.70" stroke="#000" stroke-width="0.9" fill="none"/>
<rect x="0.00" y="719.50" width="240.00" height="149.50" fill="#fff"/>
<rect x="15.00" y="791.50" width="205.00" height="69.00" fill="#f9f9f9"/>
<text x="23.70" y="741.20" font-size="11">J</text>
<rect x="76.90" y="742.40" width="55.80" height="1.50" fill="#333"/>
<rect x="141.10" y="742.40" width="55.40" height="1.50" fill="#333"/>
<text x="101.70" y="740.80" font-size="8.4" text-anchor="middle">GFP</text>
<text x="171.90" y="740.80" font-size="8.4" text-anchor="middle">TAZ</text>
<text x="74.90" y="793.60" font-size="8.4" transform="rotate(-45 74.90 793.60)">shCtrl</text>
<text x="98.50" y="792.50" font-size="8.4" transform="rotate(-45 98.50 792.50)">shSFTA1P#1</text>
<text x="120.30" y="792.00" font-size="8.4" transform="rotate(-45 120.30 792.00)">shSFTA1P#2</text>
<text x="140.20" y="792.00" font-size="8.4" transform="rotate(-45 140.20 792.00)">shCtrl</text>
<text x="163.00" y="792.00" font-size="8.4" transform="rotate(-45 163.00 792.00)">shSFTA1P#1</text>
<text x="184.10" y="792.00" font-size="8.4" transform="rotate(-45 184.10 792.00)">shSFTA1P#2</text>
<clipPath id="bc13"><rect x="65.60" y="795.10" width="127.40" height="15.40"/></clipPath>
<rect x="65.60" y="795.10" width="127.40" height="15.40" fill="#f9f9f9"/>
<g clip-path="url(#bc13)">
<rect x="69.40" y="799.40" width="17.60" height="4.80" rx="2.16" fill="#0a0a0a" opacity="1" filter="url(#bl)"/>
<rect x="90.30" y="799.40" width="17.70" height="4.80" rx="2.16" fill="#0a0a0a" opacity="1" filter="url(#bl)"/>
<rect x="112.00" y="799.40" width="17.50" height="4.80" rx="2.16" fill="#0a0a0a" opacity="1" filter="url(#bl)"/>
<rect x="132.70" y="799.40" width="17.00" height="4.80" rx="2.16" fill="#0a0a0a" opacity="1" filter="url(#bl)"/>
<rect x="152.90" y="799.40" width="17.10" height="4.80" rx="2.16" fill="#0a0a0a" opacity="1" filter="url(#bl)"/>
<rect x="173.80" y="798.00" width="16.00" height="4.40" rx="1.98" fill="#0a0a0a" opacity="1" filter="url(#bl)"/>
<rect x="69.40" y="806.20" width="17.60" height="2.20" rx="0.99" fill="#0a0a0a" opacity="0.3" filter="url(#bl)"/>
<rect x="90.30" y="806.20" width="17.70" height="2.20" rx="0.99" fill="#0a0a0a" opacity="0.3" filter="url(#bl)"/>
<rect x="112.00" y="806.20" width="17.50" height="2.20" rx="0.99" fill="#0a0a0a" opacity="0.3" filter="url(#bl)"/>
<rect x="132.70" y="806.20" width="17.00" height="2.20" rx="0.99" fill="#0a0a0a" opacity="0.3" filter="url(#bl)"/>
<rect x="152.90" y="806.20" width="17.10" height="2.20" rx="0.99" fill="#0a0a0a" opacity="0.3" filter="url(#bl)"/>
</g>
<rect x="65.60" y="795.10" width="127.40" height="15.40" fill="none" stroke="#000" stroke-width="1.3"/>
<clipPath id="bc14"><rect x="65.60" y="815.30" width="127.40" height="17.70"/></clipPath>
<rect x="65.60" y="815.30" width="127.40" height="17.70" fill="#f9f9f9"/>
<g clip-path="url(#bc14)">
<rect x="69.40" y="824.80" width="17.60" height="3.60" rx="1.62" fill="#0a0a0a" opacity="0.6" filter="url(#bl)"/>
<rect x="90.30" y="824.90" width="15.70" height="3.40" rx="1.53" fill="#0a0a0a" opacity="0.45" filter="url(#bl)"/>
<rect x="112.00" y="825.30" width="17.50" height="3.00" rx="1.35" fill="#0a0a0a" opacity="0.1" filter="url(#bl)"/>
<rect x="131.50" y="820.30" width="19.00" height="8.00" rx="3.60" fill="#0a0a0a" opacity="1" filter="url(#bl)"/>
<rect x="152.50" y="822.00" width="18.00" height="6.00" rx="2.70" fill="#0a0a0a" opacity="1" filter="url(#bl)"/>
<rect x="173.50" y="818.90" width="17.00" height="5.60" rx="2.52" fill="#0a0a0a" opacity="1" filter="url(#bl)"/>
</g>
<rect x="65.60" y="815.30" width="127.40" height="17.70" fill="none" stroke="#000" stroke-width="1.3"/>
<clipPath id="bc15"><rect x="65.60" y="837.20" width="127.40" height="14.10"/></clipPath>
<rect x="65.60" y="837.20" width="127.40" height="14.10" fill="#f9f9f9"/>
<g clip-path="url(#bc15)">
<rect x="66.00" y="840.30" width="44.00" height="6.60" rx="2.97" fill="#0a0a0a" opacity="1" filter="url(#bl)"/>
<rect x="108.00" y="840.30" width="44.00" height="6.60" rx="2.97" fill="#0a0a0a" opacity="1" filter="url(#bl)"/>
<rect x="150.00" y="839.70" width="43.00" height="6.60" rx="2.97" fill="#0a0a0a" opacity="1" filter="url(#bl)"/>
</g>
<rect x="65.60" y="837.20" width="127.40" height="14.10" fill="none" stroke="#000" stroke-width="1.3"/>
<text x="58.80" y="807.00" font-size="7.85" text-anchor="end">YAP</text>
<text x="58.80" y="824.60" font-size="7.85" text-anchor="end">TAZ</text>
<text x="58.80" y="841.30" font-size="7.85" text-anchor="end">GAPDH</text>
<line x1="193.00" y1="796.70" x2="197.50" y2="796.70" stroke="#000" stroke-width="1.0"/>
<text x="198.70" y="798.90" font-size="6.1">75 kD</text>
<line x1="193.00" y1="825.60" x2="197.50" y2="825.60" stroke="#000" stroke-width="1.0"/>
<text x="198.70" y="827.80" font-size="6.1">50 kD</text>
<line x1="193.00" y1="839.40" x2="197.50" y2="839.40" stroke="#000" stroke-width="1.0"/>
<text x="198.70" y="841.60" font-size="6.1">37 kD</text>
<text x="251.90" y="740.90" font-size="11">K</text>
<line x1="285.20" y1="742.80" x2="285.20" y2="794.50" stroke="#000" stroke-width="1.1"/>
<line x1="282.70" y1="743.30" x2="285.20" y2="743.30" stroke="#000" stroke-width="1.1"/>
<text x="282.60" y="745.75" font-size="7.0" text-anchor="end">15</text>
<line x1="282.70" y1="763.60" x2="285.20" y2="763.60" stroke="#000" stroke-width="1.1"/>
<text x="282.60" y="766.05" font-size="7.0" text-anchor="end">10</text>
<line x1="282.70" y1="783.90" x2="285.20" y2="783.90" stroke="#000" stroke-width="1.1"/>
<text x="282.60" y="786.35" font-size="7.0" text-anchor="end">5</text>
<line x1="285.20" y1="805.00" x2="285.20" y2="857.10" stroke="#000" stroke-width="1.1"/>
<line x1="282.70" y1="857.10" x2="285.20" y2="857.10" stroke="#000" stroke-width="1.1"/>
<text x="282.60" y="859.55" font-size="7.0" text-anchor="end">0.0</text>
<line x1="282.70" y1="839.60" x2="285.20" y2="839.60" stroke="#000" stroke-width="1.1"/>
<text x="282.60" y="842.05" font-size="7.0" text-anchor="end">0.5</text>
<line x1="282.70" y1="822.10" x2="285.20" y2="822.10" stroke="#000" stroke-width="1.1"/>
<text x="282.60" y="824.55" font-size="7.0" text-anchor="end">1.0</text>
<line x1="282.70" y1="804.60" x2="285.20" y2="804.60" stroke="#000" stroke-width="1.1"/>
<text x="282.60" y="807.05" font-size="7.0" text-anchor="end">1.5</text>
<line x1="282.90" y1="793.10" x2="287.60" y2="798.40" stroke="#000" stroke-width="1.1"/>
<line x1="282.90" y1="802.40" x2="287.60" y2="807.70" stroke="#000" stroke-width="1.1"/>
<line x1="285.20" y1="857.10" x2="454.70" y2="857.10" stroke="#000" stroke-width="1.1"/>
<text x="259.00" y="802.30" font-size="6.15" text-anchor="middle" transform="rotate(-90 259.00 802.30)">Relative mRNA Expression</text>
<rect x="289.80" y="822.10" width="3.40" height="35.00" fill="#fff" stroke="#3553b4" stroke-width="1.1"/>
<rect x="289.10" y="821.50" width="4.80" height="1.80" fill="#3553b4" rx="0.9"/>
<rect x="298.60" y="780.65" width="3.40" height="76.45" fill="#fff" stroke="#e8352e" stroke-width="1.1"/>
<rect x="297.70" y="795.80" width="5.20" height="9.00" fill="#fff"/>
<rect x="297.90" y="780.05" width="4.80" height="1.80" fill="#e8352e" rx="0.9"/>
<rect x="307.40" y="844.50" width="3.40" height="12.60" fill="#fff" stroke="#3cc43c" stroke-width="1.1"/>
<rect x="306.70" y="843.90" width="4.80" height="1.80" fill="#3cc43c" rx="0.9"/>
<rect x="316.20" y="792.83" width="3.40" height="64.27" fill="#fff" stroke="#9b30d0" stroke-width="1.1"/>
<rect x="315.30" y="795.80" width="5.20" height="9.00" fill="#fff"/>
<rect x="315.50" y="792.23" width="4.80" height="1.80" fill="#9b30d0" rx="0.9"/>
<rect x="325.00" y="846.95" width="3.40" height="10.15" fill="#fff" stroke="#f5962a" stroke-width="1.1"/>
<rect x="324.30" y="846.35" width="4.80" height="1.80" fill="#f5962a" rx="0.9"/>
<rect x="333.80" y="764.82" width="3.40" height="92.28" fill="#fff" stroke="#111" stroke-width="1.1"/>
<rect x="332.90" y="795.80" width="5.20" height="9.00" fill="#fff"/>
<rect x="333.10" y="764.22" width="4.80" height="1.80" fill="#111" rx="0.9"/>
<text x="313.50" y="867.00" font-size="6.3" text-anchor="middle">ANKRD1</text>
<line x1="313.50" y1="857.10" x2="313.50" y2="859.10" stroke="#000" stroke-width="0.9"/>
<rect x="346.20" y="822.10" width="3.40" height="35.00" fill="#fff" stroke="#3553b4" stroke-width="1.1"/>
<rect x="345.50" y="821.50" width="4.80" height="1.80" fill="#3553b4" rx="0.9"/>
<rect x="355.00" y="822.80" width="3.40" height="34.30" fill="#fff" stroke="#e8352e" stroke-width="1.1"/>
<rect x="354.30" y="822.20" width="4.80" height="1.80" fill="#e8352e" rx="0.9"/>
<rect x="363.80" y="849.40" width="3.40" height="7.70" fill="#fff" stroke="#3cc43c" stroke-width="1.1"/>
<rect x="363.10" y="848.80" width="4.80" height="1.80" fill="#3cc43c" rx="0.9"/>
<rect x="372.60" y="844.50" width="3.40" height="12.60" fill="#fff" stroke="#9b30d0" stroke-width="1.1"/>
<rect x="371.90" y="843.90" width="4.80" height="1.80" fill="#9b30d0" rx="0.9"/>
<rect x="381.40" y="837.50" width="3.40" height="19.60" fill="#fff" stroke="#f5962a" stroke-width="1.1"/>
<rect x="380.70" y="836.90" width="4.80" height="1.80" fill="#f5962a" rx="0.9"/>
<rect x="390.20" y="815.80" width="3.40" height="41.30" fill="#fff" stroke="#111" stroke-width="1.1"/>
<rect x="389.50" y="815.20" width="4.80" height="1.80" fill="#111" rx="0.9"/>
<text x="369.90" y="867.00" font-size="6.3" text-anchor="middle">CTGF</text>
<line x1="369.90" y1="857.10" x2="369.90" y2="859.10" stroke="#000" stroke-width="0.9"/>
<rect x="403.10" y="821.40" width="3.40" height="35.70" fill="#fff" stroke="#3553b4" stroke-width="1.1"/>
<rect x="402.40" y="820.80" width="4.80" height="1.80" fill="#3553b4" rx="0.9"/>
<rect x="411.90" y="814.40" width="3.40" height="42.70" fill="#fff" stroke="#e8352e" stroke-width="1.1"/>
<rect x="411.20" y="813.80" width="4.80" height="1.80" fill="#e8352e" rx="0.9"/>
<rect x="420.70" y="849.40" width="3.40" height="7.70" fill="#fff" stroke="#3cc43c" stroke-width="1.1"/>
<rect x="420.00" y="848.80" width="4.80" height="1.80" fill="#3cc43c" rx="0.9"/>
<rect x="429.50" y="844.85" width="3.40" height="12.25" fill="#fff" stroke="#9b30d0" stroke-width="1.1"/>
<rect x="428.80" y="844.25" width="4.80" height="1.80" fill="#9b30d0" rx="0.9"/>
<rect x="438.30" y="845.90" width="3.40" height="11.20" fill="#fff" stroke="#f5962a" stroke-width="1.1"/>
<rect x="437.60" y="845.30" width="4.80" height="1.80" fill="#f5962a" rx="0.9"/>
<rect x="447.10" y="817.90" width="3.40" height="39.20" fill="#fff" stroke="#111" stroke-width="1.1"/>
<rect x="446.40" y="817.30" width="4.80" height="1.80" fill="#111" rx="0.9"/>
<text x="426.80" y="867.00" font-size="6.3" text-anchor="middle">CYR61</text>
<line x1="426.80" y1="857.10" x2="426.80" y2="859.10" stroke="#000" stroke-width="0.9"/>
<polyline points="291.30,812.00 291.30,761.20 300.40,761.20 300.40,768.20" stroke="#000" stroke-width="0.9" fill="none"/>
<text x="295.80" y="758.40" font-size="7.4" text-anchor="middle">**</text>
<polyline points="308.70,840.00 308.70,761.20 317.60,761.20 317.60,778.70" stroke="#000" stroke-width="0.9" fill="none"/>
<text x="313.20" y="758.40" font-size="7.4" text-anchor="middle">***</text>
<polyline points="326.20,845.00 326.20,755.40 335.40,755.40 335.40,757.60" stroke="#000" stroke-width="0.9" fill="none"/>
<text x="330.80" y="755.30" font-size="7.4" text-anchor="middle">***</text>
<polyline points="365.40,843.30 365.40,831.00 374.20,831.00 374.20,839.00" stroke="#000" stroke-width="0.9" fill="none"/>
<text x="369.80" y="830.10" font-size="7.0" text-anchor="middle">***</text>
<polyline points="382.90,831.00 382.90,810.00 391.70,810.00 391.70,811.80" stroke="#000" stroke-width="0.9" fill="none"/>
<text x="387.30" y="809.90" font-size="7.0" text-anchor="middle">***</text>
<polyline points="404.80,814.40 404.80,809.70 413.60,809.70 413.60,811.00" stroke="#000" stroke-width="0.9" fill="none"/>
<text x="409.20" y="809.60" font-size="7.0" text-anchor="middle">**</text>
<polyline points="422.30,843.30 422.30,834.60 431.00,834.60 431.00,836.50" stroke="#000" stroke-width="0.9" fill="none"/>
<text x="426.60" y="834.10" font-size="7.0" text-anchor="middle">*</text>
<polyline points="439.80,841.60 439.80,808.30 448.60,808.30 448.60,810.00" stroke="#000" stroke-width="0.9" fill="none"/>
<text x="444.20" y="809.60" font-size="7.0" text-anchor="middle">*</text>
<circle cx="342.10" cy="748.20" r="0.90" fill="#3553b4"/>
<text x="354.30" y="750.20" font-size="5.45">GFP-shCtrl</text>
<polygon points="341.06,756.21 343.14,756.21 342.10,754.41" fill="#3cc43c"/>
<text x="354.30" y="757.40" font-size="5.45">GFP-shSFTA1P#1</text>
<rect x="341.20" y="761.90" width="1.80" height="1.80" fill="#f5962a"/>
<text x="354.30" y="764.80" font-size="5.45">GFP-shSFTA1P#2</text>
<circle cx="405.10" cy="748.20" r="0.90" fill="#e8352e"/>
<text x="417.30" y="750.20" font-size="5.45">TAZ-shCtrl</text>
<polygon points="404.06,754.59 406.14,754.59 405.10,756.39" fill="#9b30d0"/>
<text x="417.30" y="757.40" font-size="5.45">TAZ-shSFTA1P#1</text>
<polygon points="404.06,763.61 406.14,763.61 405.10,761.81" fill="#111"/>
<text x="417.30" y="764.80" font-size="5.45">TAZ-shSFTA1P#2</text>
<text x="478.90" y="740.90" font-size="11">L</text>
<line x1="501.20" y1="749.30" x2="501.20" y2="856.90" stroke="#000" stroke-width="1.1"/>
<line x1="498.70" y1="841.60" x2="501.20" y2="841.60" stroke="#000" stroke-width="1.1"/>
<text x="498.30" y="844.12" font-size="7.2" text-anchor="end">1</text>
<line x1="498.70" y1="826.30" x2="501.20" y2="826.30" stroke="#000" stroke-width="1.1"/>
<text x="498.30" y="828.82" font-size="7.2" text-anchor="end">2</text>
<line x1="498.70" y1="811.00" x2="501.20" y2="811.00" stroke="#000" stroke-width="1.1"/>
<text x="498.30" y="813.52" font-size="7.2" text-anchor="end">3</text>
<line x1="498.70" y1="795.70" x2="501.20" y2="795.70" stroke="#000" stroke-width="1.1"/>
<text x="498.30" y="798.22" font-size="7.2" text-anchor="end">4</text>
<line x1="498.70" y1="780.40" x2="501.20" y2="780.40" stroke="#000" stroke-width="1.1"/>
<text x="498.30" y="782.92" font-size="7.2" text-anchor="end">5</text>
<line x1="498.70" y1="765.10" x2="501.20" y2="765.10" stroke="#000" stroke-width="1.1"/>
<text x="498.30" y="767.62" font-size="7.2" text-anchor="end">6</text>
<line x1="498.70" y1="749.80" x2="501.20" y2="749.80" stroke="#000" stroke-width="1.1"/>
<text x="498.30" y="752.32" font-size="7.2" text-anchor="end">7</text>
<line x1="501.20" y1="856.90" x2="662.20" y2="856.90" stroke="#000" stroke-width="1.1"/>
<line x1="521.30" y1="856.90" x2="521.30" y2="859.10" stroke="#000" stroke-width="1"/>
<text x="521.30" y="867.40" font-size="7.2" text-anchor="middle">day1</text>
<line x1="561.70" y1="856.90" x2="561.70" y2="859.10" stroke="#000" stroke-width="1"/>
<text x="561.70" y="867.40" font-size="7.2" text-anchor="middle">day2</text>
<line x1="602.40" y1="856.90" x2="602.40" y2="859.10" stroke="#000" stroke-width="1"/>
<text x="602.40" y="867.40" font-size="7.2" text-anchor="middle">day3</text>
<line x1="642.90" y1="856.90" x2="642.90" y2="859.10" stroke="#000" stroke-width="1"/>
<text x="642.90" y="867.40" font-size="7.2" text-anchor="middle">day4</text>
<text x="485.20" y="803.00" font-size="6.8" text-anchor="middle" transform="rotate(-90 485.20 803.00)">Relative cell growth</text>
<polyline points="521.30,841.60 561.70,843.89 602.40,845.88 642.90,844.97" stroke="#b030e0" stroke-width="1.3" fill="none"/>
<rect x="518.50" y="838.80" width="5.60" height="5.60" fill="none" stroke="#b030e0" stroke-width="1.0"/>
<rect x="558.90" y="841.10" width="5.60" height="5.60" fill="none" stroke="#b030e0" stroke-width="1.0"/>
<rect x="599.60" y="843.08" width="5.60" height="5.60" fill="none" stroke="#b030e0" stroke-width="1.0"/>
<rect x="640.10" y="842.17" width="5.60" height="5.60" fill="none" stroke="#b030e0" stroke-width="1.0"/>
<polyline points="521.30,841.60 561.70,841.91 602.40,841.91 642.90,836.25" stroke="#f59a30" stroke-width="1.3" fill="none"/>
<polygon points="519.69,842.86 522.91,842.86 521.30,840.06" fill="#f59a30"/>
<polygon points="560.09,843.17 563.31,843.17 561.70,840.37" fill="#f59a30"/>
<polygon points="600.79,843.17 604.01,843.17 602.40,840.37" fill="#f59a30"/>
<polygon points="641.29,837.50 644.51,837.50 642.90,834.71" fill="#f59a30"/>
<polyline points="521.30,841.60 561.70,839.30 602.40,837.01 642.90,831.65" stroke="#111" stroke-width="1.3" fill="none"/>
<polygon points="518.30,844.00 524.30,844.00 521.30,838.60" fill="none" stroke="#111" stroke-width="1"/>
<polygon points="558.70,841.70 564.70,841.70 561.70,836.30" fill="none" stroke="#111" stroke-width="1"/>
<polygon points="599.40,839.41 605.40,839.41 602.40,834.01" fill="none" stroke="#111" stroke-width="1"/>
<polygon points="639.90,834.05 645.90,834.05 642.90,828.65" fill="none" stroke="#111" stroke-width="1"/>
<polyline points="521.30,841.60 561.70,838.54 602.40,835.79 642.90,830.58" stroke="#22b822" stroke-width="1.3" fill="none"/>
<circle cx="521.30" cy="841.60" r="2.20" fill="#22b822"/>
<circle cx="561.70" cy="838.54" r="2.20" fill="#22b822"/>
<circle cx="602.40" cy="835.79" r="2.20" fill="#22b822"/>
<circle cx="642.90" cy="830.58" r="2.20" fill="#22b822"/>
<polyline points="521.30,841.60 561.70,831.65 602.40,809.93 642.90,772.75" stroke="#f01c1c" stroke-width="1.3" fill="none"/>
<circle cx="521.30" cy="841.60" r="3.00" fill="none" stroke="#f01c1c" stroke-width="1.1"/>
<circle cx="561.70" cy="831.65" r="3.00" fill="none" stroke="#f01c1c" stroke-width="1.1"/>
<circle cx="602.40" cy="809.93" r="3.00" fill="none" stroke="#f01c1c" stroke-width="1.1"/>
<circle cx="642.90" cy="772.75" r="3.00" fill="none" stroke="#f01c1c" stroke-width="1.1"/>
<polyline points="521.30,841.60 561.70,831.96 602.40,810.24 642.90,775.04" stroke="#1c1cf0" stroke-width="1.3" fill="none"/>
<circle cx="521.30" cy="841.60" r="1.30" fill="#1c1cf0"/>
<circle cx="561.70" cy="831.96" r="1.30" fill="#1c1cf0"/>
<circle cx="602.40" cy="810.24" r="1.30" fill="#1c1cf0"/>
<circle cx="642.90" cy="775.04" r="1.30" fill="#1c1cf0"/>
<line x1="642.90" y1="777.34" x2="642.90" y2="772.75" stroke="#1c1cf0" stroke-width="1.1"/>
<line x1="640.70" y1="772.75" x2="645.10" y2="772.75" stroke="#1c1cf0" stroke-width="1.1"/>
<line x1="642.90" y1="775.04" x2="642.90" y2="769.38" stroke="#f01c1c" stroke-width="1.1"/>
<line x1="640.70" y1="769.38" x2="645.10" y2="769.38" stroke="#f01c1c" stroke-width="1.1"/>
<polyline points="648.00,830.70 653.70,830.70 653.70,837.00 648.00,837.00" stroke="#000" stroke-width="0.9" fill="none"/>
<text x="658.00" y="836.90" font-size="7.4" text-anchor="middle">*</text>
<line x1="509.90" y1="749.80" x2="520.40" y2="749.80" stroke="#1c1cf0" stroke-width="1.3"/>
<circle cx="515.10" cy="749.80" r="1.30" fill="#1c1cf0"/>
<text x="526.20" y="751.70" font-size="5.2">GFP-shCtrl</text>
<line x1="509.90" y1="761.50" x2="520.40" y2="761.50" stroke="#22b822" stroke-width="1.3"/>
<circle cx="515.10" cy="761.50" r="2.20" fill="#22b822"/>
<text x="526.20" y="763.40" font-size="5.2">GFP-shSFTA1P#1</text>
<line x1="509.90" y1="772.20" x2="520.40" y2="772.20" stroke="#f59a30" stroke-width="1.3"/>
<polygon points="513.49,773.46 516.71,773.46 515.10,770.66" fill="#f59a30"/>
<text x="526.20" y="774.10" font-size="5.2">GFP-shSFTA1P#2</text>
<line x1="572.40" y1="749.60" x2="585.00" y2="749.60" stroke="#f01c1c" stroke-width="1.3"/>
<circle cx="578.70" cy="749.60" r="3.00" fill="none" stroke="#f01c1c" stroke-width="1.1"/>
<text x="589.20" y="751.50" font-size="5.4">TAZ-shCtrl</text>
<line x1="572.40" y1="761.00" x2="585.00" y2="761.00" stroke="#b030e0" stroke-width="1.3"/>
<rect x="575.90" y="758.20" width="5.60" height="5.60" fill="none" stroke="#b030e0" stroke-width="1.0"/>
<text x="589.20" y="762.90" font-size="5.4">TAZ-shSFTA1P#1</text>
<line x1="572.40" y1="772.10" x2="585.00" y2="772.10" stroke="#111" stroke-width="1.3"/>
<polygon points="575.70,774.50 581.70,774.50 578.70,769.10" fill="none" stroke="#111" stroke-width="1"/>
<text x="589.20" y="774.00" font-size="5.4">TAZ-shSFTA1P#2</text>
</svg>
</body></html>
